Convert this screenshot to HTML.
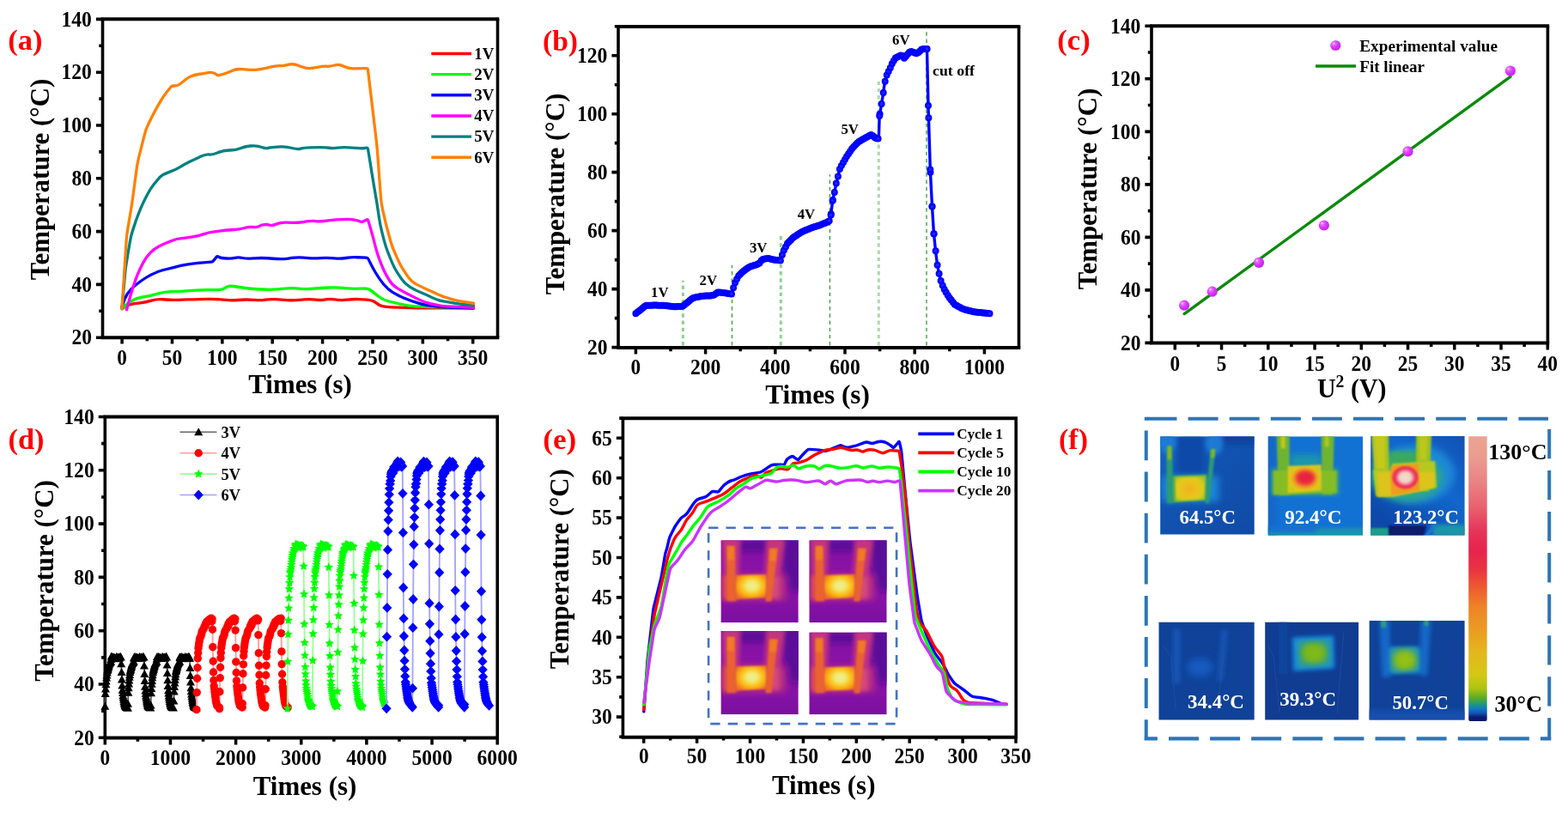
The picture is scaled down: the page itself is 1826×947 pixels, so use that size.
<!DOCTYPE html>
<html lang="en"><head><meta charset="utf-8"><title>Figure</title>
<style>html,body{margin:0;padding:0;background:#fff;overflow:hidden}svg{display:block}text{font-family:"Liberation Serif","DejaVu Serif",serif;font-weight:bold}</style>
</head><body>
<svg width="1826" height="947" viewBox="0 0 1826 947">
<rect width="1826" height="947" fill="#fff"/>
<path d="M117.70 22.30H581.30M117.70 393.30H581.30" fill="none" stroke="#000" stroke-width="4.0"/>
<path d="M119.50 22.30V393.30M579.50 22.30V393.30" fill="none" stroke="#000" stroke-width="3.6"/>
<path d="M142.10 393.30v7.2M200.47 393.30v7.2M258.84 393.30v7.2M317.21 393.30v7.2M375.59 393.30v7.2M433.96 393.30v7.2M492.33 393.30v7.2M550.70 393.30v7.2M171.29 393.30v4.0M229.66 393.30v4.0M288.03 393.30v4.0M346.40 393.30v4.0M404.77 393.30v4.0M463.14 393.30v4.0M521.51 393.30v4.0" stroke="#000" stroke-width="3.5" fill="none"/>
<text x="142.1" y="425.3" font-size="24.5" text-anchor="middle" fill="#000" textLength="11.6" lengthAdjust="spacingAndGlyphs" >0</text>
<text x="200.5" y="425.3" font-size="24.5" text-anchor="middle" fill="#000" textLength="23.5" lengthAdjust="spacingAndGlyphs" >50</text>
<text x="258.8" y="425.3" font-size="24.5" text-anchor="middle" fill="#000" textLength="35.4" lengthAdjust="spacingAndGlyphs" >100</text>
<text x="317.2" y="425.3" font-size="24.5" text-anchor="middle" fill="#000" textLength="35.4" lengthAdjust="spacingAndGlyphs" >150</text>
<text x="375.6" y="425.3" font-size="24.5" text-anchor="middle" fill="#000" textLength="35.4" lengthAdjust="spacingAndGlyphs" >200</text>
<text x="434.0" y="425.3" font-size="24.5" text-anchor="middle" fill="#000" textLength="35.4" lengthAdjust="spacingAndGlyphs" >250</text>
<text x="492.3" y="425.3" font-size="24.5" text-anchor="middle" fill="#000" textLength="35.4" lengthAdjust="spacingAndGlyphs" >300</text>
<text x="550.7" y="425.3" font-size="24.5" text-anchor="middle" fill="#000" textLength="35.4" lengthAdjust="spacingAndGlyphs" >350</text>
<path d="M119.50 393.20h-7.6M119.50 331.40h-7.6M119.50 269.60h-7.6M119.50 207.80h-7.6M119.50 146.00h-7.6M119.50 84.20h-7.6M119.50 22.40h-7.6M119.50 362.30h-4.2M119.50 300.50h-4.2M119.50 238.70h-4.2M119.50 176.90h-4.2M119.50 115.10h-4.2M119.50 53.30h-4.2" stroke="#000" stroke-width="3.6" fill="none"/>
<text x="106.9" y="401.4" font-size="24.5" text-anchor="end" fill="#000" textLength="23.5" lengthAdjust="spacingAndGlyphs" >20</text>
<text x="106.9" y="339.6" font-size="24.5" text-anchor="end" fill="#000" textLength="23.5" lengthAdjust="spacingAndGlyphs" >40</text>
<text x="106.9" y="277.8" font-size="24.5" text-anchor="end" fill="#000" textLength="23.5" lengthAdjust="spacingAndGlyphs" >60</text>
<text x="106.9" y="216.0" font-size="24.5" text-anchor="end" fill="#000" textLength="23.5" lengthAdjust="spacingAndGlyphs" >80</text>
<text x="106.9" y="154.2" font-size="24.5" text-anchor="end" fill="#000" textLength="35.4" lengthAdjust="spacingAndGlyphs" >100</text>
<text x="106.9" y="92.4" font-size="24.5" text-anchor="end" fill="#000" textLength="35.4" lengthAdjust="spacingAndGlyphs" >120</text>
<text x="106.9" y="30.6" font-size="24.5" text-anchor="end" fill="#000" textLength="35.4" lengthAdjust="spacingAndGlyphs" >140</text>
<text x="349.5" y="458.0" font-size="31" text-anchor="middle" fill="#000" textLength="120.5" lengthAdjust="spacingAndGlyphs" >Times (s)</text>
<text transform="translate(57.0,209.0) rotate(-90)" font-size="31" text-anchor="middle" fill="#000" textLength="234.5" lengthAdjust="spacingAndGlyphs">Temperature (°C)</text>
<text x="29.4" y="57.8" font-size="34" text-anchor="middle" fill="#f00" textLength="40.3" lengthAdjust="spacingAndGlyphs" >(a)</text>
<path d="M142.00 359.50L146.00 357.00Q150.00 354.50 156.95 353.63L163.05 352.87Q170.00 352.00 176.25 350.12L176.25 350.12Q182.50 348.25 189.48 348.75L193.02 349.00Q200.00 349.50 207.00 349.29L218.00 348.96Q225.00 348.75 232.00 348.61L243.00 348.39Q250.00 348.25 256.97 348.86L263.03 349.39Q270.00 350.00 276.98 349.50L280.52 349.25Q287.50 348.75 294.48 349.28L297.02 349.47Q304.00 350.00 309.00 349.12L309.00 349.12Q314.00 348.25 320.99 348.69L334.51 349.56Q341.50 350.00 348.47 349.39L354.53 348.86Q361.50 348.25 367.75 349.12L367.75 349.12Q374.00 350.00 379.00 348.88L379.00 348.88Q384.00 347.75 390.25 348.88L390.25 348.88Q396.50 350.00 403.45 349.19L404.55 349.06Q411.50 348.25 418.49 348.64L427.01 349.11Q434.00 349.50 437.75 352.62L437.75 352.62Q441.50 355.75 445.25 356.62L445.25 356.62Q449.00 357.50 455.99 357.79L472.01 358.46Q479.00 358.75 486.00 358.75L551.50 358.75" fill="none" stroke="#ff0000" stroke-width="3.3" stroke-linejoin="round" stroke-linecap="round" />
<path d="M142.00 359.50L146.00 355.75Q150.00 352.00 155.00 349.50L155.00 349.50Q160.00 347.00 166.25 346.00L166.25 346.00Q172.50 345.00 179.29 343.30L185.71 341.70Q192.50 340.00 199.49 339.72L210.51 339.28Q217.50 339.00 224.47 338.40L228.03 338.10Q235.00 337.50 242.00 337.57L251.75 337.68Q258.75 337.75 261.88 335.50L261.88 335.50Q265.00 333.25 267.50 333.25L267.50 333.25Q270.00 333.25 276.93 334.25L285.57 335.50Q292.50 336.50 298.25 336.75L298.25 336.75Q304.00 337.00 310.25 337.25L310.25 337.25Q316.50 337.50 323.47 336.87L334.53 335.88Q341.50 335.25 347.75 336.12L347.75 336.12Q354.00 337.00 360.98 336.50L382.02 335.00Q389.00 334.50 395.97 335.12L404.53 335.88Q411.50 336.50 418.49 336.20L422.01 336.05Q429.00 335.75 432.75 338.88L432.75 338.88Q436.50 342.00 441.50 345.75L441.50 345.75Q446.50 349.50 452.75 351.00L452.75 351.00Q459.00 352.50 465.82 354.06L469.68 354.94Q476.50 356.50 483.49 356.81L492.01 357.19Q499.00 357.50 506.00 357.67L551.50 358.75" fill="none" stroke="#00ff00" stroke-width="3.3" stroke-linejoin="round" stroke-linecap="round" />
<path d="M142.00 357.00L145.09 348.57Q147.50 342.00 152.45 337.05L152.55 336.95Q157.50 332.00 163.23 327.99L164.27 327.26Q170.00 323.25 176.16 319.92L176.34 319.83Q182.50 316.50 189.28 314.76L193.22 313.74Q200.00 312.00 206.80 310.35L210.70 309.40Q217.50 307.75 224.47 307.05L230.53 306.45Q237.50 305.75 242.50 305.38L246.00 305.11Q247.50 305.00 248.45 303.84L252.05 299.41Q253.00 298.25 254.31 298.98L255.25 299.50Q257.50 300.75 263.75 301.00L263.75 301.00Q270.00 301.25 273.75 300.38L273.75 300.38Q277.50 299.50 282.50 300.50L282.50 300.50Q287.50 301.50 294.48 300.97L297.02 300.78Q304.00 300.25 310.98 300.74L322.02 301.51Q329.00 302.00 335.93 301.01L339.57 300.49Q346.50 299.50 353.47 300.11L359.53 300.64Q366.50 301.25 372.75 300.62L372.75 300.62Q379.00 300.00 385.97 300.60L389.53 300.90Q396.50 301.50 402.75 300.50L402.75 300.50Q409.00 299.50 415.99 299.77L426.75 300.19Q428.25 300.25 428.91 301.60L431.12 306.12Q434.00 312.00 437.60 318.00L437.90 318.50Q441.50 324.50 445.87 329.97L447.13 331.53Q451.50 337.00 457.50 340.60L458.00 340.90Q464.00 344.50 470.46 347.19L472.54 348.06Q479.00 350.75 485.73 352.67L489.77 353.83Q496.50 355.75 503.47 356.45L509.53 357.05Q516.50 357.75 523.50 358.00L551.50 359.00" fill="none" stroke="#0000ff" stroke-width="3.3" stroke-linejoin="round" stroke-linecap="round" />
<path d="M147.50 360.75L150.70 348.76Q152.50 342.00 154.71 335.36L157.79 326.14Q160.00 319.50 163.13 313.24L166.87 305.76Q170.00 299.50 174.95 294.55L175.05 294.45Q180.00 289.50 185.00 287.00L185.00 287.00Q190.00 284.50 196.46 281.81L198.54 280.94Q205.00 278.25 211.25 277.62L211.25 277.62Q217.50 277.00 224.40 275.85L225.60 275.65Q232.50 274.50 237.50 272.62L237.50 272.62Q242.50 270.75 249.45 269.88L255.55 269.12Q262.50 268.25 269.48 267.75L273.02 267.50Q280.00 267.00 285.00 265.50L285.00 265.50Q290.00 264.00 295.00 264.50L295.00 264.50Q300.00 265.00 302.00 263.50L302.00 263.50Q304.00 262.00 307.75 261.62L307.75 261.62Q311.50 261.25 314.00 262.25L314.00 262.25Q316.50 263.25 321.50 261.12L321.50 261.12Q326.50 259.00 333.50 259.17L339.50 259.33Q346.50 259.50 353.43 258.51L357.07 257.99Q364.00 257.00 367.75 257.62L367.75 257.62Q371.50 258.25 378.45 257.38L384.55 256.62Q391.50 255.75 398.50 255.58L404.50 255.42Q411.50 255.25 416.50 257.00L420.08 258.25Q421.50 258.75 422.83 258.06L426.92 255.94Q428.25 255.25 428.68 256.69L432.00 267.79Q434.00 274.50 435.70 281.29L437.30 287.71Q439.00 294.50 441.46 301.05L444.04 307.95Q446.50 314.50 449.97 320.58L453.03 325.92Q456.50 332.00 462.50 335.60L463.00 335.90Q469.00 339.50 474.00 342.00L474.00 342.00Q479.00 344.50 485.26 347.63L487.74 348.87Q494.00 352.00 500.83 353.54L507.17 354.96Q514.00 356.50 520.99 356.83L551.50 358.25" fill="none" stroke="#ff00ff" stroke-width="3.3" stroke-linejoin="round" stroke-linecap="round" />
<path d="M142.00 359.50L145.63 318.97Q146.25 312.00 147.40 305.10L151.35 281.40Q152.50 274.50 154.71 267.86L157.79 258.64Q160.00 252.00 162.69 245.54L163.56 243.46Q166.25 237.00 169.45 230.78L171.80 226.22Q175.00 220.00 179.37 214.53L180.63 212.97Q185.00 207.50 187.50 205.25L187.50 205.25Q190.00 203.00 196.57 200.59L198.43 199.91Q205.00 197.50 210.00 194.38L210.00 194.38Q215.00 191.25 220.00 188.75L220.00 188.75Q225.00 186.25 231.38 183.38L233.62 182.37Q240.00 179.50 243.75 180.00L243.75 180.00Q247.50 180.50 253.75 177.75L253.75 177.75Q260.00 175.00 267.00 175.00L268.00 175.00Q275.00 175.00 280.00 172.75L280.00 172.75Q285.00 170.50 291.25 170.00L291.25 170.00Q297.50 169.50 300.75 170.38L300.75 170.38Q304.00 171.25 307.00 172.12L307.00 172.12Q310.00 173.00 313.25 172.12L313.25 172.12Q316.50 171.25 323.50 171.05L327.00 170.95Q334.00 170.75 340.25 172.50L340.25 172.50Q346.50 174.25 350.25 173.12L350.25 173.12Q354.00 172.00 361.00 171.86L372.00 171.64Q379.00 171.50 383.38 172.25L383.38 172.25Q387.75 173.00 393.38 172.12L393.38 172.12Q399.00 171.25 405.98 171.79L414.52 172.46Q421.50 173.00 424.88 172.50L426.77 172.22Q428.25 172.00 428.49 173.48L432.88 200.59Q434.00 207.50 435.17 214.40L437.83 230.10Q439.00 237.00 440.04 243.92L441.71 255.08Q442.75 262.00 444.45 268.79L447.30 280.21Q449.00 287.00 451.60 293.50L456.40 305.50Q459.00 312.00 462.88 317.82L467.62 324.93Q471.50 330.75 477.50 334.35L478.00 334.65Q484.00 338.25 490.25 340.75L490.25 340.75Q496.50 343.25 502.75 346.38L502.75 346.38Q509.00 349.50 515.88 350.79L522.12 351.96Q529.00 353.25 535.96 354.02L551.50 355.75" fill="none" stroke="#008080" stroke-width="3.3" stroke-linejoin="round" stroke-linecap="round" />
<path d="M142.00 359.50L147.05 281.49Q147.50 274.50 148.65 267.60L152.60 243.90Q153.75 237.00 154.67 230.06L159.08 196.94Q160.00 190.00 161.70 183.21L168.30 156.79Q170.00 150.00 173.13 143.74L176.87 136.26Q180.00 130.00 183.47 123.92L186.53 118.58Q190.00 112.50 194.37 107.03L199.06 101.17Q200.00 100.00 201.50 100.00L203.75 100.00Q207.50 100.00 212.50 95.62L212.50 95.62Q217.50 91.25 221.25 89.38L221.25 89.38Q225.00 87.50 231.25 86.50L231.25 86.50Q237.50 85.50 242.50 84.62L242.50 84.62Q247.50 83.75 250.62 85.88L252.51 87.16Q253.75 88.00 255.20 87.61L259.38 86.50Q265.00 85.00 270.00 82.50L270.00 82.50Q275.00 80.00 281.97 80.61L288.03 81.14Q295.00 81.75 299.50 81.12L299.50 81.12Q304.00 80.50 310.85 79.04L317.15 77.71Q324.00 76.25 326.50 76.62L326.50 76.62Q329.00 77.00 335.25 75.38L335.25 75.38Q341.50 73.75 347.96 76.44L351.29 77.81Q357.75 80.50 364.63 79.22L369.62 78.28Q376.50 77.00 380.25 77.25L380.25 77.25Q384.00 77.50 389.62 76.00L389.62 76.00Q395.25 74.50 400.25 77.25L400.25 77.25Q405.25 80.00 412.25 79.85L426.75 79.53Q428.25 79.50 428.43 80.99L438.17 163.05Q439.00 170.00 439.52 176.98L443.48 229.77Q444.00 236.75 445.50 243.59L447.50 252.66Q449.00 259.50 450.84 266.25L454.66 280.25Q456.50 287.00 459.34 293.40L463.66 303.10Q466.50 309.50 470.38 315.32L475.12 322.43Q479.00 328.25 485.26 331.38L487.74 332.62Q494.00 335.75 500.40 338.59L510.10 342.91Q516.50 345.75 523.23 347.67L527.27 348.83Q534.00 350.75 540.93 351.74L551.50 353.25" fill="none" stroke="#ff8000" stroke-width="3.3" stroke-linejoin="round" stroke-linecap="round" />
<path d="M502.3 62.50H549" stroke="#ff0000" stroke-width="3.4"/>
<text x="552.3" y="68.8" font-size="18" text-anchor="start" fill="#000" textLength="23.0" lengthAdjust="spacingAndGlyphs" >1V</text>
<path d="M502.3 86.65H549" stroke="#00ff00" stroke-width="3.4"/>
<text x="552.3" y="93.0" font-size="18" text-anchor="start" fill="#000" textLength="23.0" lengthAdjust="spacingAndGlyphs" >2V</text>
<path d="M502.3 110.80H549" stroke="#0000ff" stroke-width="3.4"/>
<text x="552.3" y="117.1" font-size="18" text-anchor="start" fill="#000" textLength="23.0" lengthAdjust="spacingAndGlyphs" >3V</text>
<path d="M502.3 134.95H549" stroke="#ff00ff" stroke-width="3.4"/>
<text x="552.3" y="141.2" font-size="18" text-anchor="start" fill="#000" textLength="23.0" lengthAdjust="spacingAndGlyphs" >4V</text>
<path d="M502.3 159.10H549" stroke="#008080" stroke-width="3.4"/>
<text x="552.3" y="165.4" font-size="18" text-anchor="start" fill="#000" textLength="23.0" lengthAdjust="spacingAndGlyphs" >5V</text>
<path d="M502.3 183.25H549" stroke="#ff8000" stroke-width="3.4"/>
<text x="552.3" y="189.6" font-size="18" text-anchor="start" fill="#000" textLength="23.0" lengthAdjust="spacingAndGlyphs" >6V</text>
<path d="M718.20 30.90H1188.30M718.20 405.00H1188.30" fill="none" stroke="#000" stroke-width="4.0"/>
<path d="M720.00 30.90V405.00M1186.50 30.90V405.00" fill="none" stroke="#000" stroke-width="3.6"/>
<path d="M740.40 405.00v7.6M821.60 405.00v7.6M902.80 405.00v7.6M984.00 405.00v7.6M1065.20 405.00v7.6M1146.40 405.00v7.6M781.00 405.00v4.2M862.20 405.00v4.2M943.40 405.00v4.2M1024.60 405.00v4.2M1105.80 405.00v4.2" stroke="#000" stroke-width="3.5" fill="none"/>
<text x="740.4" y="436.3" font-size="24.5" text-anchor="middle" fill="#000" textLength="11.6" lengthAdjust="spacingAndGlyphs" >0</text>
<text x="821.6" y="436.3" font-size="24.5" text-anchor="middle" fill="#000" textLength="35.4" lengthAdjust="spacingAndGlyphs" >200</text>
<text x="902.8" y="436.3" font-size="24.5" text-anchor="middle" fill="#000" textLength="35.4" lengthAdjust="spacingAndGlyphs" >400</text>
<text x="984.0" y="436.3" font-size="24.5" text-anchor="middle" fill="#000" textLength="35.4" lengthAdjust="spacingAndGlyphs" >600</text>
<text x="1065.2" y="436.3" font-size="24.5" text-anchor="middle" fill="#000" textLength="35.4" lengthAdjust="spacingAndGlyphs" >800</text>
<text x="1146.4" y="436.3" font-size="24.5" text-anchor="middle" fill="#000" textLength="47.3" lengthAdjust="spacingAndGlyphs" >1000</text>
<path d="M720.00 404.60h-7.6M720.00 336.62h-7.6M720.00 268.64h-7.6M720.00 200.66h-7.6M720.00 132.68h-7.6M720.00 64.70h-7.6M720.00 370.61h-4.2M720.00 302.63h-4.2M720.00 234.65h-4.2M720.00 166.67h-4.2M720.00 98.69h-4.2M720.00 30.71h-4.2" stroke="#000" stroke-width="3.6" fill="none"/>
<text x="707.4" y="412.8" font-size="24.5" text-anchor="end" fill="#000" textLength="23.5" lengthAdjust="spacingAndGlyphs" >20</text>
<text x="707.4" y="344.8" font-size="24.5" text-anchor="end" fill="#000" textLength="23.5" lengthAdjust="spacingAndGlyphs" >40</text>
<text x="707.4" y="276.8" font-size="24.5" text-anchor="end" fill="#000" textLength="23.5" lengthAdjust="spacingAndGlyphs" >60</text>
<text x="707.4" y="208.9" font-size="24.5" text-anchor="end" fill="#000" textLength="23.5" lengthAdjust="spacingAndGlyphs" >80</text>
<text x="707.4" y="140.9" font-size="24.5" text-anchor="end" fill="#000" textLength="35.4" lengthAdjust="spacingAndGlyphs" >100</text>
<text x="707.4" y="72.9" font-size="24.5" text-anchor="end" fill="#000" textLength="35.4" lengthAdjust="spacingAndGlyphs" >120</text>
<text x="952.1" y="470.2" font-size="31" text-anchor="middle" fill="#000" textLength="121.5" lengthAdjust="spacingAndGlyphs" >Times (s)</text>
<text transform="translate(657.0,226.0) rotate(-90)" font-size="31" text-anchor="middle" fill="#000" textLength="234.5" lengthAdjust="spacingAndGlyphs">Temperature (°C)</text>
<text x="652.5" y="58.8" font-size="34" text-anchor="middle" fill="#f00" textLength="41.0" lengthAdjust="spacingAndGlyphs" >(b)</text>
<path d="M1339.20 30.30H1804.20M1339.20 399.50H1804.20" fill="none" stroke="#000" stroke-width="4.0"/>
<path d="M1341.00 30.30V399.50M1802.40 30.30V399.50" fill="none" stroke="#000" stroke-width="3.6"/>
<path d="M1368.30 399.50v8.1M1422.55 399.50v8.1M1476.80 399.50v8.1M1531.05 399.50v8.1M1585.30 399.50v8.1M1639.55 399.50v8.1M1693.80 399.50v8.1M1748.05 399.50v8.1M1802.30 399.50v8.1M1395.42 399.50v4.4M1449.67 399.50v4.4M1503.92 399.50v4.4M1558.17 399.50v4.4M1612.42 399.50v4.4M1666.67 399.50v4.4M1720.92 399.50v4.4M1775.17 399.50v4.4" stroke="#000" stroke-width="3.5" fill="none"/>
<text x="1368.3" y="431.8" font-size="24.5" text-anchor="middle" fill="#000" textLength="11.6" lengthAdjust="spacingAndGlyphs" >0</text>
<text x="1422.5" y="431.8" font-size="24.5" text-anchor="middle" fill="#000" textLength="11.6" lengthAdjust="spacingAndGlyphs" >5</text>
<text x="1476.8" y="431.8" font-size="24.5" text-anchor="middle" fill="#000" textLength="23.5" lengthAdjust="spacingAndGlyphs" >10</text>
<text x="1531.0" y="431.8" font-size="24.5" text-anchor="middle" fill="#000" textLength="23.5" lengthAdjust="spacingAndGlyphs" >15</text>
<text x="1585.3" y="431.8" font-size="24.5" text-anchor="middle" fill="#000" textLength="23.5" lengthAdjust="spacingAndGlyphs" >20</text>
<text x="1639.5" y="431.8" font-size="24.5" text-anchor="middle" fill="#000" textLength="23.5" lengthAdjust="spacingAndGlyphs" >25</text>
<text x="1693.8" y="431.8" font-size="24.5" text-anchor="middle" fill="#000" textLength="23.5" lengthAdjust="spacingAndGlyphs" >30</text>
<text x="1748.0" y="431.8" font-size="24.5" text-anchor="middle" fill="#000" textLength="23.5" lengthAdjust="spacingAndGlyphs" >35</text>
<text x="1802.3" y="431.8" font-size="24.5" text-anchor="middle" fill="#000" textLength="23.5" lengthAdjust="spacingAndGlyphs" >40</text>
<path d="M1341.00 399.40h-7.6M1341.00 337.88h-7.6M1341.00 276.37h-7.6M1341.00 214.85h-7.6M1341.00 153.33h-7.6M1341.00 91.82h-7.6M1341.00 30.30h-7.6M1341.00 368.64h-4.2M1341.00 307.12h-4.2M1341.00 245.61h-4.2M1341.00 184.09h-4.2M1341.00 122.57h-4.2M1341.00 61.06h-4.2" stroke="#000" stroke-width="3.6" fill="none"/>
<text x="1328.4" y="407.6" font-size="24.5" text-anchor="end" fill="#000" textLength="23.5" lengthAdjust="spacingAndGlyphs" >20</text>
<text x="1328.4" y="346.1" font-size="24.5" text-anchor="end" fill="#000" textLength="23.5" lengthAdjust="spacingAndGlyphs" >40</text>
<text x="1328.4" y="284.6" font-size="24.5" text-anchor="end" fill="#000" textLength="23.5" lengthAdjust="spacingAndGlyphs" >60</text>
<text x="1328.4" y="223.0" font-size="24.5" text-anchor="end" fill="#000" textLength="23.5" lengthAdjust="spacingAndGlyphs" >80</text>
<text x="1328.4" y="161.5" font-size="24.5" text-anchor="end" fill="#000" textLength="35.4" lengthAdjust="spacingAndGlyphs" >100</text>
<text x="1328.4" y="100.0" font-size="24.5" text-anchor="end" fill="#000" textLength="35.4" lengthAdjust="spacingAndGlyphs" >120</text>
<text x="1328.4" y="38.5" font-size="24.5" text-anchor="end" fill="#000" textLength="35.4" lengthAdjust="spacingAndGlyphs" >140</text>
<text transform="translate(1276.7,220.0) rotate(-90)" font-size="31" text-anchor="middle" fill="#000" textLength="234.5" lengthAdjust="spacingAndGlyphs">Temperature (°C)</text>
<text x="1250.5" y="57.8" font-size="34" text-anchor="middle" fill="#f00" textLength="38.3" lengthAdjust="spacingAndGlyphs" >(c)</text>
<path d="M120.50 485.50H581.00M120.50 859.40H581.00" fill="none" stroke="#000" stroke-width="4.0"/>
<path d="M122.30 485.50V859.40M579.20 485.50V859.40" fill="none" stroke="#000" stroke-width="3.6"/>
<path d="M122.30 859.40v8.2M198.45 859.40v8.2M274.60 859.40v8.2M350.75 859.40v8.2M426.90 859.40v8.2M503.05 859.40v8.2M579.20 859.40v8.2M160.38 859.40v4.4M236.53 859.40v4.4M312.68 859.40v4.4M388.83 859.40v4.4M464.98 859.40v4.4M541.12 859.40v4.4" stroke="#000" stroke-width="3.5" fill="none"/>
<text x="122.3" y="891.0" font-size="24.5" text-anchor="middle" fill="#000" textLength="11.6" lengthAdjust="spacingAndGlyphs" >0</text>
<text x="198.4" y="891.0" font-size="24.5" text-anchor="middle" fill="#000" textLength="47.3" lengthAdjust="spacingAndGlyphs" >1000</text>
<text x="274.6" y="891.0" font-size="24.5" text-anchor="middle" fill="#000" textLength="47.3" lengthAdjust="spacingAndGlyphs" >2000</text>
<text x="350.8" y="891.0" font-size="24.5" text-anchor="middle" fill="#000" textLength="47.3" lengthAdjust="spacingAndGlyphs" >3000</text>
<text x="426.9" y="891.0" font-size="24.5" text-anchor="middle" fill="#000" textLength="47.3" lengthAdjust="spacingAndGlyphs" >4000</text>
<text x="503.1" y="891.0" font-size="24.5" text-anchor="middle" fill="#000" textLength="47.3" lengthAdjust="spacingAndGlyphs" >5000</text>
<text x="579.2" y="891.0" font-size="24.5" text-anchor="middle" fill="#000" textLength="47.3" lengthAdjust="spacingAndGlyphs" >6000</text>
<path d="M122.30 859.30h-7.6M122.30 797.00h-7.6M122.30 734.70h-7.6M122.30 672.40h-7.6M122.30 610.10h-7.6M122.30 547.80h-7.6M122.30 485.50h-7.6M122.30 828.15h-4.2M122.30 765.85h-4.2M122.30 703.55h-4.2M122.30 641.25h-4.2M122.30 578.95h-4.2M122.30 516.65h-4.2" stroke="#000" stroke-width="3.6" fill="none"/>
<text x="109.7" y="867.5" font-size="24.5" text-anchor="end" fill="#000" textLength="23.5" lengthAdjust="spacingAndGlyphs" >20</text>
<text x="109.7" y="805.2" font-size="24.5" text-anchor="end" fill="#000" textLength="23.5" lengthAdjust="spacingAndGlyphs" >40</text>
<text x="109.7" y="742.9" font-size="24.5" text-anchor="end" fill="#000" textLength="23.5" lengthAdjust="spacingAndGlyphs" >60</text>
<text x="109.7" y="680.6" font-size="24.5" text-anchor="end" fill="#000" textLength="23.5" lengthAdjust="spacingAndGlyphs" >80</text>
<text x="109.7" y="618.3" font-size="24.5" text-anchor="end" fill="#000" textLength="35.4" lengthAdjust="spacingAndGlyphs" >100</text>
<text x="109.7" y="556.0" font-size="24.5" text-anchor="end" fill="#000" textLength="35.4" lengthAdjust="spacingAndGlyphs" >120</text>
<text x="109.7" y="493.7" font-size="24.5" text-anchor="end" fill="#000" textLength="35.4" lengthAdjust="spacingAndGlyphs" >140</text>
<text x="355.0" y="926.2" font-size="31" text-anchor="middle" fill="#000" textLength="120.5" lengthAdjust="spacingAndGlyphs" >Times (s)</text>
<text transform="translate(62.3,676.5) rotate(-90)" font-size="31" text-anchor="middle" fill="#000" textLength="234.5" lengthAdjust="spacingAndGlyphs">Temperature (°C)</text>
<text x="30.5" y="522.8" font-size="34" text-anchor="middle" fill="#f00" textLength="42.0" lengthAdjust="spacingAndGlyphs" >(d)</text>
<path d="M723.60 487.20H1185.00M723.60 858.80H1185.00" fill="none" stroke="#000" stroke-width="4.0"/>
<path d="M725.40 487.20V858.80M1183.20 487.20V858.80" fill="none" stroke="#000" stroke-width="3.6"/>
<path d="M749.70 858.80v6.9M811.60 858.80v6.9M873.50 858.80v6.9M935.40 858.80v6.9M997.30 858.80v6.9M1059.20 858.80v6.9M1121.10 858.80v6.9M1183.00 858.80v6.9M780.65 858.80v3.8M842.55 858.80v3.8M904.45 858.80v3.8M966.35 858.80v3.8M1028.25 858.80v3.8M1090.15 858.80v3.8M1152.05 858.80v3.8" stroke="#000" stroke-width="3.5" fill="none"/>
<text x="749.7" y="889.2" font-size="24.5" text-anchor="middle" fill="#000" textLength="11.6" lengthAdjust="spacingAndGlyphs" >0</text>
<text x="811.6" y="889.2" font-size="24.5" text-anchor="middle" fill="#000" textLength="23.5" lengthAdjust="spacingAndGlyphs" >50</text>
<text x="873.5" y="889.2" font-size="24.5" text-anchor="middle" fill="#000" textLength="35.4" lengthAdjust="spacingAndGlyphs" >100</text>
<text x="935.4" y="889.2" font-size="24.5" text-anchor="middle" fill="#000" textLength="35.4" lengthAdjust="spacingAndGlyphs" >150</text>
<text x="997.3" y="889.2" font-size="24.5" text-anchor="middle" fill="#000" textLength="35.4" lengthAdjust="spacingAndGlyphs" >200</text>
<text x="1059.2" y="889.2" font-size="24.5" text-anchor="middle" fill="#000" textLength="35.4" lengthAdjust="spacingAndGlyphs" >250</text>
<text x="1121.1" y="889.2" font-size="24.5" text-anchor="middle" fill="#000" textLength="35.4" lengthAdjust="spacingAndGlyphs" >300</text>
<text x="1183.0" y="889.2" font-size="24.5" text-anchor="middle" fill="#000" textLength="35.4" lengthAdjust="spacingAndGlyphs" >350</text>
<path d="M725.40 835.10h-7.6M725.40 788.70h-7.6M725.40 742.30h-7.6M725.40 695.90h-7.6M725.40 649.50h-7.6M725.40 603.10h-7.6M725.40 556.70h-7.6M725.40 510.30h-7.6M725.40 858.30h-4.2M725.40 811.90h-4.2M725.40 765.50h-4.2M725.40 719.10h-4.2M725.40 672.70h-4.2M725.40 626.30h-4.2M725.40 579.90h-4.2M725.40 533.50h-4.2M725.40 487.10h-4.2" stroke="#000" stroke-width="3.6" fill="none"/>
<text x="712.8" y="843.3" font-size="24.5" text-anchor="end" fill="#000" textLength="23.5" lengthAdjust="spacingAndGlyphs" >30</text>
<text x="712.8" y="796.9" font-size="24.5" text-anchor="end" fill="#000" textLength="23.5" lengthAdjust="spacingAndGlyphs" >35</text>
<text x="712.8" y="750.5" font-size="24.5" text-anchor="end" fill="#000" textLength="23.5" lengthAdjust="spacingAndGlyphs" >40</text>
<text x="712.8" y="704.1" font-size="24.5" text-anchor="end" fill="#000" textLength="23.5" lengthAdjust="spacingAndGlyphs" >45</text>
<text x="712.8" y="657.7" font-size="24.5" text-anchor="end" fill="#000" textLength="23.5" lengthAdjust="spacingAndGlyphs" >50</text>
<text x="712.8" y="611.3" font-size="24.5" text-anchor="end" fill="#000" textLength="23.5" lengthAdjust="spacingAndGlyphs" >55</text>
<text x="712.8" y="564.9" font-size="24.5" text-anchor="end" fill="#000" textLength="23.5" lengthAdjust="spacingAndGlyphs" >60</text>
<text x="712.8" y="518.5" font-size="24.5" text-anchor="end" fill="#000" textLength="23.5" lengthAdjust="spacingAndGlyphs" >65</text>
<text x="959.2" y="925.3" font-size="31" text-anchor="middle" fill="#000" textLength="120.5" lengthAdjust="spacingAndGlyphs" >Times (s)</text>
<text transform="translate(662.3,662.8) rotate(-90)" font-size="31" text-anchor="middle" fill="#000" textLength="233.0" lengthAdjust="spacingAndGlyphs">Temperature (°C)</text>
<text x="651.8" y="522.8" font-size="34" text-anchor="middle" fill="#f00" textLength="39.0" lengthAdjust="spacingAndGlyphs" >(e)</text>
<text x="1250.0" y="522.8" font-size="34" text-anchor="middle" fill="#f00" textLength="33.8" lengthAdjust="spacingAndGlyphs" >(f)</text>
<path d="M795.4 402.5V326.7" stroke="#8fd08f" stroke-width="3.0" stroke-dasharray="4.4 3.8" fill="none"/>
<path d="M852.5 402.5V309.0" stroke="#3aa33a" stroke-width="1.4" stroke-dasharray="4.4 3.8" fill="none"/>
<path d="M909.3 402.5V273.5" stroke="#8fd08f" stroke-width="3.0" stroke-dasharray="4.4 3.8" fill="none"/>
<path d="M966.4 402.5V203.3" stroke="#3aa33a" stroke-width="1.4" stroke-dasharray="4.4 3.8" fill="none"/>
<path d="M1023.3 402.5V94.0" stroke="#a6dca6" stroke-width="3.0" stroke-dasharray="4.4 3.8" fill="none"/>
<path d="M1079.0 402.5V32.0" stroke="#3aa33a" stroke-width="1.4" stroke-dasharray="4.4 3.8" fill="none"/>
<path d="M740.40 365.20L743.82 362.53Q745.40 361.30 746.94 360.02L750.46 357.08Q752.00 355.80 754.00 355.76L761.00 355.64Q763.00 355.60 765.00 355.64L772.00 355.76Q774.00 355.80 775.98 356.07L783.02 357.03Q785.00 357.30 787.00 357.22L792.80 356.98Q794.80 356.90 796.36 355.65L798.74 353.75Q800.30 352.50 801.84 351.22L805.36 348.28Q806.90 347.00 808.86 346.61L815.94 345.19Q817.90 344.80 819.90 344.71L826.90 344.39Q828.90 344.30 830.55 343.75L830.55 343.75Q832.20 343.20 833.73 341.91L833.97 341.69Q835.50 340.40 837.50 340.54L837.90 340.56Q839.90 340.70 841.88 340.99L843.42 341.21Q845.40 341.50 847.37 341.83L850.52 342.35Q852.00 342.60 852.41 341.16L853.65 336.82Q854.20 334.90 854.84 333.01L855.76 330.29Q856.40 328.40 857.29 326.61L858.81 323.59Q859.70 321.80 861.11 320.39L863.79 317.71Q865.20 316.30 866.83 315.14L871.27 311.96Q872.90 310.80 874.80 310.19L879.70 308.61Q881.60 308.00 883.25 307.20L883.25 307.20Q884.90 306.40 885.88 304.66L886.36 303.81Q887.10 302.50 888.56 302.15L891.76 301.37Q893.70 300.90 895.66 301.31L899.44 302.09Q901.40 302.50 903.38 302.78L907.62 303.39Q909.10 303.60 909.49 302.15L911.27 295.63Q911.80 293.70 912.70 291.91L916.00 285.39Q916.90 283.60 918.30 282.18L922.20 278.22Q923.60 276.80 925.27 275.70L932.13 271.20Q933.80 270.10 935.64 269.32L942.06 266.58Q943.90 265.80 945.80 265.18L952.20 263.12Q954.10 262.50 955.95 261.75L960.65 259.85Q962.50 259.10 964.22 258.08L965.41 257.37Q966.70 256.60 966.92 255.12L967.30 252.58Q967.60 250.60 967.84 248.61L969.36 235.79Q969.60 233.80 970.04 231.85L971.36 225.95Q971.80 224.00 972.18 222.04L973.42 215.76Q973.80 213.80 974.29 211.86L975.51 206.94Q976.00 205.00 976.44 203.05L977.26 199.35Q977.70 197.40 978.61 195.62L980.19 192.48Q981.10 190.70 982.11 188.98L985.09 183.92Q986.10 182.20 987.22 180.54L991.78 173.76Q992.90 172.10 994.31 170.69L998.29 166.71Q999.70 165.30 1001.42 164.28L1006.38 161.32Q1008.10 160.30 1009.89 159.41L1013.56 157.57Q1014.90 156.90 1016.05 157.86L1018.37 159.81Q1019.90 161.10 1021.60 161.35L1021.82 161.38Q1023.30 161.60 1023.35 160.10L1024.13 137.00Q1024.20 135.00 1024.54 133.03L1026.16 123.72Q1026.50 121.75 1026.82 119.78L1028.18 111.22Q1028.50 109.25 1028.77 107.27L1029.98 98.23Q1030.25 96.25 1030.80 94.33L1032.20 89.42Q1032.75 87.50 1033.62 85.70L1034.88 83.05Q1035.75 81.25 1036.55 79.41L1038.20 75.59Q1039.00 73.75 1040.03 72.04L1041.72 69.21Q1042.75 67.50 1044.54 66.61L1048.91 64.42Q1050.25 63.75 1051.01 65.04L1051.99 66.71Q1052.75 68.00 1053.74 66.88L1059.26 60.62Q1060.25 59.50 1061.64 60.06L1066.36 61.94Q1067.75 62.50 1068.88 61.51L1072.50 58.32Q1074.00 57.00 1076.00 57.00L1078.00 57.00Q1079.50 57.00 1079.53 58.50L1080.95 121.00Q1081.00 123.00 1081.06 125.00L1083.24 195.40Q1083.30 197.40 1083.40 199.40L1085.40 238.50Q1085.50 240.50 1085.63 242.50L1087.37 270.30Q1087.50 272.30 1087.71 274.29L1089.39 290.61Q1089.60 292.60 1089.84 294.59L1091.26 306.26Q1091.50 308.25 1091.89 310.21L1093.11 316.29Q1093.50 318.25 1093.97 320.19L1095.28 325.56Q1095.75 327.50 1096.48 329.36L1098.27 333.89Q1099.00 335.75 1099.99 337.49L1103.01 342.76Q1104.00 344.50 1105.20 346.10L1110.30 352.90Q1111.50 354.50 1113.25 355.46L1119.75 359.04Q1121.50 360.00 1123.44 360.50L1132.06 362.75Q1134.00 363.25 1135.99 363.46L1152.75 365.25" fill="none" stroke="#0000ff" stroke-width="3.4" stroke-linejoin="round" stroke-linecap="round" />
<g fill="#2222ff" stroke="#0000ff" stroke-width="2.2"><circle cx="740.4" cy="365.2" r="2.9"/><circle cx="742.4" cy="363.6" r="2.9"/><circle cx="744.5" cy="362.0" r="2.9"/><circle cx="746.5" cy="360.4" r="2.9"/><circle cx="748.5" cy="358.7" r="2.9"/><circle cx="750.5" cy="357.0" r="2.9"/><circle cx="752.6" cy="355.8" r="2.9"/><circle cx="754.6" cy="355.8" r="2.9"/><circle cx="756.6" cy="355.7" r="2.9"/><circle cx="758.7" cy="355.7" r="2.9"/><circle cx="760.7" cy="355.6" r="2.9"/><circle cx="762.7" cy="355.6" r="2.9"/><circle cx="764.8" cy="355.6" r="2.9"/><circle cx="766.8" cy="355.7" r="2.9"/><circle cx="768.8" cy="355.7" r="2.9"/><circle cx="770.8" cy="355.7" r="2.9"/><circle cx="772.9" cy="355.8" r="2.9"/><circle cx="774.9" cy="355.9" r="2.9"/><circle cx="776.9" cy="356.2" r="2.9"/><circle cx="779.0" cy="356.5" r="2.9"/><circle cx="781.0" cy="356.8" r="2.9"/><circle cx="783.0" cy="357.0" r="2.9"/><circle cx="785.1" cy="357.3" r="2.9"/><circle cx="787.1" cy="357.2" r="2.9"/><circle cx="789.1" cy="357.1" r="2.9"/><circle cx="791.1" cy="357.0" r="2.9"/><circle cx="793.2" cy="357.0" r="2.9"/><circle cx="795.2" cy="356.6" r="2.9"/><circle cx="797.2" cy="354.9" r="2.9"/><circle cx="799.3" cy="353.3" r="2.9"/><circle cx="801.3" cy="351.7" r="2.9"/><circle cx="803.3" cy="350.0" r="2.9"/><circle cx="805.4" cy="348.3" r="2.9"/><circle cx="807.4" cy="346.9" r="2.9"/><circle cx="809.4" cy="346.5" r="2.9"/><circle cx="811.4" cy="346.1" r="2.9"/><circle cx="813.5" cy="345.7" r="2.9"/><circle cx="815.5" cy="345.3" r="2.9"/><circle cx="817.5" cy="344.9" r="2.9"/><circle cx="819.6" cy="344.7" r="2.9"/><circle cx="821.6" cy="344.6" r="2.9"/><circle cx="823.6" cy="344.5" r="2.9"/><circle cx="825.7" cy="344.4" r="2.9"/><circle cx="827.7" cy="344.4" r="2.9"/><circle cx="829.7" cy="344.0" r="2.9"/><circle cx="831.7" cy="343.4" r="2.9"/><circle cx="833.8" cy="341.9" r="2.9"/><circle cx="835.8" cy="340.4" r="2.9"/><circle cx="837.8" cy="340.6" r="2.9"/><circle cx="839.9" cy="340.7" r="2.9"/><circle cx="841.9" cy="341.0" r="2.9"/><circle cx="843.9" cy="341.3" r="2.9"/><circle cx="846.0" cy="341.6" r="2.9"/><circle cx="848.0" cy="341.9" r="2.9"/><circle cx="850.0" cy="342.3" r="2.9"/><circle cx="852.0" cy="342.4" r="2.9"/><circle cx="854.1" cy="335.3" r="2.9"/><circle cx="856.1" cy="329.3" r="2.9"/><circle cx="858.1" cy="324.9" r="2.9"/><circle cx="860.2" cy="321.3" r="2.9"/><circle cx="862.2" cy="319.3" r="2.9"/><circle cx="864.2" cy="317.3" r="2.9"/><circle cx="866.3" cy="315.5" r="2.9"/><circle cx="868.3" cy="314.1" r="2.9"/><circle cx="870.3" cy="312.6" r="2.9"/><circle cx="872.3" cy="311.2" r="2.9"/><circle cx="874.4" cy="310.3" r="2.9"/><circle cx="876.4" cy="309.7" r="2.9"/><circle cx="878.4" cy="309.0" r="2.9"/><circle cx="880.5" cy="308.4" r="2.9"/><circle cx="882.5" cy="307.6" r="2.9"/><circle cx="884.5" cy="306.6" r="2.9"/><circle cx="886.6" cy="303.5" r="2.9"/><circle cx="888.6" cy="302.1" r="2.9"/><circle cx="890.6" cy="301.6" r="2.9"/><circle cx="892.6" cy="301.2" r="2.9"/><circle cx="894.7" cy="301.1" r="2.9"/><circle cx="896.7" cy="301.5" r="2.9"/><circle cx="898.7" cy="301.9" r="2.9"/><circle cx="900.8" cy="302.4" r="2.9"/><circle cx="902.8" cy="302.7" r="2.9"/><circle cx="904.8" cy="303.0" r="2.9"/><circle cx="906.9" cy="303.3" r="2.9"/><circle cx="908.9" cy="303.6" r="2.9"/><circle cx="910.9" cy="296.9" r="2.9"/><circle cx="912.9" cy="291.4" r="2.9"/><circle cx="915.0" cy="287.4" r="2.9"/><circle cx="917.0" cy="283.5" r="2.9"/><circle cx="919.0" cy="281.4" r="2.9"/><circle cx="921.1" cy="279.4" r="2.9"/><circle cx="923.1" cy="277.3" r="2.9"/><circle cx="925.1" cy="275.8" r="2.9"/><circle cx="927.2" cy="274.5" r="2.9"/><circle cx="929.2" cy="273.1" r="2.9"/><circle cx="931.2" cy="271.8" r="2.9"/><circle cx="933.2" cy="270.5" r="2.9"/><circle cx="935.3" cy="269.5" r="2.9"/><circle cx="937.3" cy="268.6" r="2.9"/><circle cx="939.3" cy="267.7" r="2.9"/><circle cx="941.4" cy="266.9" r="2.9"/><circle cx="943.4" cy="266.0" r="2.9"/><circle cx="945.4" cy="265.3" r="2.9"/><circle cx="947.5" cy="264.6" r="2.9"/><circle cx="949.5" cy="264.0" r="2.9"/><circle cx="951.5" cy="263.3" r="2.9"/><circle cx="953.5" cy="262.7" r="2.9"/><circle cx="955.6" cy="261.9" r="2.9"/><circle cx="957.6" cy="261.1" r="2.9"/><circle cx="959.6" cy="260.3" r="2.9"/><circle cx="961.7" cy="259.4" r="2.9"/><circle cx="963.7" cy="258.4" r="2.9"/><circle cx="965.7" cy="257.2" r="2.9"/><circle cx="967.8" cy="249.3" r="2.9"/><circle cx="969.8" cy="233.0" r="2.9"/><circle cx="971.8" cy="223.9" r="2.9"/><circle cx="973.8" cy="213.6" r="2.9"/><circle cx="975.9" cy="205.5" r="2.9"/><circle cx="977.9" cy="197.0" r="2.9"/><circle cx="979.9" cy="193.0" r="2.9"/><circle cx="982.0" cy="189.2" r="2.9"/><circle cx="984.0" cy="185.8" r="2.9"/><circle cx="986.0" cy="182.3" r="2.9"/><circle cx="988.1" cy="179.3" r="2.9"/><circle cx="990.1" cy="176.3" r="2.9"/><circle cx="992.1" cy="173.3" r="2.9"/><circle cx="994.1" cy="170.9" r="2.9"/><circle cx="996.2" cy="168.8" r="2.9"/><circle cx="998.2" cy="166.8" r="2.9"/><circle cx="1000.2" cy="165.0" r="2.9"/><circle cx="1002.3" cy="163.8" r="2.9"/><circle cx="1004.3" cy="162.6" r="2.9"/><circle cx="1006.3" cy="161.4" r="2.9"/><circle cx="1008.4" cy="160.2" r="2.9"/><circle cx="1010.4" cy="159.2" r="2.9"/><circle cx="1012.4" cy="158.1" r="2.9"/><circle cx="1014.4" cy="157.1" r="2.9"/><circle cx="1016.5" cy="158.2" r="2.9"/><circle cx="1018.5" cy="159.9" r="2.9"/><circle cx="1020.5" cy="161.2" r="2.9"/><circle cx="1022.6" cy="161.5" r="2.9"/><circle cx="1024.6" cy="132.7" r="2.9"/><circle cx="1026.6" cy="120.9" r="2.9"/><circle cx="1028.7" cy="108.1" r="2.9"/><circle cx="1030.7" cy="94.7" r="2.9"/><circle cx="1032.7" cy="87.6" r="2.9"/><circle cx="1034.7" cy="83.3" r="2.9"/><circle cx="1036.8" cy="78.9" r="2.9"/><circle cx="1038.8" cy="74.2" r="2.9"/><circle cx="1040.8" cy="70.7" r="2.9"/><circle cx="1042.9" cy="67.4" r="2.9"/><circle cx="1044.9" cy="66.4" r="2.9"/><circle cx="1046.9" cy="65.4" r="2.9"/><circle cx="1049.0" cy="64.4" r="2.9"/><circle cx="1051.0" cy="65.0" r="2.9"/><circle cx="1053.0" cy="67.7" r="2.9"/><circle cx="1055.0" cy="65.4" r="2.9"/><circle cx="1057.1" cy="63.1" r="2.9"/><circle cx="1059.1" cy="60.8" r="2.9"/><circle cx="1061.1" cy="59.9" r="2.9"/><circle cx="1063.2" cy="60.7" r="2.9"/><circle cx="1065.2" cy="61.5" r="2.9"/><circle cx="1067.2" cy="62.3" r="2.9"/><circle cx="1069.3" cy="61.2" r="2.9"/><circle cx="1071.3" cy="59.4" r="2.9"/><circle cx="1073.3" cy="57.6" r="2.9"/><circle cx="1075.3" cy="57.0" r="2.9"/><circle cx="1077.4" cy="57.0" r="2.9"/><circle cx="1079.4" cy="57.0" r="2.9"/><circle cx="1081.4" cy="137.2" r="2.9"/><circle cx="1083.5" cy="200.7" r="2.9"/><circle cx="1085.5" cy="240.5" r="2.9"/><circle cx="1087.5" cy="272.6" r="2.9"/><circle cx="1089.6" cy="292.2" r="2.9"/><circle cx="1091.6" cy="308.7" r="2.9"/><circle cx="1093.6" cy="318.7" r="2.9"/><circle cx="1095.6" cy="327.1" r="2.9"/><circle cx="1097.7" cy="332.4" r="2.9"/><circle cx="1099.7" cy="337.0" r="2.9"/><circle cx="1101.7" cy="340.5" r="2.9"/><circle cx="1103.8" cy="344.1" r="2.9"/><circle cx="1105.8" cy="346.9" r="2.9"/><circle cx="1107.8" cy="349.6" r="2.9"/><circle cx="1109.9" cy="352.3" r="2.9"/><circle cx="1111.9" cy="354.7" r="2.9"/><circle cx="1113.9" cy="355.8" r="2.9"/><circle cx="1115.9" cy="356.9" r="2.9"/><circle cx="1118.0" cy="358.1" r="2.9"/><circle cx="1120.0" cy="359.2" r="2.9"/><circle cx="1122.0" cy="360.1" r="2.9"/><circle cx="1124.1" cy="360.7" r="2.9"/><circle cx="1126.1" cy="361.2" r="2.9"/><circle cx="1128.1" cy="361.7" r="2.9"/><circle cx="1130.2" cy="362.3" r="2.9"/><circle cx="1132.2" cy="362.8" r="2.9"/><circle cx="1134.2" cy="363.3" r="2.9"/><circle cx="1136.2" cy="363.5" r="2.9"/><circle cx="1138.3" cy="363.7" r="2.9"/><circle cx="1140.3" cy="363.9" r="2.9"/><circle cx="1142.3" cy="364.1" r="2.9"/><circle cx="1144.4" cy="364.4" r="2.9"/><circle cx="1146.4" cy="364.6" r="2.9"/><circle cx="1148.4" cy="364.8" r="2.9"/><circle cx="1150.5" cy="365.0" r="2.9"/><circle cx="1152.5" cy="365.2" r="2.9"/><circle cx="1024.2" cy="135.0" r="2.9"/><circle cx="1079.5" cy="57.0" r="2.9"/><circle cx="1081.0" cy="123.0" r="2.9"/><circle cx="1083.3" cy="197.4" r="2.9"/><circle cx="1085.5" cy="240.5" r="2.9"/><circle cx="1087.5" cy="272.3" r="2.9"/><circle cx="969.6" cy="233.8" r="2.9"/><circle cx="967.6" cy="250.6" r="2.9"/></g>
<text x="758.0" y="346.0" font-size="16.8" text-anchor="start" fill="#000" textLength="20.5" lengthAdjust="spacingAndGlyphs" >1V</text>
<text x="814.6" y="331.7" font-size="16.8" text-anchor="start" fill="#000" textLength="20.5" lengthAdjust="spacingAndGlyphs" >2V</text>
<text x="872.9" y="294.0" font-size="16.8" text-anchor="start" fill="#000" textLength="20.5" lengthAdjust="spacingAndGlyphs" >3V</text>
<text x="928.7" y="255.2" font-size="16.8" text-anchor="start" fill="#000" textLength="20.5" lengthAdjust="spacingAndGlyphs" >4V</text>
<text x="979.4" y="156.3" font-size="16.8" text-anchor="start" fill="#000" textLength="20.5" lengthAdjust="spacingAndGlyphs" >5V</text>
<text x="1039.0" y="52.3" font-size="16.8" text-anchor="start" fill="#000" textLength="20.5" lengthAdjust="spacingAndGlyphs" >6V</text>
<text x="1086.0" y="88.3" font-size="17" text-anchor="start" fill="#000" textLength="49.0" lengthAdjust="spacingAndGlyphs" >cut off</text>
<defs><radialGradient id="sph" cx="0.36" cy="0.34" r="0.7" fx="0.32" fy="0.30">
<stop offset="0" stop-color="#ffe6ff"/><stop offset="0.2" stop-color="#ea6cff"/><stop offset="0.55" stop-color="#d838fb"/><stop offset="1" stop-color="#c422ee"/></radialGradient></defs>
<path d="M1379.15 365.57 L1758.90 89.36" fill="none" stroke="#0a8a0a" stroke-width="3.4" stroke-linejoin="round" stroke-linecap="round" />
<circle cx="1379.1" cy="355.7" r="6.1" fill="url(#sph)"/>
<circle cx="1411.7" cy="339.7" r="6.1" fill="url(#sph)"/>
<circle cx="1466.0" cy="305.9" r="6.1" fill="url(#sph)"/>
<circle cx="1541.9" cy="262.5" r="6.1" fill="url(#sph)"/>
<circle cx="1639.5" cy="176.4" r="6.1" fill="url(#sph)"/>
<circle cx="1758.9" cy="82.6" r="6.1" fill="url(#sph)"/>
<circle cx="1555.3" cy="53" r="6.1" fill="url(#sph)"/>
<path d="M1532 77H1579" stroke="#0a8a0a" stroke-width="3.4"/>
<text x="1583.3" y="60.0" font-size="18.5" text-anchor="start" fill="#000" textLength="160.7" lengthAdjust="spacingAndGlyphs" >Experimental value</text>
<text x="1583.3" y="83.7" font-size="18.5" text-anchor="start" fill="#000" textLength="75.7" lengthAdjust="spacingAndGlyphs" >Fit linear</text>
<text x="1534.0" y="463.4" font-size="32" text-anchor="start" textLength="80.5" lengthAdjust="spacingAndGlyphs">U<tspan font-size="21" dy="-12.5">2</tspan><tspan dy="12.5"> (V)</tspan></text>
<path d="M122.30 822.81 L122.65 808.04 L123.00 802.40 L123.35 797.17 L123.70 793.38 L124.05 789.59 L124.40 786.49 L124.75 783.56 L125.10 781.34 L125.45 779.95 L125.80 778.56 L126.15 777.18 L126.50 775.87 L126.85 774.55 L127.20 773.24 L127.55 772.65 L127.90 772.11 L128.25 771.57 L128.61 771.05 L128.96 770.65 L129.31 768.03 L129.66 764.58 L130.01 766.21 L130.36 766.43 L130.71 766.40 L131.06 765.13 L131.41 765.67 L131.76 766.76 L132.11 766.49 L132.46 766.08 L132.81 765.67 L133.16 765.91 L133.51 766.29 L133.86 766.67 L134.21 767.05 L134.56 767.22 L134.91 766.45 L135.26 765.68 L135.61 764.90 L135.96 765.28 L136.31 765.75 L136.66 766.22 L137.01 766.50 L137.36 765.96 L137.71 765.42 L138.06 765.75 L138.41 766.21 L138.76 766.68 L139.11 766.33 L139.46 765.46 L139.81 764.90 L140.16 765.11 L140.52 765.32 L140.87 765.53 L141.22 773.30 L141.57 783.09 L141.92 791.59 L142.27 798.36 L142.62 803.84 L142.97 807.09 L143.32 810.29 L143.67 812.55 L144.02 814.81 L144.37 816.89 L144.72 818.43 L145.07 819.98 L145.42 821.53 L145.77 822.08 L146.12 822.62 L146.47 823.16 L146.82 823.61 L147.17 823.81 L147.52 824.00 L147.87 824.19 L148.22 824.39 L148.57 824.58 L148.92 824.77 L149.03 819.69 L149.38 806.67 L149.73 801.26 L150.08 796.37 L150.43 792.58 L150.78 788.79 L151.13 785.87 L151.48 782.95 L151.83 781.05 L152.18 779.66 L152.53 778.26 L152.88 776.90 L153.23 775.59 L153.58 774.27 L153.93 773.08 L154.28 772.53 L154.63 771.99 L154.98 771.45 L155.33 770.97 L155.68 770.56 L156.03 766.63 L156.38 765.21 L156.73 766.25 L157.08 766.47 L157.43 766.13 L157.78 764.87 L158.13 765.90 L158.48 766.81 L158.83 766.40 L159.18 765.99 L159.54 765.61 L159.89 765.99 L160.24 766.37 L160.59 766.75 L160.94 767.13 L161.29 767.06 L161.64 766.29 L161.99 765.51 L162.34 764.90 L162.69 765.38 L163.04 765.85 L163.39 766.32 L163.74 766.39 L164.09 765.84 L164.44 765.38 L164.79 765.85 L165.14 766.31 L165.49 766.77 L165.84 766.15 L166.19 765.28 L166.54 764.95 L166.89 765.16 L167.24 765.37 L167.59 765.58 L167.94 775.64 L168.29 784.99 L168.64 793.02 L168.99 799.79 L169.34 804.52 L169.69 807.77 L170.04 810.77 L170.39 813.03 L170.74 815.28 L171.09 817.21 L171.45 818.76 L171.80 820.31 L172.15 821.65 L172.50 822.20 L172.85 822.74 L173.20 823.28 L173.55 823.65 L173.90 823.85 L174.25 824.04 L174.60 824.23 L174.95 824.43 L175.30 824.62 L175.64 821.35 L175.99 807.28 L176.34 801.87 L176.69 796.80 L177.04 793.01 L177.39 789.22 L177.74 786.20 L178.09 783.28 L178.44 781.20 L178.79 779.81 L179.14 778.42 L179.49 777.05 L179.84 775.74 L180.19 774.42 L180.54 773.14 L180.89 772.60 L181.24 772.05 L181.59 771.51 L181.94 771.01 L182.29 770.61 L182.65 767.38 L183.00 764.87 L183.35 766.23 L183.70 766.45 L184.05 766.27 L184.40 765.01 L184.75 765.78 L185.10 766.86 L185.45 766.45 L185.80 766.04 L186.15 765.63 L186.50 765.95 L186.85 766.33 L187.20 766.71 L187.55 767.09 L187.90 767.15 L188.25 766.38 L188.60 765.60 L188.95 764.85 L189.30 765.32 L189.65 765.80 L190.00 766.27 L190.35 766.45 L190.70 765.91 L191.05 765.36 L191.40 765.79 L191.75 766.26 L192.10 766.72 L192.45 766.25 L192.80 765.38 L193.15 764.92 L193.50 765.13 L193.85 765.34 L194.20 765.55 L194.56 774.39 L194.91 783.98 L195.26 792.26 L195.61 799.03 L195.96 804.16 L196.31 807.40 L196.66 810.52 L197.01 812.77 L197.36 815.03 L197.71 817.04 L198.06 818.59 L198.41 820.13 L198.76 821.59 L199.11 822.13 L199.46 822.68 L199.81 823.22 L200.16 823.63 L200.51 823.83 L200.86 824.02 L201.21 824.21 L201.56 824.41 L201.91 824.60 L202.41 816.54 L202.76 805.52 L203.11 800.10 L203.46 795.57 L203.81 791.78 L204.16 788.17 L204.51 785.25 L204.86 782.32 L205.21 780.75 L205.56 779.36 L205.91 777.97 L206.26 776.62 L206.61 775.31 L206.96 773.99 L207.31 772.96 L207.66 772.42 L208.01 771.88 L208.36 771.34 L208.71 770.88 L209.06 770.48 L209.41 765.21 L209.76 765.85 L210.11 766.30 L210.46 766.52 L210.81 765.86 L211.16 765.05 L211.51 766.13 L211.86 766.72 L212.21 766.31 L212.56 765.90 L212.91 765.70 L213.27 766.07 L213.62 766.45 L213.97 766.83 L214.32 767.21 L214.67 766.90 L215.02 766.12 L215.37 765.35 L215.72 765.00 L216.07 765.48 L216.42 765.95 L216.77 766.43 L217.12 766.27 L217.47 765.73 L217.82 765.48 L218.17 765.95 L218.52 766.41 L218.87 766.83 L219.22 765.96 L219.57 765.10 L219.92 764.99 L220.27 765.20 L220.62 765.41 L220.97 766.93 L221.32 777.90 L221.67 786.92 L222.02 794.47 L222.37 801.23 L222.72 805.22 L223.07 808.46 L223.42 811.25 L223.77 813.51 L224.12 815.76 L224.47 817.54 L224.82 819.09 L225.18 820.64 L225.53 821.77 L225.88 822.31 L226.23 822.85 L226.58 823.39 L226.93 823.70 L227.28 823.89 L227.63 824.08 L227.98 824.28 L228.33 824.47 L228.68 824.66" fill="none" stroke="#555" stroke-width="1.8" stroke-linejoin="round" stroke-linecap="round" />
<path d="M122.3 817.8L127.3 826.8H117.3ZM122.7 803.0L127.7 812.0H117.7ZM123.0 797.4L128.0 806.4H118.0ZM123.4 792.2L128.4 801.2H118.4ZM123.7 788.4L128.7 797.4H118.7ZM124.1 784.6L129.1 793.6H119.1ZM124.4 781.5L129.4 790.5H119.4ZM124.8 778.6L129.8 787.6H119.8ZM125.1 776.3L130.1 785.3H120.1ZM125.5 774.9L130.5 783.9H120.5ZM125.8 773.6L130.8 782.6H120.8ZM126.2 772.2L131.2 781.2H121.2ZM126.5 770.9L131.5 779.9H121.5ZM126.9 769.6L131.9 778.6H121.9ZM127.2 768.2L132.2 777.2H122.2ZM127.6 767.6L132.6 776.6H122.6ZM127.9 767.1L132.9 776.1H122.9ZM128.3 766.6L133.3 775.6H123.3ZM128.6 766.1L133.6 775.1H123.6ZM129.0 765.6L134.0 774.6H124.0ZM129.3 763.0L134.3 772.0H124.3ZM129.7 759.6L134.7 768.6H124.7ZM130.0 761.2L135.0 770.2H125.0ZM130.4 761.4L135.4 770.4H125.4ZM130.7 761.4L135.7 770.4H125.7ZM131.1 760.1L136.1 769.1H126.1ZM131.4 760.7L136.4 769.7H126.4ZM131.8 761.8L136.8 770.8H126.8ZM132.1 761.5L137.1 770.5H127.1ZM132.5 761.1L137.5 770.1H127.5ZM132.8 760.7L137.8 769.7H127.8ZM133.2 760.9L138.2 769.9H128.2ZM133.5 761.3L138.5 770.3H128.5ZM133.9 761.7L138.9 770.7H128.9ZM134.2 762.1L139.2 771.1H129.2ZM134.6 762.2L139.6 771.2H129.6ZM134.9 761.5L139.9 770.5H129.9ZM135.3 760.7L140.3 769.7H130.3ZM135.6 759.9L140.6 768.9H130.6ZM136.0 760.3L141.0 769.3H131.0ZM136.3 760.8L141.3 769.8H131.3ZM136.7 761.2L141.7 770.2H131.7ZM137.0 761.5L142.0 770.5H132.0ZM137.4 761.0L142.4 770.0H132.4ZM137.7 760.4L142.7 769.4H132.7ZM138.1 760.7L143.1 769.7H133.1ZM138.4 761.2L143.4 770.2H133.4ZM138.8 761.7L143.8 770.7H133.8ZM139.1 761.3L144.1 770.3H134.1ZM139.5 760.5L144.5 769.5H134.5ZM139.8 759.9L144.8 768.9H134.8ZM140.2 760.1L145.2 769.1H135.2ZM140.5 760.3L145.5 769.3H135.5ZM140.9 760.5L145.9 769.5H135.9ZM141.2 768.3L146.2 777.3H136.2ZM141.6 778.1L146.6 787.1H136.6ZM141.9 786.6L146.9 795.6H136.9ZM142.3 793.4L147.3 802.4H137.3ZM142.6 798.8L147.6 807.8H137.6ZM143.0 802.1L148.0 811.1H138.0ZM143.3 805.3L148.3 814.3H138.3ZM143.7 807.5L148.7 816.5H138.7ZM144.0 809.8L149.0 818.8H139.0ZM144.4 811.9L149.4 820.9H139.4ZM144.7 813.4L149.7 822.4H139.7ZM145.1 815.0L150.1 824.0H140.1ZM145.4 816.5L150.4 825.5H140.4ZM145.8 817.1L150.8 826.1H140.8ZM146.1 817.6L151.1 826.6H141.1ZM146.5 818.2L151.5 827.2H141.5ZM146.8 818.6L151.8 827.6H141.8ZM147.2 818.8L152.2 827.8H142.2ZM147.5 819.0L152.5 828.0H142.5ZM147.9 819.2L152.9 828.2H142.9ZM148.2 819.4L153.2 828.4H143.2ZM148.6 819.6L153.6 828.6H143.6ZM148.9 819.8L153.9 828.8H143.9ZM149.0 814.7L154.0 823.7H144.0ZM149.4 801.7L154.4 810.7H144.4ZM149.7 796.3L154.7 805.3H144.7ZM150.1 791.4L155.1 800.4H145.1ZM150.4 787.6L155.4 796.6H145.4ZM150.8 783.8L155.8 792.8H145.8ZM151.1 780.9L156.1 789.9H146.1ZM151.5 777.9L156.5 786.9H146.5ZM151.8 776.0L156.8 785.0H146.8ZM152.2 774.7L157.2 783.7H147.2ZM152.5 773.3L157.5 782.3H147.5ZM152.9 771.9L157.9 780.9H147.9ZM153.2 770.6L158.2 779.6H148.2ZM153.6 769.3L158.6 778.3H148.6ZM153.9 768.1L158.9 777.1H148.9ZM154.3 767.5L159.3 776.5H149.3ZM154.6 767.0L159.6 776.0H149.6ZM155.0 766.5L160.0 775.5H150.0ZM155.3 766.0L160.3 775.0H150.3ZM155.7 765.6L160.7 774.6H150.7ZM156.0 761.6L161.0 770.6H151.0ZM156.4 760.2L161.4 769.2H151.4ZM156.7 761.3L161.7 770.3H151.7ZM157.1 761.5L162.1 770.5H152.1ZM157.4 761.1L162.4 770.1H152.4ZM157.8 759.9L162.8 768.9H152.8ZM158.1 760.9L163.1 769.9H153.1ZM158.5 761.8L163.5 770.8H153.5ZM158.8 761.4L163.8 770.4H153.8ZM159.2 761.0L164.2 770.0H154.2ZM159.5 760.6L164.5 769.6H154.5ZM159.9 761.0L164.9 770.0H154.9ZM160.2 761.4L165.2 770.4H155.2ZM160.6 761.8L165.6 770.8H155.6ZM160.9 762.1L165.9 771.1H155.9ZM161.3 762.1L166.3 771.1H156.3ZM161.6 761.3L166.6 770.3H156.6ZM162.0 760.5L167.0 769.5H157.0ZM162.3 759.9L167.3 768.9H157.3ZM162.7 760.4L167.7 769.4H157.7ZM163.0 760.9L168.0 769.9H158.0ZM163.4 761.3L168.4 770.3H158.4ZM163.7 761.4L168.7 770.4H158.7ZM164.1 760.8L169.1 769.8H159.1ZM164.4 760.4L169.4 769.4H159.4ZM164.8 760.8L169.8 769.8H159.8ZM165.1 761.3L170.1 770.3H160.1ZM165.5 761.8L170.5 770.8H160.5ZM165.8 761.1L170.8 770.1H160.8ZM166.2 760.3L171.2 769.3H161.2ZM166.5 759.9L171.5 768.9H161.5ZM166.9 760.2L171.9 769.2H161.9ZM167.2 760.4L172.2 769.4H162.2ZM167.6 760.6L172.6 769.6H162.6ZM167.9 770.6L172.9 779.6H162.9ZM168.3 780.0L173.3 789.0H163.3ZM168.6 788.0L173.6 797.0H163.6ZM169.0 794.8L174.0 803.8H164.0ZM169.3 799.5L174.3 808.5H164.3ZM169.7 802.8L174.7 811.8H164.7ZM170.0 805.8L175.0 814.8H165.0ZM170.4 808.0L175.4 817.0H165.4ZM170.7 810.3L175.7 819.3H165.7ZM171.1 812.2L176.1 821.2H166.1ZM171.4 813.8L176.4 822.8H166.4ZM171.8 815.3L176.8 824.3H166.8ZM172.1 816.7L177.1 825.7H167.1ZM172.5 817.2L177.5 826.2H167.5ZM172.8 817.7L177.8 826.7H167.8ZM173.2 818.3L178.2 827.3H168.2ZM173.5 818.7L178.5 827.7H168.5ZM173.9 818.8L178.9 827.8H168.9ZM174.2 819.0L179.2 828.0H169.2ZM174.6 819.2L179.6 828.2H169.6ZM174.9 819.4L179.9 828.4H169.9ZM175.3 819.6L180.3 828.6H170.3ZM175.6 816.4L180.6 825.4H170.6ZM176.0 802.3L181.0 811.3H171.0ZM176.3 796.9L181.3 805.9H171.3ZM176.7 791.8L181.7 800.8H171.7ZM177.0 788.0L182.0 797.0H172.0ZM177.4 784.2L182.4 793.2H172.4ZM177.7 781.2L182.7 790.2H172.7ZM178.1 778.3L183.1 787.3H173.1ZM178.4 776.2L183.4 785.2H173.4ZM178.8 774.8L183.8 783.8H173.8ZM179.1 773.4L184.1 782.4H174.1ZM179.5 772.1L184.5 781.1H174.5ZM179.8 770.7L184.8 779.7H174.8ZM180.2 769.4L185.2 778.4H175.2ZM180.5 768.1L185.5 777.1H175.5ZM180.9 767.6L185.9 776.6H175.9ZM181.2 767.1L186.2 776.1H176.2ZM181.6 766.5L186.6 775.5H176.6ZM181.9 766.0L186.9 775.0H176.9ZM182.3 765.6L187.3 774.6H177.3ZM182.6 762.4L187.6 771.4H177.6ZM183.0 759.9L188.0 768.9H178.0ZM183.3 761.2L188.3 770.2H178.3ZM183.7 761.4L188.7 770.4H178.7ZM184.0 761.3L189.0 770.3H179.0ZM184.4 760.0L189.4 769.0H179.4ZM184.7 760.8L189.7 769.8H179.7ZM185.1 761.9L190.1 770.9H180.1ZM185.4 761.4L190.4 770.4H180.4ZM185.8 761.0L190.8 770.0H180.8ZM186.1 760.6L191.1 769.6H181.1ZM186.5 761.0L191.5 770.0H181.5ZM186.8 761.3L191.8 770.3H181.8ZM187.2 761.7L192.2 770.7H182.2ZM187.5 762.1L192.5 771.1H182.5ZM187.9 762.1L192.9 771.1H182.9ZM188.2 761.4L193.2 770.4H183.2ZM188.6 760.6L193.6 769.6H183.6ZM189.0 759.9L194.0 768.9H184.0ZM189.3 760.3L194.3 769.3H184.3ZM189.7 760.8L194.7 769.8H184.7ZM190.0 761.3L195.0 770.3H185.0ZM190.4 761.4L195.4 770.4H185.4ZM190.7 760.9L195.7 769.9H185.7ZM191.1 760.4L196.1 769.4H186.1ZM191.4 760.8L196.4 769.8H186.4ZM191.8 761.3L196.8 770.3H186.8ZM192.1 761.7L197.1 770.7H187.1ZM192.5 761.2L197.5 770.2H187.5ZM192.8 760.4L197.8 769.4H187.8ZM193.2 759.9L198.2 768.9H188.2ZM193.5 760.1L198.5 769.1H188.5ZM193.9 760.3L198.9 769.3H188.9ZM194.2 760.6L199.2 769.6H189.2ZM194.6 769.4L199.6 778.4H189.6ZM194.9 779.0L199.9 788.0H189.9ZM195.3 787.3L200.3 796.3H190.3ZM195.6 794.0L200.6 803.0H190.6ZM196.0 799.2L201.0 808.2H191.0ZM196.3 802.4L201.3 811.4H191.3ZM196.7 805.5L201.7 814.5H191.7ZM197.0 807.8L202.0 816.8H192.0ZM197.4 810.0L202.4 819.0H192.4ZM197.7 812.0L202.7 821.0H192.7ZM198.1 813.6L203.1 822.6H193.1ZM198.4 815.1L203.4 824.1H193.4ZM198.8 816.6L203.8 825.6H193.8ZM199.1 817.1L204.1 826.1H194.1ZM199.5 817.7L204.5 826.7H194.5ZM199.8 818.2L204.8 827.2H194.8ZM200.2 818.6L205.2 827.6H195.2ZM200.5 818.8L205.5 827.8H195.5ZM200.9 819.0L205.9 828.0H195.9ZM201.2 819.2L206.2 828.2H196.2ZM201.6 819.4L206.6 828.4H196.6ZM201.9 819.6L206.9 828.6H196.9ZM202.4 811.5L207.4 820.5H197.4ZM202.8 800.5L207.8 809.5H197.8ZM203.1 795.1L208.1 804.1H198.1ZM203.5 790.6L208.5 799.6H198.5ZM203.8 786.8L208.8 795.8H198.8ZM204.2 783.2L209.2 792.2H199.2ZM204.5 780.2L209.5 789.2H199.5ZM204.9 777.3L209.9 786.3H199.9ZM205.2 775.8L210.2 784.8H200.2ZM205.6 774.4L210.6 783.4H200.6ZM205.9 773.0L210.9 782.0H200.9ZM206.3 771.6L211.3 780.6H201.3ZM206.6 770.3L211.6 779.3H201.6ZM207.0 769.0L212.0 778.0H202.0ZM207.3 768.0L212.3 777.0H202.3ZM207.7 767.4L212.7 776.4H202.7ZM208.0 766.9L213.0 775.9H203.0ZM208.4 766.3L213.4 775.3H203.4ZM208.7 765.9L213.7 774.9H203.7ZM209.1 765.5L214.1 774.5H204.1ZM209.4 760.2L214.4 769.2H204.4ZM209.8 760.9L214.8 769.9H204.8ZM210.1 761.3L215.1 770.3H205.1ZM210.5 761.5L215.5 770.5H205.5ZM210.8 760.9L215.8 769.9H205.8ZM211.2 760.1L216.2 769.1H206.2ZM211.5 761.1L216.5 770.1H206.5ZM211.9 761.7L216.9 770.7H206.9ZM212.2 761.3L217.2 770.3H207.2ZM212.6 760.9L217.6 769.9H207.6ZM212.9 760.7L217.9 769.7H207.9ZM213.3 761.1L218.3 770.1H208.3ZM213.6 761.5L218.6 770.5H208.6ZM214.0 761.8L219.0 770.8H209.0ZM214.3 762.2L219.3 771.2H209.3ZM214.7 761.9L219.7 770.9H209.7ZM215.0 761.1L220.0 770.1H210.0ZM215.4 760.3L220.4 769.3H210.4ZM215.7 760.0L220.7 769.0H210.7ZM216.1 760.5L221.1 769.5H211.1ZM216.4 761.0L221.4 770.0H211.4ZM216.8 761.4L221.8 770.4H211.8ZM217.1 761.3L222.1 770.3H212.1ZM217.5 760.7L222.5 769.7H212.5ZM217.8 760.5L222.8 769.5H212.8ZM218.2 760.9L223.2 769.9H213.2ZM218.5 761.4L223.5 770.4H213.5ZM218.9 761.8L223.9 770.8H213.9ZM219.2 761.0L224.2 770.0H214.2ZM219.6 760.1L224.6 769.1H214.6ZM219.9 760.0L224.9 769.0H214.9ZM220.3 760.2L225.3 769.2H215.3ZM220.6 760.4L225.6 769.4H215.6ZM221.0 761.9L226.0 770.9H216.0ZM221.3 772.9L226.3 781.9H216.3ZM221.7 781.9L226.7 790.9H216.7ZM222.0 789.5L227.0 798.5H217.0ZM222.4 796.2L227.4 805.2H217.4ZM222.7 800.2L227.7 809.2H217.7ZM223.1 803.5L228.1 812.5H218.1ZM223.4 806.3L228.4 815.3H218.4ZM223.8 808.5L228.8 817.5H218.8ZM224.1 810.8L229.1 819.8H219.1ZM224.5 812.5L229.5 821.5H219.5ZM224.8 814.1L229.8 823.1H219.8ZM225.2 815.6L230.2 824.6H220.2ZM225.5 816.8L230.5 825.8H220.5ZM225.9 817.3L230.9 826.3H220.9ZM226.2 817.9L231.2 826.9H221.2ZM226.6 818.4L231.6 827.4H221.6ZM226.9 818.7L231.9 827.7H221.9ZM227.3 818.9L232.3 827.9H222.3ZM227.6 819.1L232.6 828.1H222.6ZM228.0 819.3L233.0 828.3H223.0ZM228.3 819.5L233.3 828.5H223.3ZM228.7 819.7L233.7 828.7H223.7Z" fill="#000000"/>
<path d="M228.91 826.59 L229.26 806.57 L229.61 790.33 L229.96 777.72 L230.31 766.90 L230.66 760.46 L231.01 755.04 L231.36 752.19 L231.71 749.53 L232.06 747.27 L232.41 745.02 L232.76 743.26 L233.11 742.72 L233.46 742.18 L233.81 741.29 L234.16 740.39 L234.51 739.29 L234.86 737.26 L235.22 735.65 L235.57 734.97 L235.92 734.30 L236.27 733.62 L236.62 733.11 L236.97 732.73 L237.32 732.34 L237.67 731.55 L238.02 729.92 L238.37 729.31 L238.72 729.85 L239.07 727.62 L239.42 726.57 L239.77 727.28 L240.12 727.08 L240.47 724.78 L240.82 724.10 L241.17 724.24 L241.52 724.38 L241.87 724.51 L242.22 723.79 L242.57 723.02 L242.92 722.24 L243.27 722.62 L243.62 723.06 L243.97 722.39 L244.32 721.71 L244.67 721.03 L245.02 720.66 L245.37 720.53 L245.72 720.39 L246.07 720.26 L246.42 721.82 L246.77 723.72 L247.13 721.02 L247.48 733.29 L247.83 753.71 L248.18 770.18 L248.53 783.01 L248.88 792.49 L249.23 799.10 L249.58 802.35 L249.93 805.52 L250.28 808.23 L250.63 810.94 L250.98 813.64 L251.33 816.35 L251.68 818.35 L252.03 819.57 L252.38 820.78 L252.73 822.00 L253.08 822.49 L253.43 822.75 L253.78 823.00 L254.13 823.25 L254.48 823.50 L254.83 823.76 L255.18 824.01 L255.53 824.05 L255.58 825.63 L255.93 805.80 L256.28 789.56 L256.63 777.21 L256.98 766.39 L257.33 760.20 L257.68 754.79 L258.03 752.07 L258.38 749.42 L258.73 747.16 L259.08 744.91 L259.43 743.24 L259.78 742.69 L260.13 742.15 L260.48 741.25 L260.83 740.34 L261.18 739.19 L261.53 737.16 L261.88 735.62 L262.23 734.94 L262.58 734.26 L262.94 733.59 L263.29 733.09 L263.64 732.71 L263.99 732.32 L264.34 731.47 L264.69 729.85 L265.04 729.33 L265.39 729.87 L265.74 727.43 L266.09 726.55 L266.44 727.38 L266.79 726.97 L267.14 724.67 L267.49 724.11 L267.84 724.25 L268.19 724.38 L268.54 724.52 L268.89 723.75 L269.24 722.98 L269.59 722.21 L269.94 722.66 L270.29 723.03 L270.64 722.35 L270.99 721.68 L271.34 721.00 L271.69 720.66 L272.04 720.52 L272.39 720.38 L272.74 720.25 L273.09 721.91 L273.44 723.69 L273.79 720.89 L274.14 734.15 L274.49 754.73 L274.84 770.86 L275.20 783.46 L275.55 792.94 L275.90 799.25 L276.25 802.50 L276.60 805.65 L276.95 808.36 L277.30 811.07 L277.65 813.77 L278.00 816.48 L278.35 818.41 L278.70 819.62 L279.05 820.84 L279.40 822.06 L279.75 822.51 L280.10 822.76 L280.45 823.01 L280.80 823.26 L281.15 823.52 L281.50 823.77 L281.85 824.02 L282.20 824.05 L282.34 819.49 L282.69 800.89 L283.04 784.77 L283.39 773.94 L283.74 763.98 L284.09 758.56 L284.44 753.96 L284.79 751.25 L285.14 748.74 L285.49 746.48 L285.84 744.23 L286.19 743.07 L286.54 742.53 L286.89 741.88 L287.24 740.97 L287.59 740.07 L287.94 738.58 L288.29 736.55 L288.64 735.41 L288.99 734.74 L289.34 734.06 L289.69 733.38 L290.04 732.98 L290.39 732.59 L290.74 732.20 L291.09 730.98 L291.44 729.36 L291.80 729.50 L292.15 730.04 L292.50 726.93 L292.85 726.39 L293.20 728.04 L293.55 726.28 L293.90 724.02 L294.25 724.15 L294.60 724.29 L294.95 724.42 L295.30 724.29 L295.65 723.52 L296.00 722.74 L296.35 722.03 L296.70 722.93 L297.05 722.83 L297.40 722.15 L297.75 721.47 L298.10 720.80 L298.45 720.61 L298.80 720.48 L299.15 720.34 L299.50 720.59 L299.85 722.49 L300.20 722.84 L300.55 721.50 L300.90 739.63 L301.25 760.79 L301.60 775.22 L301.95 786.33 L302.30 795.80 L302.65 800.23 L303.00 803.48 L303.35 806.47 L303.71 809.18 L304.06 811.88 L304.41 814.59 L304.76 817.30 L305.11 818.77 L305.46 819.99 L305.81 821.21 L306.16 822.33 L306.51 822.58 L306.86 822.83 L307.21 823.09 L307.56 823.34 L307.91 823.59 L308.26 823.84 L308.61 824.06 L308.95 821.75 L309.30 802.69 L309.65 786.45 L310.00 775.14 L310.35 764.58 L310.70 759.16 L311.05 754.26 L311.40 751.55 L311.75 748.99 L312.10 746.73 L312.45 744.48 L312.80 743.13 L313.15 742.59 L313.50 741.98 L313.86 741.07 L314.21 740.17 L314.56 738.81 L314.91 736.78 L315.26 735.49 L315.61 734.81 L315.96 734.13 L316.31 733.46 L316.66 733.02 L317.01 732.63 L317.36 732.25 L317.71 731.16 L318.06 729.54 L318.41 729.44 L318.76 729.98 L319.11 726.99 L319.46 726.45 L319.81 727.80 L320.16 726.53 L320.51 724.23 L320.86 724.14 L321.21 724.27 L321.56 724.41 L321.91 724.38 L322.26 723.60 L322.61 722.83 L322.96 722.06 L323.31 722.83 L323.66 722.90 L324.01 722.23 L324.36 721.55 L324.71 720.87 L325.06 720.63 L325.41 720.49 L325.76 720.36 L326.12 720.38 L326.47 722.28 L326.82 723.16 L327.17 720.35 L327.52 737.61 L327.87 758.87 L328.22 773.62 L328.57 785.27 L328.92 794.75 L329.27 799.87 L329.62 803.12 L329.97 806.17 L330.32 808.88 L330.67 811.58 L331.02 814.29 L331.37 817.00 L331.72 818.64 L332.07 819.86 L332.42 821.07 L332.77 822.29 L333.12 822.55 L333.47 822.81 L333.82 823.06 L334.17 823.31 L334.52 823.56 L334.87 823.82 L335.22 824.07" fill="none" stroke="#ff9a9a" stroke-width="1.8" stroke-linejoin="round" stroke-linecap="round" />
<path d="M224.2 826.6a4.7 4.7 0 1 0 9.4 0a4.7 4.7 0 1 0 -9.4 0ZM224.6 806.6a4.7 4.7 0 1 0 9.4 0a4.7 4.7 0 1 0 -9.4 0ZM224.9 790.3a4.7 4.7 0 1 0 9.4 0a4.7 4.7 0 1 0 -9.4 0ZM225.3 777.7a4.7 4.7 0 1 0 9.4 0a4.7 4.7 0 1 0 -9.4 0ZM225.6 766.9a4.7 4.7 0 1 0 9.4 0a4.7 4.7 0 1 0 -9.4 0ZM226.0 760.5a4.7 4.7 0 1 0 9.4 0a4.7 4.7 0 1 0 -9.4 0ZM226.3 755.0a4.7 4.7 0 1 0 9.4 0a4.7 4.7 0 1 0 -9.4 0ZM226.7 752.2a4.7 4.7 0 1 0 9.4 0a4.7 4.7 0 1 0 -9.4 0ZM227.0 749.5a4.7 4.7 0 1 0 9.4 0a4.7 4.7 0 1 0 -9.4 0ZM227.4 747.3a4.7 4.7 0 1 0 9.4 0a4.7 4.7 0 1 0 -9.4 0ZM227.7 745.0a4.7 4.7 0 1 0 9.4 0a4.7 4.7 0 1 0 -9.4 0ZM228.1 743.3a4.7 4.7 0 1 0 9.4 0a4.7 4.7 0 1 0 -9.4 0ZM228.4 742.7a4.7 4.7 0 1 0 9.4 0a4.7 4.7 0 1 0 -9.4 0ZM228.8 742.2a4.7 4.7 0 1 0 9.4 0a4.7 4.7 0 1 0 -9.4 0ZM229.1 741.3a4.7 4.7 0 1 0 9.4 0a4.7 4.7 0 1 0 -9.4 0ZM229.5 740.4a4.7 4.7 0 1 0 9.4 0a4.7 4.7 0 1 0 -9.4 0ZM229.8 739.3a4.7 4.7 0 1 0 9.4 0a4.7 4.7 0 1 0 -9.4 0ZM230.2 737.3a4.7 4.7 0 1 0 9.4 0a4.7 4.7 0 1 0 -9.4 0ZM230.5 735.6a4.7 4.7 0 1 0 9.4 0a4.7 4.7 0 1 0 -9.4 0ZM230.9 735.0a4.7 4.7 0 1 0 9.4 0a4.7 4.7 0 1 0 -9.4 0ZM231.2 734.3a4.7 4.7 0 1 0 9.4 0a4.7 4.7 0 1 0 -9.4 0ZM231.6 733.6a4.7 4.7 0 1 0 9.4 0a4.7 4.7 0 1 0 -9.4 0ZM231.9 733.1a4.7 4.7 0 1 0 9.4 0a4.7 4.7 0 1 0 -9.4 0ZM232.3 732.7a4.7 4.7 0 1 0 9.4 0a4.7 4.7 0 1 0 -9.4 0ZM232.6 732.3a4.7 4.7 0 1 0 9.4 0a4.7 4.7 0 1 0 -9.4 0ZM233.0 731.5a4.7 4.7 0 1 0 9.4 0a4.7 4.7 0 1 0 -9.4 0ZM233.3 729.9a4.7 4.7 0 1 0 9.4 0a4.7 4.7 0 1 0 -9.4 0ZM233.7 729.3a4.7 4.7 0 1 0 9.4 0a4.7 4.7 0 1 0 -9.4 0ZM234.0 729.8a4.7 4.7 0 1 0 9.4 0a4.7 4.7 0 1 0 -9.4 0ZM234.4 727.6a4.7 4.7 0 1 0 9.4 0a4.7 4.7 0 1 0 -9.4 0ZM234.7 726.6a4.7 4.7 0 1 0 9.4 0a4.7 4.7 0 1 0 -9.4 0ZM235.1 727.3a4.7 4.7 0 1 0 9.4 0a4.7 4.7 0 1 0 -9.4 0ZM235.4 727.1a4.7 4.7 0 1 0 9.4 0a4.7 4.7 0 1 0 -9.4 0ZM235.8 724.8a4.7 4.7 0 1 0 9.4 0a4.7 4.7 0 1 0 -9.4 0ZM236.1 724.1a4.7 4.7 0 1 0 9.4 0a4.7 4.7 0 1 0 -9.4 0ZM236.5 724.2a4.7 4.7 0 1 0 9.4 0a4.7 4.7 0 1 0 -9.4 0ZM236.8 724.4a4.7 4.7 0 1 0 9.4 0a4.7 4.7 0 1 0 -9.4 0ZM237.2 724.5a4.7 4.7 0 1 0 9.4 0a4.7 4.7 0 1 0 -9.4 0ZM237.5 723.8a4.7 4.7 0 1 0 9.4 0a4.7 4.7 0 1 0 -9.4 0ZM237.9 723.0a4.7 4.7 0 1 0 9.4 0a4.7 4.7 0 1 0 -9.4 0ZM238.2 722.2a4.7 4.7 0 1 0 9.4 0a4.7 4.7 0 1 0 -9.4 0ZM238.6 722.6a4.7 4.7 0 1 0 9.4 0a4.7 4.7 0 1 0 -9.4 0ZM238.9 723.1a4.7 4.7 0 1 0 9.4 0a4.7 4.7 0 1 0 -9.4 0ZM239.3 722.4a4.7 4.7 0 1 0 9.4 0a4.7 4.7 0 1 0 -9.4 0ZM239.6 721.7a4.7 4.7 0 1 0 9.4 0a4.7 4.7 0 1 0 -9.4 0ZM240.0 721.0a4.7 4.7 0 1 0 9.4 0a4.7 4.7 0 1 0 -9.4 0ZM240.3 720.7a4.7 4.7 0 1 0 9.4 0a4.7 4.7 0 1 0 -9.4 0ZM240.7 720.5a4.7 4.7 0 1 0 9.4 0a4.7 4.7 0 1 0 -9.4 0ZM241.0 720.4a4.7 4.7 0 1 0 9.4 0a4.7 4.7 0 1 0 -9.4 0ZM241.4 720.3a4.7 4.7 0 1 0 9.4 0a4.7 4.7 0 1 0 -9.4 0ZM241.7 721.8a4.7 4.7 0 1 0 9.4 0a4.7 4.7 0 1 0 -9.4 0ZM242.1 723.7a4.7 4.7 0 1 0 9.4 0a4.7 4.7 0 1 0 -9.4 0ZM242.4 721.0a4.7 4.7 0 1 0 9.4 0a4.7 4.7 0 1 0 -9.4 0ZM242.8 733.3a4.7 4.7 0 1 0 9.4 0a4.7 4.7 0 1 0 -9.4 0ZM243.1 753.7a4.7 4.7 0 1 0 9.4 0a4.7 4.7 0 1 0 -9.4 0ZM243.5 770.2a4.7 4.7 0 1 0 9.4 0a4.7 4.7 0 1 0 -9.4 0ZM243.8 783.0a4.7 4.7 0 1 0 9.4 0a4.7 4.7 0 1 0 -9.4 0ZM244.2 792.5a4.7 4.7 0 1 0 9.4 0a4.7 4.7 0 1 0 -9.4 0ZM244.5 799.1a4.7 4.7 0 1 0 9.4 0a4.7 4.7 0 1 0 -9.4 0ZM244.9 802.3a4.7 4.7 0 1 0 9.4 0a4.7 4.7 0 1 0 -9.4 0ZM245.2 805.5a4.7 4.7 0 1 0 9.4 0a4.7 4.7 0 1 0 -9.4 0ZM245.6 808.2a4.7 4.7 0 1 0 9.4 0a4.7 4.7 0 1 0 -9.4 0ZM245.9 810.9a4.7 4.7 0 1 0 9.4 0a4.7 4.7 0 1 0 -9.4 0ZM246.3 813.6a4.7 4.7 0 1 0 9.4 0a4.7 4.7 0 1 0 -9.4 0ZM246.6 816.4a4.7 4.7 0 1 0 9.4 0a4.7 4.7 0 1 0 -9.4 0ZM247.0 818.3a4.7 4.7 0 1 0 9.4 0a4.7 4.7 0 1 0 -9.4 0ZM247.3 819.6a4.7 4.7 0 1 0 9.4 0a4.7 4.7 0 1 0 -9.4 0ZM247.7 820.8a4.7 4.7 0 1 0 9.4 0a4.7 4.7 0 1 0 -9.4 0ZM248.0 822.0a4.7 4.7 0 1 0 9.4 0a4.7 4.7 0 1 0 -9.4 0ZM248.4 822.5a4.7 4.7 0 1 0 9.4 0a4.7 4.7 0 1 0 -9.4 0ZM248.7 822.7a4.7 4.7 0 1 0 9.4 0a4.7 4.7 0 1 0 -9.4 0ZM249.1 823.0a4.7 4.7 0 1 0 9.4 0a4.7 4.7 0 1 0 -9.4 0ZM249.4 823.3a4.7 4.7 0 1 0 9.4 0a4.7 4.7 0 1 0 -9.4 0ZM249.8 823.5a4.7 4.7 0 1 0 9.4 0a4.7 4.7 0 1 0 -9.4 0ZM250.1 823.8a4.7 4.7 0 1 0 9.4 0a4.7 4.7 0 1 0 -9.4 0ZM250.5 824.0a4.7 4.7 0 1 0 9.4 0a4.7 4.7 0 1 0 -9.4 0ZM250.8 824.0a4.7 4.7 0 1 0 9.4 0a4.7 4.7 0 1 0 -9.4 0ZM250.9 825.6a4.7 4.7 0 1 0 9.4 0a4.7 4.7 0 1 0 -9.4 0ZM251.2 805.8a4.7 4.7 0 1 0 9.4 0a4.7 4.7 0 1 0 -9.4 0ZM251.6 789.6a4.7 4.7 0 1 0 9.4 0a4.7 4.7 0 1 0 -9.4 0ZM251.9 777.2a4.7 4.7 0 1 0 9.4 0a4.7 4.7 0 1 0 -9.4 0ZM252.3 766.4a4.7 4.7 0 1 0 9.4 0a4.7 4.7 0 1 0 -9.4 0ZM252.6 760.2a4.7 4.7 0 1 0 9.4 0a4.7 4.7 0 1 0 -9.4 0ZM253.0 754.8a4.7 4.7 0 1 0 9.4 0a4.7 4.7 0 1 0 -9.4 0ZM253.3 752.1a4.7 4.7 0 1 0 9.4 0a4.7 4.7 0 1 0 -9.4 0ZM253.7 749.4a4.7 4.7 0 1 0 9.4 0a4.7 4.7 0 1 0 -9.4 0ZM254.0 747.2a4.7 4.7 0 1 0 9.4 0a4.7 4.7 0 1 0 -9.4 0ZM254.4 744.9a4.7 4.7 0 1 0 9.4 0a4.7 4.7 0 1 0 -9.4 0ZM254.7 743.2a4.7 4.7 0 1 0 9.4 0a4.7 4.7 0 1 0 -9.4 0ZM255.1 742.7a4.7 4.7 0 1 0 9.4 0a4.7 4.7 0 1 0 -9.4 0ZM255.4 742.1a4.7 4.7 0 1 0 9.4 0a4.7 4.7 0 1 0 -9.4 0ZM255.8 741.2a4.7 4.7 0 1 0 9.4 0a4.7 4.7 0 1 0 -9.4 0ZM256.1 740.3a4.7 4.7 0 1 0 9.4 0a4.7 4.7 0 1 0 -9.4 0ZM256.5 739.2a4.7 4.7 0 1 0 9.4 0a4.7 4.7 0 1 0 -9.4 0ZM256.8 737.2a4.7 4.7 0 1 0 9.4 0a4.7 4.7 0 1 0 -9.4 0ZM257.2 735.6a4.7 4.7 0 1 0 9.4 0a4.7 4.7 0 1 0 -9.4 0ZM257.5 734.9a4.7 4.7 0 1 0 9.4 0a4.7 4.7 0 1 0 -9.4 0ZM257.9 734.3a4.7 4.7 0 1 0 9.4 0a4.7 4.7 0 1 0 -9.4 0ZM258.2 733.6a4.7 4.7 0 1 0 9.4 0a4.7 4.7 0 1 0 -9.4 0ZM258.6 733.1a4.7 4.7 0 1 0 9.4 0a4.7 4.7 0 1 0 -9.4 0ZM258.9 732.7a4.7 4.7 0 1 0 9.4 0a4.7 4.7 0 1 0 -9.4 0ZM259.3 732.3a4.7 4.7 0 1 0 9.4 0a4.7 4.7 0 1 0 -9.4 0ZM259.6 731.5a4.7 4.7 0 1 0 9.4 0a4.7 4.7 0 1 0 -9.4 0ZM260.0 729.8a4.7 4.7 0 1 0 9.4 0a4.7 4.7 0 1 0 -9.4 0ZM260.3 729.3a4.7 4.7 0 1 0 9.4 0a4.7 4.7 0 1 0 -9.4 0ZM260.7 729.9a4.7 4.7 0 1 0 9.4 0a4.7 4.7 0 1 0 -9.4 0ZM261.0 727.4a4.7 4.7 0 1 0 9.4 0a4.7 4.7 0 1 0 -9.4 0ZM261.4 726.5a4.7 4.7 0 1 0 9.4 0a4.7 4.7 0 1 0 -9.4 0ZM261.7 727.4a4.7 4.7 0 1 0 9.4 0a4.7 4.7 0 1 0 -9.4 0ZM262.1 727.0a4.7 4.7 0 1 0 9.4 0a4.7 4.7 0 1 0 -9.4 0ZM262.4 724.7a4.7 4.7 0 1 0 9.4 0a4.7 4.7 0 1 0 -9.4 0ZM262.8 724.1a4.7 4.7 0 1 0 9.4 0a4.7 4.7 0 1 0 -9.4 0ZM263.1 724.2a4.7 4.7 0 1 0 9.4 0a4.7 4.7 0 1 0 -9.4 0ZM263.5 724.4a4.7 4.7 0 1 0 9.4 0a4.7 4.7 0 1 0 -9.4 0ZM263.8 724.5a4.7 4.7 0 1 0 9.4 0a4.7 4.7 0 1 0 -9.4 0ZM264.2 723.8a4.7 4.7 0 1 0 9.4 0a4.7 4.7 0 1 0 -9.4 0ZM264.5 723.0a4.7 4.7 0 1 0 9.4 0a4.7 4.7 0 1 0 -9.4 0ZM264.9 722.2a4.7 4.7 0 1 0 9.4 0a4.7 4.7 0 1 0 -9.4 0ZM265.2 722.7a4.7 4.7 0 1 0 9.4 0a4.7 4.7 0 1 0 -9.4 0ZM265.6 723.0a4.7 4.7 0 1 0 9.4 0a4.7 4.7 0 1 0 -9.4 0ZM265.9 722.4a4.7 4.7 0 1 0 9.4 0a4.7 4.7 0 1 0 -9.4 0ZM266.3 721.7a4.7 4.7 0 1 0 9.4 0a4.7 4.7 0 1 0 -9.4 0ZM266.6 721.0a4.7 4.7 0 1 0 9.4 0a4.7 4.7 0 1 0 -9.4 0ZM267.0 720.7a4.7 4.7 0 1 0 9.4 0a4.7 4.7 0 1 0 -9.4 0ZM267.3 720.5a4.7 4.7 0 1 0 9.4 0a4.7 4.7 0 1 0 -9.4 0ZM267.7 720.4a4.7 4.7 0 1 0 9.4 0a4.7 4.7 0 1 0 -9.4 0ZM268.0 720.2a4.7 4.7 0 1 0 9.4 0a4.7 4.7 0 1 0 -9.4 0ZM268.4 721.9a4.7 4.7 0 1 0 9.4 0a4.7 4.7 0 1 0 -9.4 0ZM268.7 723.7a4.7 4.7 0 1 0 9.4 0a4.7 4.7 0 1 0 -9.4 0ZM269.1 720.9a4.7 4.7 0 1 0 9.4 0a4.7 4.7 0 1 0 -9.4 0ZM269.4 734.1a4.7 4.7 0 1 0 9.4 0a4.7 4.7 0 1 0 -9.4 0ZM269.8 754.7a4.7 4.7 0 1 0 9.4 0a4.7 4.7 0 1 0 -9.4 0ZM270.1 770.9a4.7 4.7 0 1 0 9.4 0a4.7 4.7 0 1 0 -9.4 0ZM270.5 783.5a4.7 4.7 0 1 0 9.4 0a4.7 4.7 0 1 0 -9.4 0ZM270.8 792.9a4.7 4.7 0 1 0 9.4 0a4.7 4.7 0 1 0 -9.4 0ZM271.2 799.3a4.7 4.7 0 1 0 9.4 0a4.7 4.7 0 1 0 -9.4 0ZM271.5 802.5a4.7 4.7 0 1 0 9.4 0a4.7 4.7 0 1 0 -9.4 0ZM271.9 805.7a4.7 4.7 0 1 0 9.4 0a4.7 4.7 0 1 0 -9.4 0ZM272.2 808.4a4.7 4.7 0 1 0 9.4 0a4.7 4.7 0 1 0 -9.4 0ZM272.6 811.1a4.7 4.7 0 1 0 9.4 0a4.7 4.7 0 1 0 -9.4 0ZM272.9 813.8a4.7 4.7 0 1 0 9.4 0a4.7 4.7 0 1 0 -9.4 0ZM273.3 816.5a4.7 4.7 0 1 0 9.4 0a4.7 4.7 0 1 0 -9.4 0ZM273.6 818.4a4.7 4.7 0 1 0 9.4 0a4.7 4.7 0 1 0 -9.4 0ZM274.0 819.6a4.7 4.7 0 1 0 9.4 0a4.7 4.7 0 1 0 -9.4 0ZM274.3 820.8a4.7 4.7 0 1 0 9.4 0a4.7 4.7 0 1 0 -9.4 0ZM274.7 822.1a4.7 4.7 0 1 0 9.4 0a4.7 4.7 0 1 0 -9.4 0ZM275.0 822.5a4.7 4.7 0 1 0 9.4 0a4.7 4.7 0 1 0 -9.4 0ZM275.4 822.8a4.7 4.7 0 1 0 9.4 0a4.7 4.7 0 1 0 -9.4 0ZM275.7 823.0a4.7 4.7 0 1 0 9.4 0a4.7 4.7 0 1 0 -9.4 0ZM276.1 823.3a4.7 4.7 0 1 0 9.4 0a4.7 4.7 0 1 0 -9.4 0ZM276.5 823.5a4.7 4.7 0 1 0 9.4 0a4.7 4.7 0 1 0 -9.4 0ZM276.8 823.8a4.7 4.7 0 1 0 9.4 0a4.7 4.7 0 1 0 -9.4 0ZM277.2 824.0a4.7 4.7 0 1 0 9.4 0a4.7 4.7 0 1 0 -9.4 0ZM277.5 824.0a4.7 4.7 0 1 0 9.4 0a4.7 4.7 0 1 0 -9.4 0ZM277.6 819.5a4.7 4.7 0 1 0 9.4 0a4.7 4.7 0 1 0 -9.4 0ZM278.0 800.9a4.7 4.7 0 1 0 9.4 0a4.7 4.7 0 1 0 -9.4 0ZM278.3 784.8a4.7 4.7 0 1 0 9.4 0a4.7 4.7 0 1 0 -9.4 0ZM278.7 773.9a4.7 4.7 0 1 0 9.4 0a4.7 4.7 0 1 0 -9.4 0ZM279.0 764.0a4.7 4.7 0 1 0 9.4 0a4.7 4.7 0 1 0 -9.4 0ZM279.4 758.6a4.7 4.7 0 1 0 9.4 0a4.7 4.7 0 1 0 -9.4 0ZM279.7 754.0a4.7 4.7 0 1 0 9.4 0a4.7 4.7 0 1 0 -9.4 0ZM280.1 751.2a4.7 4.7 0 1 0 9.4 0a4.7 4.7 0 1 0 -9.4 0ZM280.4 748.7a4.7 4.7 0 1 0 9.4 0a4.7 4.7 0 1 0 -9.4 0ZM280.8 746.5a4.7 4.7 0 1 0 9.4 0a4.7 4.7 0 1 0 -9.4 0ZM281.1 744.2a4.7 4.7 0 1 0 9.4 0a4.7 4.7 0 1 0 -9.4 0ZM281.5 743.1a4.7 4.7 0 1 0 9.4 0a4.7 4.7 0 1 0 -9.4 0ZM281.8 742.5a4.7 4.7 0 1 0 9.4 0a4.7 4.7 0 1 0 -9.4 0ZM282.2 741.9a4.7 4.7 0 1 0 9.4 0a4.7 4.7 0 1 0 -9.4 0ZM282.5 741.0a4.7 4.7 0 1 0 9.4 0a4.7 4.7 0 1 0 -9.4 0ZM282.9 740.1a4.7 4.7 0 1 0 9.4 0a4.7 4.7 0 1 0 -9.4 0ZM283.2 738.6a4.7 4.7 0 1 0 9.4 0a4.7 4.7 0 1 0 -9.4 0ZM283.6 736.6a4.7 4.7 0 1 0 9.4 0a4.7 4.7 0 1 0 -9.4 0ZM283.9 735.4a4.7 4.7 0 1 0 9.4 0a4.7 4.7 0 1 0 -9.4 0ZM284.3 734.7a4.7 4.7 0 1 0 9.4 0a4.7 4.7 0 1 0 -9.4 0ZM284.6 734.1a4.7 4.7 0 1 0 9.4 0a4.7 4.7 0 1 0 -9.4 0ZM285.0 733.4a4.7 4.7 0 1 0 9.4 0a4.7 4.7 0 1 0 -9.4 0ZM285.3 733.0a4.7 4.7 0 1 0 9.4 0a4.7 4.7 0 1 0 -9.4 0ZM285.7 732.6a4.7 4.7 0 1 0 9.4 0a4.7 4.7 0 1 0 -9.4 0ZM286.0 732.2a4.7 4.7 0 1 0 9.4 0a4.7 4.7 0 1 0 -9.4 0ZM286.4 731.0a4.7 4.7 0 1 0 9.4 0a4.7 4.7 0 1 0 -9.4 0ZM286.7 729.4a4.7 4.7 0 1 0 9.4 0a4.7 4.7 0 1 0 -9.4 0ZM287.1 729.5a4.7 4.7 0 1 0 9.4 0a4.7 4.7 0 1 0 -9.4 0ZM287.4 730.0a4.7 4.7 0 1 0 9.4 0a4.7 4.7 0 1 0 -9.4 0ZM287.8 726.9a4.7 4.7 0 1 0 9.4 0a4.7 4.7 0 1 0 -9.4 0ZM288.1 726.4a4.7 4.7 0 1 0 9.4 0a4.7 4.7 0 1 0 -9.4 0ZM288.5 728.0a4.7 4.7 0 1 0 9.4 0a4.7 4.7 0 1 0 -9.4 0ZM288.8 726.3a4.7 4.7 0 1 0 9.4 0a4.7 4.7 0 1 0 -9.4 0ZM289.2 724.0a4.7 4.7 0 1 0 9.4 0a4.7 4.7 0 1 0 -9.4 0ZM289.5 724.2a4.7 4.7 0 1 0 9.4 0a4.7 4.7 0 1 0 -9.4 0ZM289.9 724.3a4.7 4.7 0 1 0 9.4 0a4.7 4.7 0 1 0 -9.4 0ZM290.2 724.4a4.7 4.7 0 1 0 9.4 0a4.7 4.7 0 1 0 -9.4 0ZM290.6 724.3a4.7 4.7 0 1 0 9.4 0a4.7 4.7 0 1 0 -9.4 0ZM290.9 723.5a4.7 4.7 0 1 0 9.4 0a4.7 4.7 0 1 0 -9.4 0ZM291.3 722.7a4.7 4.7 0 1 0 9.4 0a4.7 4.7 0 1 0 -9.4 0ZM291.6 722.0a4.7 4.7 0 1 0 9.4 0a4.7 4.7 0 1 0 -9.4 0ZM292.0 722.9a4.7 4.7 0 1 0 9.4 0a4.7 4.7 0 1 0 -9.4 0ZM292.3 722.8a4.7 4.7 0 1 0 9.4 0a4.7 4.7 0 1 0 -9.4 0ZM292.7 722.2a4.7 4.7 0 1 0 9.4 0a4.7 4.7 0 1 0 -9.4 0ZM293.1 721.5a4.7 4.7 0 1 0 9.4 0a4.7 4.7 0 1 0 -9.4 0ZM293.4 720.8a4.7 4.7 0 1 0 9.4 0a4.7 4.7 0 1 0 -9.4 0ZM293.8 720.6a4.7 4.7 0 1 0 9.4 0a4.7 4.7 0 1 0 -9.4 0ZM294.1 720.5a4.7 4.7 0 1 0 9.4 0a4.7 4.7 0 1 0 -9.4 0ZM294.5 720.3a4.7 4.7 0 1 0 9.4 0a4.7 4.7 0 1 0 -9.4 0ZM294.8 720.6a4.7 4.7 0 1 0 9.4 0a4.7 4.7 0 1 0 -9.4 0ZM295.2 722.5a4.7 4.7 0 1 0 9.4 0a4.7 4.7 0 1 0 -9.4 0ZM295.5 722.8a4.7 4.7 0 1 0 9.4 0a4.7 4.7 0 1 0 -9.4 0ZM295.9 721.5a4.7 4.7 0 1 0 9.4 0a4.7 4.7 0 1 0 -9.4 0ZM296.2 739.6a4.7 4.7 0 1 0 9.4 0a4.7 4.7 0 1 0 -9.4 0ZM296.6 760.8a4.7 4.7 0 1 0 9.4 0a4.7 4.7 0 1 0 -9.4 0ZM296.9 775.2a4.7 4.7 0 1 0 9.4 0a4.7 4.7 0 1 0 -9.4 0ZM297.3 786.3a4.7 4.7 0 1 0 9.4 0a4.7 4.7 0 1 0 -9.4 0ZM297.6 795.8a4.7 4.7 0 1 0 9.4 0a4.7 4.7 0 1 0 -9.4 0ZM298.0 800.2a4.7 4.7 0 1 0 9.4 0a4.7 4.7 0 1 0 -9.4 0ZM298.3 803.5a4.7 4.7 0 1 0 9.4 0a4.7 4.7 0 1 0 -9.4 0ZM298.7 806.5a4.7 4.7 0 1 0 9.4 0a4.7 4.7 0 1 0 -9.4 0ZM299.0 809.2a4.7 4.7 0 1 0 9.4 0a4.7 4.7 0 1 0 -9.4 0ZM299.4 811.9a4.7 4.7 0 1 0 9.4 0a4.7 4.7 0 1 0 -9.4 0ZM299.7 814.6a4.7 4.7 0 1 0 9.4 0a4.7 4.7 0 1 0 -9.4 0ZM300.1 817.3a4.7 4.7 0 1 0 9.4 0a4.7 4.7 0 1 0 -9.4 0ZM300.4 818.8a4.7 4.7 0 1 0 9.4 0a4.7 4.7 0 1 0 -9.4 0ZM300.8 820.0a4.7 4.7 0 1 0 9.4 0a4.7 4.7 0 1 0 -9.4 0ZM301.1 821.2a4.7 4.7 0 1 0 9.4 0a4.7 4.7 0 1 0 -9.4 0ZM301.5 822.3a4.7 4.7 0 1 0 9.4 0a4.7 4.7 0 1 0 -9.4 0ZM301.8 822.6a4.7 4.7 0 1 0 9.4 0a4.7 4.7 0 1 0 -9.4 0ZM302.2 822.8a4.7 4.7 0 1 0 9.4 0a4.7 4.7 0 1 0 -9.4 0ZM302.5 823.1a4.7 4.7 0 1 0 9.4 0a4.7 4.7 0 1 0 -9.4 0ZM302.9 823.3a4.7 4.7 0 1 0 9.4 0a4.7 4.7 0 1 0 -9.4 0ZM303.2 823.6a4.7 4.7 0 1 0 9.4 0a4.7 4.7 0 1 0 -9.4 0ZM303.6 823.8a4.7 4.7 0 1 0 9.4 0a4.7 4.7 0 1 0 -9.4 0ZM303.9 824.1a4.7 4.7 0 1 0 9.4 0a4.7 4.7 0 1 0 -9.4 0ZM304.3 821.7a4.7 4.7 0 1 0 9.4 0a4.7 4.7 0 1 0 -9.4 0ZM304.6 802.7a4.7 4.7 0 1 0 9.4 0a4.7 4.7 0 1 0 -9.4 0ZM305.0 786.5a4.7 4.7 0 1 0 9.4 0a4.7 4.7 0 1 0 -9.4 0ZM305.3 775.1a4.7 4.7 0 1 0 9.4 0a4.7 4.7 0 1 0 -9.4 0ZM305.7 764.6a4.7 4.7 0 1 0 9.4 0a4.7 4.7 0 1 0 -9.4 0ZM306.0 759.2a4.7 4.7 0 1 0 9.4 0a4.7 4.7 0 1 0 -9.4 0ZM306.4 754.3a4.7 4.7 0 1 0 9.4 0a4.7 4.7 0 1 0 -9.4 0ZM306.7 751.5a4.7 4.7 0 1 0 9.4 0a4.7 4.7 0 1 0 -9.4 0ZM307.1 749.0a4.7 4.7 0 1 0 9.4 0a4.7 4.7 0 1 0 -9.4 0ZM307.4 746.7a4.7 4.7 0 1 0 9.4 0a4.7 4.7 0 1 0 -9.4 0ZM307.8 744.5a4.7 4.7 0 1 0 9.4 0a4.7 4.7 0 1 0 -9.4 0ZM308.1 743.1a4.7 4.7 0 1 0 9.4 0a4.7 4.7 0 1 0 -9.4 0ZM308.5 742.6a4.7 4.7 0 1 0 9.4 0a4.7 4.7 0 1 0 -9.4 0ZM308.8 742.0a4.7 4.7 0 1 0 9.4 0a4.7 4.7 0 1 0 -9.4 0ZM309.2 741.1a4.7 4.7 0 1 0 9.4 0a4.7 4.7 0 1 0 -9.4 0ZM309.5 740.2a4.7 4.7 0 1 0 9.4 0a4.7 4.7 0 1 0 -9.4 0ZM309.9 738.8a4.7 4.7 0 1 0 9.4 0a4.7 4.7 0 1 0 -9.4 0ZM310.2 736.8a4.7 4.7 0 1 0 9.4 0a4.7 4.7 0 1 0 -9.4 0ZM310.6 735.5a4.7 4.7 0 1 0 9.4 0a4.7 4.7 0 1 0 -9.4 0ZM310.9 734.8a4.7 4.7 0 1 0 9.4 0a4.7 4.7 0 1 0 -9.4 0ZM311.3 734.1a4.7 4.7 0 1 0 9.4 0a4.7 4.7 0 1 0 -9.4 0ZM311.6 733.5a4.7 4.7 0 1 0 9.4 0a4.7 4.7 0 1 0 -9.4 0ZM312.0 733.0a4.7 4.7 0 1 0 9.4 0a4.7 4.7 0 1 0 -9.4 0ZM312.3 732.6a4.7 4.7 0 1 0 9.4 0a4.7 4.7 0 1 0 -9.4 0ZM312.7 732.2a4.7 4.7 0 1 0 9.4 0a4.7 4.7 0 1 0 -9.4 0ZM313.0 731.2a4.7 4.7 0 1 0 9.4 0a4.7 4.7 0 1 0 -9.4 0ZM313.4 729.5a4.7 4.7 0 1 0 9.4 0a4.7 4.7 0 1 0 -9.4 0ZM313.7 729.4a4.7 4.7 0 1 0 9.4 0a4.7 4.7 0 1 0 -9.4 0ZM314.1 730.0a4.7 4.7 0 1 0 9.4 0a4.7 4.7 0 1 0 -9.4 0ZM314.4 727.0a4.7 4.7 0 1 0 9.4 0a4.7 4.7 0 1 0 -9.4 0ZM314.8 726.4a4.7 4.7 0 1 0 9.4 0a4.7 4.7 0 1 0 -9.4 0ZM315.1 727.8a4.7 4.7 0 1 0 9.4 0a4.7 4.7 0 1 0 -9.4 0ZM315.5 726.5a4.7 4.7 0 1 0 9.4 0a4.7 4.7 0 1 0 -9.4 0ZM315.8 724.2a4.7 4.7 0 1 0 9.4 0a4.7 4.7 0 1 0 -9.4 0ZM316.2 724.1a4.7 4.7 0 1 0 9.4 0a4.7 4.7 0 1 0 -9.4 0ZM316.5 724.3a4.7 4.7 0 1 0 9.4 0a4.7 4.7 0 1 0 -9.4 0ZM316.9 724.4a4.7 4.7 0 1 0 9.4 0a4.7 4.7 0 1 0 -9.4 0ZM317.2 724.4a4.7 4.7 0 1 0 9.4 0a4.7 4.7 0 1 0 -9.4 0ZM317.6 723.6a4.7 4.7 0 1 0 9.4 0a4.7 4.7 0 1 0 -9.4 0ZM317.9 722.8a4.7 4.7 0 1 0 9.4 0a4.7 4.7 0 1 0 -9.4 0ZM318.3 722.1a4.7 4.7 0 1 0 9.4 0a4.7 4.7 0 1 0 -9.4 0ZM318.6 722.8a4.7 4.7 0 1 0 9.4 0a4.7 4.7 0 1 0 -9.4 0ZM319.0 722.9a4.7 4.7 0 1 0 9.4 0a4.7 4.7 0 1 0 -9.4 0ZM319.3 722.2a4.7 4.7 0 1 0 9.4 0a4.7 4.7 0 1 0 -9.4 0ZM319.7 721.5a4.7 4.7 0 1 0 9.4 0a4.7 4.7 0 1 0 -9.4 0ZM320.0 720.9a4.7 4.7 0 1 0 9.4 0a4.7 4.7 0 1 0 -9.4 0ZM320.4 720.6a4.7 4.7 0 1 0 9.4 0a4.7 4.7 0 1 0 -9.4 0ZM320.7 720.5a4.7 4.7 0 1 0 9.4 0a4.7 4.7 0 1 0 -9.4 0ZM321.1 720.4a4.7 4.7 0 1 0 9.4 0a4.7 4.7 0 1 0 -9.4 0ZM321.4 720.4a4.7 4.7 0 1 0 9.4 0a4.7 4.7 0 1 0 -9.4 0ZM321.8 722.3a4.7 4.7 0 1 0 9.4 0a4.7 4.7 0 1 0 -9.4 0ZM322.1 723.2a4.7 4.7 0 1 0 9.4 0a4.7 4.7 0 1 0 -9.4 0ZM322.5 720.3a4.7 4.7 0 1 0 9.4 0a4.7 4.7 0 1 0 -9.4 0ZM322.8 737.6a4.7 4.7 0 1 0 9.4 0a4.7 4.7 0 1 0 -9.4 0ZM323.2 758.9a4.7 4.7 0 1 0 9.4 0a4.7 4.7 0 1 0 -9.4 0ZM323.5 773.6a4.7 4.7 0 1 0 9.4 0a4.7 4.7 0 1 0 -9.4 0ZM323.9 785.3a4.7 4.7 0 1 0 9.4 0a4.7 4.7 0 1 0 -9.4 0ZM324.2 794.7a4.7 4.7 0 1 0 9.4 0a4.7 4.7 0 1 0 -9.4 0ZM324.6 799.9a4.7 4.7 0 1 0 9.4 0a4.7 4.7 0 1 0 -9.4 0ZM324.9 803.1a4.7 4.7 0 1 0 9.4 0a4.7 4.7 0 1 0 -9.4 0ZM325.3 806.2a4.7 4.7 0 1 0 9.4 0a4.7 4.7 0 1 0 -9.4 0ZM325.6 808.9a4.7 4.7 0 1 0 9.4 0a4.7 4.7 0 1 0 -9.4 0ZM326.0 811.6a4.7 4.7 0 1 0 9.4 0a4.7 4.7 0 1 0 -9.4 0ZM326.3 814.3a4.7 4.7 0 1 0 9.4 0a4.7 4.7 0 1 0 -9.4 0ZM326.7 817.0a4.7 4.7 0 1 0 9.4 0a4.7 4.7 0 1 0 -9.4 0ZM327.0 818.6a4.7 4.7 0 1 0 9.4 0a4.7 4.7 0 1 0 -9.4 0ZM327.4 819.9a4.7 4.7 0 1 0 9.4 0a4.7 4.7 0 1 0 -9.4 0ZM327.7 821.1a4.7 4.7 0 1 0 9.4 0a4.7 4.7 0 1 0 -9.4 0ZM328.1 822.3a4.7 4.7 0 1 0 9.4 0a4.7 4.7 0 1 0 -9.4 0ZM328.4 822.6a4.7 4.7 0 1 0 9.4 0a4.7 4.7 0 1 0 -9.4 0ZM328.8 822.8a4.7 4.7 0 1 0 9.4 0a4.7 4.7 0 1 0 -9.4 0ZM329.1 823.1a4.7 4.7 0 1 0 9.4 0a4.7 4.7 0 1 0 -9.4 0ZM329.5 823.3a4.7 4.7 0 1 0 9.4 0a4.7 4.7 0 1 0 -9.4 0ZM329.8 823.6a4.7 4.7 0 1 0 9.4 0a4.7 4.7 0 1 0 -9.4 0ZM330.2 823.8a4.7 4.7 0 1 0 9.4 0a4.7 4.7 0 1 0 -9.4 0ZM330.5 824.1a4.7 4.7 0 1 0 9.4 0a4.7 4.7 0 1 0 -9.4 0Z" fill="#ff0000"/>
<path d="M334.76 825.33 L335.11 770.67 L335.46 738.91 L335.81 722.67 L336.16 708.54 L336.51 696.74 L336.86 686.22 L337.21 678.91 L337.56 672.15 L337.91 667.44 L338.26 665.45 L338.61 663.47 L338.96 661.11 L339.31 657.72 L339.66 654.62 L340.01 651.91 L340.36 649.35 L340.71 646.91 L341.06 644.48 L341.41 644.41 L341.76 644.03 L342.11 641.65 L342.46 639.33 L342.82 639.33 L343.17 639.33 L343.52 638.77 L343.87 636.33 L344.22 634.64 L344.57 634.20 L344.92 633.85 L345.27 635.31 L345.62 636.87 L345.97 636.27 L346.32 635.48 L346.67 635.32 L347.02 635.17 L347.37 635.42 L347.72 636.94 L348.07 638.46 L348.42 637.09 L348.77 636.25 L349.12 636.15 L349.47 636.04 L349.82 635.93 L350.17 635.82 L350.52 636.61 L350.87 637.12 L351.22 636.28 L351.57 635.61 L351.92 636.04 L352.27 636.46 L352.62 636.88 L352.97 637.30 L353.32 636.55 L353.67 659.58 L354.02 692.08 L354.37 726.90 L354.73 748.61 L355.08 763.51 L355.43 777.04 L355.78 785.32 L356.13 793.44 L356.48 798.43 L356.83 801.68 L357.18 804.59 L357.53 806.75 L357.88 808.92 L358.23 811.62 L358.58 814.32 L358.93 815.92 L359.28 816.93 L359.63 817.95 L359.98 818.96 L360.33 819.59 L360.68 820.19 L361.03 820.79 L361.38 821.39 L361.73 821.72 L362.08 821.95 L362.43 822.18 L362.78 822.41 L363.13 822.63 L363.48 822.86 L363.83 823.09 L363.86 823.04 L364.21 769.44 L364.56 738.30 L364.91 722.06 L365.26 708.04 L365.61 696.34 L365.96 685.83 L366.31 678.66 L366.66 671.95 L367.01 667.36 L367.36 665.38 L367.71 663.39 L368.06 660.98 L368.41 657.60 L368.77 654.51 L369.12 651.81 L369.47 649.26 L369.82 646.82 L370.17 644.39 L370.52 644.44 L370.87 643.94 L371.22 641.56 L371.57 639.33 L371.92 639.33 L372.27 639.33 L372.62 638.67 L372.97 636.24 L373.32 634.62 L373.67 634.19 L374.02 633.91 L374.37 635.37 L374.72 636.93 L375.07 636.22 L375.42 635.47 L375.77 635.32 L376.12 635.16 L376.47 635.48 L376.82 637.00 L377.17 638.51 L377.52 637.02 L377.87 636.25 L378.22 636.14 L378.57 636.03 L378.92 635.92 L379.27 635.82 L379.62 636.65 L379.97 637.09 L380.32 636.24 L380.67 635.63 L381.03 636.05 L381.38 636.47 L381.73 636.89 L382.08 637.31 L382.43 636.52 L382.78 660.85 L383.13 693.29 L383.48 727.78 L383.83 749.43 L384.18 764.02 L384.53 777.51 L384.88 785.63 L385.23 793.75 L385.58 798.55 L385.93 801.80 L386.28 804.67 L386.63 806.83 L386.98 809.01 L387.33 811.72 L387.68 814.43 L388.03 815.95 L388.38 816.97 L388.73 817.98 L389.08 819.00 L389.43 819.61 L389.78 820.21 L390.13 820.82 L390.48 821.42 L390.83 821.73 L391.18 821.96 L391.53 822.18 L391.88 822.41 L392.23 822.64 L392.58 822.87 L392.94 823.10 L393.05 805.30 L393.40 759.92 L393.75 733.54 L394.10 717.30 L394.45 704.24 L394.80 693.26 L395.15 683.44 L395.51 676.67 L395.86 670.52 L396.21 666.78 L396.56 664.80 L396.91 662.81 L397.26 659.99 L397.61 656.60 L397.96 653.72 L398.31 651.01 L398.66 648.54 L399.01 646.11 L399.36 643.93 L399.71 644.65 L400.06 643.25 L400.41 640.86 L400.76 639.33 L401.11 639.33 L401.46 639.33 L401.81 637.96 L402.16 635.52 L402.51 634.49 L402.86 634.06 L403.21 634.34 L403.56 635.81 L403.91 637.25 L404.26 635.79 L404.61 635.42 L404.96 635.27 L405.31 635.12 L405.66 635.93 L406.01 637.44 L406.36 638.17 L406.71 636.55 L407.06 636.22 L407.41 636.11 L407.77 636.00 L408.12 635.89 L408.47 635.99 L408.82 636.92 L409.17 636.84 L409.52 636.00 L409.87 635.75 L410.22 636.17 L410.57 636.60 L410.92 637.02 L411.27 637.09 L411.62 637.22 L411.97 670.64 L412.32 702.75 L412.67 734.12 L413.02 754.45 L413.37 767.98 L413.72 779.89 L414.07 788.01 L414.42 796.13 L414.77 799.51 L415.12 802.75 L415.47 805.30 L415.82 807.47 L416.17 809.81 L416.52 812.51 L416.87 815.22 L417.22 816.25 L417.57 817.27 L417.92 818.28 L418.27 819.19 L418.62 819.79 L418.97 820.39 L419.32 820.99 L419.68 821.56 L420.03 821.79 L420.38 822.02 L420.73 822.25 L421.08 822.48 L421.43 822.71 L421.78 822.94 L422.03 823.85 L422.39 769.87 L422.74 738.52 L423.09 722.27 L423.44 708.22 L423.79 696.49 L424.14 685.97 L424.49 678.75 L424.84 672.01 L425.19 667.39 L425.54 665.41 L425.89 663.42 L426.24 661.03 L426.59 657.64 L426.94 654.55 L427.29 651.84 L427.64 649.29 L427.99 646.85 L428.34 644.42 L428.69 644.43 L429.04 643.98 L429.39 641.59 L429.74 639.33 L430.09 639.33 L430.44 639.33 L430.79 638.71 L431.14 636.27 L431.49 634.63 L431.84 634.19 L432.19 633.89 L432.54 635.35 L432.89 636.91 L433.24 636.24 L433.59 635.47 L433.94 635.32 L434.30 635.16 L434.65 635.46 L435.00 636.98 L435.35 638.49 L435.70 637.05 L436.05 636.25 L436.40 636.14 L436.75 636.03 L437.10 635.93 L437.45 635.82 L437.80 636.63 L438.15 637.10 L438.50 636.26 L438.85 635.62 L439.20 636.05 L439.55 636.47 L439.90 636.89 L440.25 637.31 L440.60 636.53 L440.95 660.40 L441.30 692.86 L441.65 727.49 L442.00 749.14 L442.35 763.84 L442.70 777.37 L443.05 785.52 L443.40 793.64 L443.75 798.51 L444.10 801.76 L444.45 804.64 L444.80 806.81 L445.15 808.98 L445.50 811.68 L445.85 814.39 L446.20 815.94 L446.56 816.96 L446.91 817.97 L447.26 818.99 L447.61 819.60" fill="none" stroke="#98ff98" stroke-width="1.8" stroke-linejoin="round" stroke-linecap="round" />
<path d="M334.8 819.8L336.3 823.2L340.0 823.6L337.2 826.1L338.0 829.8L334.8 827.9L331.5 829.8L332.3 826.1L329.5 823.6L333.2 823.2ZM335.1 765.2L336.6 768.6L340.3 769.0L337.6 771.5L338.3 775.1L335.1 773.3L331.9 775.1L332.6 771.5L329.9 769.0L333.6 768.6ZM335.5 733.4L337.0 736.8L340.7 737.2L337.9 739.7L338.7 743.4L335.5 741.5L332.2 743.4L333.0 739.7L330.2 737.2L333.9 736.8ZM335.8 717.2L337.3 720.6L341.0 721.0L338.3 723.5L339.0 727.1L335.8 725.3L332.6 727.1L333.3 723.5L330.6 721.0L334.3 720.6ZM336.2 703.0L337.7 706.4L341.4 706.8L338.6 709.3L339.4 713.0L336.2 711.1L332.9 713.0L333.7 709.3L330.9 706.8L334.6 706.4ZM336.5 691.2L338.0 694.6L341.7 695.0L339.0 697.5L339.7 701.2L336.5 699.3L333.3 701.2L334.0 697.5L331.3 695.0L335.0 694.6ZM336.9 680.7L338.4 684.1L342.1 684.5L339.3 687.0L340.1 690.7L336.9 688.8L333.6 690.7L334.4 687.0L331.6 684.5L335.3 684.1ZM337.2 673.4L338.7 676.8L342.4 677.2L339.7 679.7L340.4 683.4L337.2 681.5L334.0 683.4L334.7 679.7L332.0 677.2L335.7 676.8ZM337.6 666.6L339.1 670.0L342.8 670.4L340.0 672.9L340.8 676.6L337.6 674.7L334.3 676.6L335.1 672.9L332.3 670.4L336.0 670.0ZM337.9 661.9L339.4 665.3L343.1 665.7L340.4 668.2L341.1 671.9L337.9 670.0L334.7 671.9L335.4 668.2L332.7 665.7L336.4 665.3ZM338.3 660.0L339.8 663.4L343.5 663.8L340.7 666.3L341.5 669.9L338.3 668.1L335.0 669.9L335.8 666.3L333.0 663.8L336.7 663.4ZM338.6 658.0L340.1 661.4L343.8 661.8L341.1 664.3L341.8 667.9L338.6 666.1L335.4 667.9L336.1 664.3L333.4 661.8L337.1 661.4ZM339.0 655.6L340.5 659.0L344.2 659.4L341.4 661.9L342.2 665.6L339.0 663.7L335.7 665.6L336.5 661.9L333.7 659.4L337.4 659.0ZM339.3 652.2L340.8 655.6L344.5 656.0L341.8 658.5L342.5 662.2L339.3 660.3L336.1 662.2L336.8 658.5L334.1 656.0L337.8 655.6ZM339.7 649.1L341.2 652.5L344.9 652.9L342.1 655.4L342.9 659.1L339.7 657.2L336.4 659.1L337.2 655.4L334.4 652.9L338.1 652.5ZM340.0 646.4L341.5 649.8L345.2 650.2L342.5 652.7L343.2 656.4L340.0 654.5L336.8 656.4L337.5 652.7L334.8 650.2L338.5 649.8ZM340.4 643.8L341.9 647.2L345.6 647.7L342.8 650.2L343.6 653.8L340.4 651.9L337.1 653.8L337.9 650.2L335.1 647.7L338.8 647.2ZM340.7 641.4L342.2 644.8L345.9 645.2L343.2 647.7L343.9 651.4L340.7 649.5L337.5 651.4L338.2 647.7L335.5 645.2L339.2 644.8ZM341.1 639.0L342.6 642.4L346.3 642.8L343.5 645.3L344.3 648.9L341.1 647.1L337.8 648.9L338.6 645.3L335.8 642.8L339.5 642.4ZM341.4 638.9L342.9 642.3L346.6 642.7L343.9 645.2L344.6 648.9L341.4 647.0L338.2 648.9L338.9 645.2L336.2 642.7L339.9 642.3ZM341.8 638.5L343.3 641.9L347.0 642.3L344.2 644.8L345.0 648.5L341.8 646.6L338.5 648.5L339.3 644.8L336.5 642.3L340.2 641.9ZM342.1 636.2L343.6 639.5L347.3 640.0L344.6 642.5L345.3 646.1L342.1 644.3L338.9 646.1L339.6 642.5L336.9 640.0L340.6 639.5ZM342.5 633.8L344.0 637.2L347.7 637.6L344.9 640.1L345.7 643.8L342.5 641.9L339.2 643.8L340.0 640.1L337.2 637.6L340.9 637.2ZM342.8 633.8L344.3 637.2L348.0 637.6L345.3 640.1L346.0 643.8L342.8 641.9L339.6 643.8L340.3 640.1L337.6 637.6L341.3 637.2ZM343.2 633.8L344.7 637.2L348.4 637.6L345.6 640.1L346.4 643.8L343.2 641.9L339.9 643.8L340.7 640.1L337.9 637.6L341.6 637.2ZM343.5 633.3L345.0 636.7L348.7 637.1L346.0 639.6L346.7 643.2L343.5 641.4L340.3 643.2L341.0 639.6L338.3 637.1L342.0 636.7ZM343.9 630.8L345.4 634.2L349.1 634.6L346.3 637.1L347.1 640.8L343.9 638.9L340.6 640.8L341.4 637.1L338.6 634.6L342.3 634.2ZM344.2 629.1L345.7 632.5L349.4 632.9L346.7 635.4L347.4 639.1L344.2 637.2L341.0 639.1L341.7 635.4L339.0 632.9L342.7 632.5ZM344.6 628.7L346.1 632.1L349.8 632.5L347.0 635.0L347.8 638.7L344.6 636.8L341.3 638.7L342.1 635.0L339.3 632.5L343.0 632.1ZM344.9 628.4L346.4 631.8L350.1 632.2L347.4 634.7L348.1 638.3L344.9 636.5L341.7 638.3L342.4 634.7L339.7 632.2L343.4 631.8ZM345.3 629.8L346.8 633.2L350.5 633.6L347.7 636.1L348.5 639.8L345.3 637.9L342.0 639.8L342.8 636.1L340.0 633.6L343.7 633.2ZM345.6 631.4L347.1 634.8L350.8 635.2L348.1 637.7L348.9 641.3L345.6 639.5L342.4 641.3L343.1 637.7L340.4 635.2L344.1 634.8ZM346.0 630.8L347.5 634.2L351.2 634.6L348.4 637.1L349.2 640.7L346.0 638.9L342.7 640.7L343.5 637.1L340.7 634.6L344.4 634.2ZM346.3 630.0L347.8 633.4L351.5 633.8L348.8 636.3L349.6 639.9L346.3 638.1L343.1 639.9L343.8 636.3L341.1 633.8L344.8 633.4ZM346.7 629.8L348.2 633.2L351.9 633.6L349.1 636.1L349.9 639.8L346.7 637.9L343.4 639.8L344.2 636.1L341.4 633.6L345.1 633.2ZM347.0 629.7L348.5 633.1L352.2 633.5L349.5 636.0L350.3 639.6L347.0 637.8L343.8 639.6L344.5 636.0L341.8 633.5L345.5 633.1ZM347.4 629.9L348.9 633.3L352.6 633.7L349.8 636.2L350.6 639.9L347.4 638.0L344.1 639.9L344.9 636.2L342.1 633.7L345.8 633.3ZM347.7 631.4L349.2 634.8L353.0 635.2L350.2 637.7L351.0 641.4L347.7 639.5L344.5 641.4L345.2 637.7L342.5 635.2L346.2 634.8ZM348.1 633.0L349.6 636.4L353.3 636.8L350.5 639.3L351.3 642.9L348.1 641.1L344.8 642.9L345.6 639.3L342.8 636.8L346.5 636.4ZM348.4 631.6L349.9 635.0L353.7 635.4L350.9 637.9L351.7 641.5L348.4 639.7L345.2 641.5L345.9 637.9L343.2 635.4L346.9 635.0ZM348.8 630.8L350.3 634.2L354.0 634.6L351.2 637.1L352.0 640.7L348.8 638.9L345.5 640.7L346.3 637.1L343.5 634.6L347.2 634.2ZM349.1 630.6L350.6 634.0L354.4 634.4L351.6 636.9L352.4 640.6L349.1 638.7L345.9 640.6L346.6 636.9L343.9 634.4L347.6 634.0ZM349.5 630.5L351.0 633.9L354.7 634.3L351.9 636.8L352.7 640.5L349.5 638.6L346.2 640.5L347.0 636.8L344.2 634.3L347.9 633.9ZM349.8 630.4L351.3 633.8L355.1 634.2L352.3 636.7L353.1 640.4L349.8 638.5L346.6 640.4L347.3 636.7L344.6 634.2L348.3 633.8ZM350.2 630.3L351.7 633.7L355.4 634.1L352.6 636.6L353.4 640.3L350.2 638.4L346.9 640.3L347.7 636.6L344.9 634.1L348.6 633.7ZM350.5 631.1L352.0 634.5L355.8 634.9L353.0 637.4L353.8 641.1L350.5 639.2L347.3 641.1L348.0 637.4L345.3 634.9L349.0 634.5ZM350.9 631.6L352.4 635.0L356.1 635.4L353.3 637.9L354.1 641.6L350.9 639.7L347.6 641.6L348.4 637.9L345.6 635.4L349.3 635.0ZM351.2 630.8L352.8 634.2L356.5 634.6L353.7 637.1L354.5 640.7L351.2 638.9L348.0 640.7L348.7 637.1L346.0 634.6L349.7 634.2ZM351.6 630.1L353.1 633.5L356.8 633.9L354.0 636.4L354.8 640.1L351.6 638.2L348.3 640.1L349.1 636.4L346.3 633.9L350.0 633.5ZM351.9 630.5L353.5 633.9L357.2 634.3L354.4 636.8L355.2 640.5L351.9 638.6L348.7 640.5L349.4 636.8L346.7 634.3L350.4 633.9ZM352.3 631.0L353.8 634.4L357.5 634.8L354.7 637.3L355.5 640.9L352.3 639.1L349.0 640.9L349.8 637.3L347.0 634.8L350.7 634.4ZM352.6 631.4L354.2 634.8L357.9 635.2L355.1 637.7L355.9 641.3L352.6 639.5L349.4 641.3L350.2 637.7L347.4 635.2L351.1 634.8ZM353.0 631.8L354.5 635.2L358.2 635.6L355.4 638.1L356.2 641.7L353.0 639.9L349.7 641.7L350.5 638.1L347.7 635.6L351.4 635.2ZM353.3 631.1L354.9 634.5L358.6 634.9L355.8 637.4L356.6 641.0L353.3 639.2L350.1 641.0L350.9 637.4L348.1 634.9L351.8 634.5ZM353.7 654.1L355.2 657.5L358.9 657.9L356.1 660.4L356.9 664.0L353.7 662.2L350.4 664.0L351.2 660.4L348.4 657.9L352.1 657.5ZM354.0 686.6L355.6 690.0L359.3 690.4L356.5 692.9L357.3 696.5L354.0 694.7L350.8 696.5L351.6 692.9L348.8 690.4L352.5 690.0ZM354.4 721.4L355.9 724.8L359.6 725.2L356.8 727.7L357.6 731.4L354.4 729.5L351.1 731.4L351.9 727.7L349.1 725.2L352.8 724.8ZM354.7 743.1L356.3 746.5L360.0 746.9L357.2 749.4L358.0 753.1L354.7 751.2L351.5 753.1L352.3 749.4L349.5 746.9L353.2 746.5ZM355.1 758.0L356.6 761.4L360.3 761.8L357.5 764.3L358.3 768.0L355.1 766.1L351.8 768.0L352.6 764.3L349.8 761.8L353.5 761.4ZM355.4 771.5L357.0 774.9L360.7 775.3L357.9 777.8L358.7 781.5L355.4 779.6L352.2 781.5L353.0 777.8L350.2 775.3L353.9 774.9ZM355.8 779.8L357.3 783.2L361.0 783.6L358.2 786.1L359.0 789.8L355.8 787.9L352.5 789.8L353.3 786.1L350.5 783.6L354.2 783.2ZM356.1 787.9L357.7 791.3L361.4 791.7L358.6 794.2L359.4 797.9L356.1 796.0L352.9 797.9L353.7 794.2L350.9 791.7L354.6 791.3ZM356.5 792.9L358.0 796.3L361.7 796.7L358.9 799.2L359.7 802.9L356.5 801.0L353.2 802.9L354.0 799.2L351.2 796.7L354.9 796.3ZM356.8 796.2L358.4 799.6L362.1 800.0L359.3 802.5L360.1 806.1L356.8 804.3L353.6 806.1L354.4 802.5L351.6 800.0L355.3 799.6ZM357.2 799.1L358.7 802.5L362.4 802.9L359.6 805.4L360.4 809.0L357.2 807.2L353.9 809.0L354.7 805.4L351.9 802.9L355.6 802.5ZM357.5 801.3L359.1 804.6L362.8 805.1L360.0 807.6L360.8 811.2L357.5 809.4L354.3 811.2L355.1 807.6L352.3 805.1L356.0 804.6ZM357.9 803.4L359.4 806.8L363.1 807.2L360.4 809.7L361.1 813.4L357.9 811.5L354.6 813.4L355.4 809.7L352.6 807.2L356.3 806.8ZM358.2 806.1L359.8 809.5L363.5 809.9L360.7 812.4L361.5 816.1L358.2 814.2L355.0 816.1L355.8 812.4L353.0 809.9L356.7 809.5ZM358.6 808.8L360.1 812.2L363.8 812.6L361.1 815.1L361.8 818.8L358.6 816.9L355.3 818.8L356.1 815.1L353.3 812.6L357.0 812.2ZM358.9 810.4L360.5 813.8L364.2 814.2L361.4 816.7L362.2 820.4L358.9 818.5L355.7 820.4L356.5 816.7L353.7 814.2L357.4 813.8ZM359.3 811.4L360.8 814.8L364.5 815.2L361.8 817.7L362.5 821.4L359.3 819.5L356.0 821.4L356.8 817.7L354.0 815.2L357.8 814.8ZM359.6 812.4L361.2 815.8L364.9 816.2L362.1 818.7L362.9 822.4L359.6 820.5L356.4 822.4L357.2 818.7L354.4 816.2L358.1 815.8ZM360.0 813.5L361.5 816.9L365.2 817.3L362.5 819.8L363.2 823.4L360.0 821.6L356.7 823.4L357.5 819.8L354.7 817.3L358.5 816.9ZM360.3 814.1L361.9 817.5L365.6 817.9L362.8 820.4L363.6 824.0L360.3 822.2L357.1 824.0L357.9 820.4L355.1 817.9L358.8 817.5ZM360.7 814.7L362.2 818.1L365.9 818.5L363.2 821.0L363.9 824.6L360.7 822.8L357.4 824.6L358.2 821.0L355.4 818.5L359.2 818.1ZM361.0 815.3L362.6 818.7L366.3 819.1L363.5 821.6L364.3 825.2L361.0 823.4L357.8 825.2L358.6 821.6L355.8 819.1L359.5 818.7ZM361.4 815.9L362.9 819.3L366.6 819.7L363.9 822.2L364.6 825.8L361.4 824.0L358.1 825.8L358.9 822.2L356.1 819.7L359.9 819.3ZM361.7 816.2L363.3 819.6L367.0 820.0L364.2 822.5L365.0 826.2L361.7 824.3L358.5 826.2L359.3 822.5L356.5 820.0L360.2 819.6ZM362.1 816.4L363.6 819.8L367.3 820.2L364.6 822.8L365.3 826.4L362.1 824.5L358.8 826.4L359.6 822.8L356.9 820.2L360.6 819.8ZM362.4 816.7L364.0 820.1L367.7 820.5L364.9 823.0L365.7 826.6L362.4 824.8L359.2 826.6L360.0 823.0L357.2 820.5L360.9 820.1ZM362.8 816.9L364.3 820.3L368.0 820.7L365.3 823.2L366.0 826.9L362.8 825.0L359.5 826.9L360.3 823.2L357.6 820.7L361.3 820.3ZM363.1 817.1L364.7 820.5L368.4 820.9L365.6 823.4L366.4 827.1L363.1 825.2L359.9 827.1L360.7 823.4L357.9 820.9L361.6 820.5ZM363.5 817.4L365.0 820.8L368.7 821.2L366.0 823.7L366.7 827.3L363.5 825.5L360.2 827.3L361.0 823.7L358.3 821.2L362.0 820.8ZM363.8 817.6L365.4 821.0L369.1 821.4L366.3 823.9L367.1 827.5L363.8 825.7L360.6 827.5L361.4 823.9L358.6 821.4L362.3 821.0ZM363.9 817.5L365.4 820.9L369.1 821.3L366.3 823.8L367.1 827.5L363.9 825.6L360.6 827.5L361.4 823.8L358.6 821.3L362.3 820.9ZM364.2 763.9L365.7 767.3L369.4 767.7L366.7 770.2L367.4 773.9L364.2 772.0L361.0 773.9L361.7 770.2L359.0 767.7L362.7 767.3ZM364.6 732.8L366.1 736.2L369.8 736.6L367.0 739.1L367.8 742.7L364.6 740.9L361.3 742.7L362.1 739.1L359.3 736.6L363.0 736.2ZM364.9 716.6L366.4 720.0L370.1 720.4L367.4 722.9L368.1 726.5L364.9 724.7L361.7 726.5L362.4 722.9L359.7 720.4L363.4 720.0ZM365.3 702.5L366.8 705.9L370.5 706.3L367.7 708.8L368.5 712.5L365.3 710.6L362.0 712.5L362.8 708.8L360.0 706.3L363.7 705.9ZM365.6 690.8L367.1 694.2L370.8 694.6L368.1 697.1L368.8 700.8L365.6 698.9L362.4 700.8L363.1 697.1L360.4 694.6L364.1 694.2ZM366.0 680.3L367.5 683.7L371.2 684.1L368.4 686.6L369.2 690.3L366.0 688.4L362.7 690.3L363.5 686.6L360.7 684.1L364.4 683.7ZM366.3 673.2L367.8 676.6L371.5 677.0L368.8 679.5L369.5 683.1L366.3 681.3L363.1 683.1L363.8 679.5L361.1 677.0L364.8 676.6ZM366.7 666.4L368.2 669.8L371.9 670.2L369.1 672.8L369.9 676.4L366.7 674.5L363.4 676.4L364.2 672.8L361.4 670.2L365.1 669.8ZM367.0 661.9L368.5 665.3L372.2 665.7L369.5 668.2L370.2 671.8L367.0 670.0L363.8 671.8L364.5 668.2L361.8 665.7L365.5 665.3ZM367.4 659.9L368.9 663.3L372.6 663.7L369.8 666.2L370.6 669.8L367.4 668.0L364.1 669.8L364.9 666.2L362.1 663.7L365.8 663.3ZM367.7 657.9L369.2 661.3L372.9 661.7L370.2 664.2L370.9 667.8L367.7 666.0L364.5 667.8L365.2 664.2L362.5 661.7L366.2 661.3ZM368.1 655.5L369.6 658.9L373.3 659.3L370.5 661.8L371.3 665.4L368.1 663.6L364.8 665.4L365.6 661.8L362.8 659.3L366.5 658.9ZM368.4 652.1L369.9 655.5L373.6 655.9L370.9 658.4L371.6 662.0L368.4 660.2L365.2 662.0L365.9 658.4L363.2 655.9L366.9 655.5ZM368.8 649.0L370.3 652.4L374.0 652.8L371.2 655.3L372.0 659.0L368.8 657.1L365.5 659.0L366.3 655.3L363.5 652.8L367.2 652.4ZM369.1 646.3L370.6 649.7L374.3 650.1L371.6 652.6L372.3 656.3L369.1 654.4L365.9 656.3L366.6 652.6L363.9 650.1L367.6 649.7ZM369.5 643.8L371.0 647.2L374.7 647.6L371.9 650.1L372.7 653.7L369.5 651.9L366.2 653.7L367.0 650.1L364.2 647.6L367.9 647.2ZM369.8 641.3L371.3 644.7L375.0 645.1L372.3 647.6L373.0 651.3L369.8 649.4L366.6 651.3L367.3 647.6L364.6 645.1L368.3 644.7ZM370.2 638.9L371.7 642.3L375.4 642.7L372.6 645.2L373.4 648.8L370.2 647.0L366.9 648.8L367.7 645.2L364.9 642.7L368.6 642.3ZM370.5 638.9L372.0 642.3L375.7 642.7L373.0 645.2L373.7 648.9L370.5 647.0L367.3 648.9L368.0 645.2L365.3 642.7L369.0 642.3ZM370.9 638.4L372.4 641.8L376.1 642.2L373.3 644.7L374.1 648.4L370.9 646.5L367.6 648.4L368.4 644.7L365.6 642.2L369.3 641.8ZM371.2 636.1L372.7 639.5L376.4 639.9L373.7 642.4L374.4 646.0L371.2 644.2L368.0 646.0L368.7 642.4L366.0 639.9L369.7 639.5ZM371.6 633.8L373.1 637.2L376.8 637.6L374.0 640.1L374.8 643.8L371.6 641.9L368.3 643.8L369.1 640.1L366.3 637.6L370.0 637.2ZM371.9 633.8L373.4 637.2L377.1 637.6L374.4 640.1L375.2 643.8L371.9 641.9L368.7 643.8L369.4 640.1L366.7 637.6L370.4 637.2ZM372.3 633.8L373.8 637.2L377.5 637.6L374.7 640.1L375.5 643.8L372.3 641.9L369.0 643.8L369.8 640.1L367.0 637.6L370.7 637.2ZM372.6 633.2L374.1 636.6L377.8 637.0L375.1 639.5L375.9 643.1L372.6 641.3L369.4 643.1L370.1 639.5L367.4 637.0L371.1 636.6ZM373.0 630.7L374.5 634.1L378.2 634.5L375.4 637.0L376.2 640.7L373.0 638.8L369.7 640.7L370.5 637.0L367.7 634.5L371.4 634.1ZM373.3 629.1L374.8 632.5L378.5 632.9L375.8 635.4L376.6 639.1L373.3 637.2L370.1 639.1L370.8 635.4L368.1 632.9L371.8 632.5ZM373.7 628.7L375.2 632.1L378.9 632.5L376.1 635.0L376.9 638.6L373.7 636.8L370.4 638.6L371.2 635.0L368.4 632.5L372.1 632.1ZM374.0 628.4L375.5 631.8L379.3 632.2L376.5 634.7L377.3 638.4L374.0 636.5L370.8 638.4L371.5 634.7L368.8 632.2L372.5 631.8ZM374.4 629.9L375.9 633.3L379.6 633.7L376.8 636.2L377.6 639.8L374.4 638.0L371.1 639.8L371.9 636.2L369.1 633.7L372.8 633.3ZM374.7 631.4L376.2 634.8L380.0 635.2L377.2 637.7L378.0 641.4L374.7 639.5L371.5 641.4L372.2 637.7L369.5 635.2L373.2 634.8ZM375.1 630.7L376.6 634.1L380.3 634.5L377.5 637.0L378.3 640.7L375.1 638.8L371.8 640.7L372.6 637.0L369.8 634.5L373.5 634.1ZM375.4 630.0L376.9 633.4L380.7 633.8L377.9 636.3L378.7 639.9L375.4 638.1L372.2 639.9L372.9 636.3L370.2 633.8L373.9 633.4ZM375.8 629.8L377.3 633.2L381.0 633.6L378.2 636.1L379.0 639.8L375.8 637.9L372.5 639.8L373.3 636.1L370.5 633.6L374.2 633.2ZM376.1 629.7L377.6 633.1L381.4 633.5L378.6 636.0L379.4 639.6L376.1 637.8L372.9 639.6L373.6 636.0L370.9 633.5L374.6 633.1ZM376.5 630.0L378.0 633.4L381.7 633.8L378.9 636.3L379.7 639.9L376.5 638.1L373.2 639.9L374.0 636.3L371.2 633.8L374.9 633.4ZM376.8 631.5L378.4 634.9L382.1 635.3L379.3 637.8L380.1 641.4L376.8 639.6L373.6 641.4L374.3 637.8L371.6 635.3L375.3 634.9ZM377.2 633.0L378.7 636.4L382.4 636.8L379.6 639.3L380.4 643.0L377.2 641.1L373.9 643.0L374.7 639.3L371.9 636.8L375.6 636.4ZM377.5 631.5L379.1 634.9L382.8 635.3L380.0 637.8L380.8 641.5L377.5 639.6L374.3 641.5L375.0 637.8L372.3 635.3L376.0 634.9ZM377.9 630.7L379.4 634.1L383.1 634.6L380.3 637.1L381.1 640.7L377.9 638.8L374.6 640.7L375.4 637.1L372.6 634.6L376.3 634.1ZM378.2 630.6L379.8 634.0L383.5 634.4L380.7 636.9L381.5 640.6L378.2 638.7L375.0 640.6L375.8 636.9L373.0 634.4L376.7 634.0ZM378.6 630.5L380.1 633.9L383.8 634.3L381.0 636.8L381.8 640.5L378.6 638.6L375.3 640.5L376.1 636.8L373.3 634.3L377.0 633.9ZM378.9 630.4L380.5 633.8L384.2 634.2L381.4 636.7L382.2 640.4L378.9 638.5L375.7 640.4L376.5 636.7L373.7 634.2L377.4 633.8ZM379.3 630.3L380.8 633.7L384.5 634.1L381.7 636.6L382.5 640.3L379.3 638.4L376.0 640.3L376.8 636.6L374.0 634.1L377.7 633.7ZM379.6 631.1L381.2 634.5L384.9 634.9L382.1 637.4L382.9 641.1L379.6 639.2L376.4 641.1L377.2 637.4L374.4 634.9L378.1 634.5ZM380.0 631.6L381.5 635.0L385.2 635.4L382.4 637.9L383.2 641.5L380.0 639.7L376.7 641.5L377.5 637.9L374.7 635.4L378.4 635.0ZM380.3 630.7L381.9 634.1L385.6 634.5L382.8 637.0L383.6 640.7L380.3 638.8L377.1 640.7L377.9 637.0L375.1 634.5L378.8 634.1ZM380.7 630.1L382.2 633.5L385.9 633.9L383.1 636.4L383.9 640.1L380.7 638.2L377.4 640.1L378.2 636.4L375.4 633.9L379.1 633.5ZM381.0 630.6L382.6 633.9L386.3 634.4L383.5 636.9L384.3 640.5L381.0 638.7L377.8 640.5L378.6 636.9L375.8 634.4L379.5 633.9ZM381.4 631.0L382.9 634.4L386.6 634.8L383.8 637.3L384.6 640.9L381.4 639.1L378.1 640.9L378.9 637.3L376.1 634.8L379.8 634.4ZM381.7 631.4L383.3 634.8L387.0 635.2L384.2 637.7L385.0 641.3L381.7 639.5L378.5 641.3L379.3 637.7L376.5 635.2L380.2 634.8ZM382.1 631.8L383.6 635.2L387.3 635.6L384.5 638.1L385.3 641.8L382.1 639.9L378.8 641.8L379.6 638.1L376.8 635.6L380.5 635.2ZM382.4 631.0L384.0 634.4L387.7 634.8L384.9 637.3L385.7 641.0L382.4 639.1L379.2 641.0L380.0 637.3L377.2 634.8L380.9 634.4ZM382.8 655.3L384.3 658.7L388.0 659.1L385.2 661.7L386.0 665.3L382.8 663.4L379.5 665.3L380.3 661.7L377.5 659.1L381.2 658.7ZM383.1 687.8L384.7 691.2L388.4 691.6L385.6 694.1L386.4 697.7L383.1 695.9L379.9 697.7L380.7 694.1L377.9 691.6L381.6 691.2ZM383.5 722.3L385.0 725.7L388.7 726.1L386.0 728.6L386.7 732.2L383.5 730.4L380.2 732.2L381.0 728.6L378.2 726.1L381.9 725.7ZM383.8 743.9L385.4 747.3L389.1 747.7L386.3 750.2L387.1 753.9L383.8 752.0L380.6 753.9L381.4 750.2L378.6 747.7L382.3 747.3ZM384.2 758.5L385.7 761.9L389.4 762.3L386.7 764.8L387.4 768.5L384.2 766.6L380.9 768.5L381.7 764.8L378.9 762.3L382.6 761.9ZM384.5 772.0L386.1 775.4L389.8 775.8L387.0 778.3L387.8 782.0L384.5 780.1L381.3 782.0L382.1 778.3L379.3 775.8L383.0 775.4ZM384.9 780.1L386.4 783.5L390.1 783.9L387.4 786.4L388.1 790.1L384.9 788.2L381.6 790.1L382.4 786.4L379.6 783.9L383.4 783.5ZM385.2 788.2L386.8 791.6L390.5 792.0L387.7 794.6L388.5 798.2L385.2 796.3L382.0 798.2L382.8 794.6L380.0 792.0L383.7 791.6ZM385.6 793.1L387.1 796.5L390.8 796.9L388.1 799.4L388.8 803.0L385.6 801.2L382.3 803.0L383.1 799.4L380.3 796.9L384.1 796.5ZM385.9 796.3L387.5 799.7L391.2 800.1L388.4 802.6L389.2 806.3L385.9 804.4L382.7 806.3L383.5 802.6L380.7 800.1L384.4 799.7ZM386.3 799.2L387.8 802.6L391.5 803.0L388.8 805.5L389.5 809.1L386.3 807.3L383.0 809.1L383.8 805.5L381.0 803.0L384.8 802.6ZM386.6 801.3L388.2 804.7L391.9 805.1L389.1 807.6L389.9 811.3L386.6 809.4L383.4 811.3L384.2 807.6L381.4 805.1L385.1 804.7ZM387.0 803.5L388.5 806.9L392.2 807.3L389.5 809.8L390.2 813.5L387.0 811.6L383.7 813.5L384.5 809.8L381.7 807.3L385.5 806.9ZM387.3 806.2L388.9 809.6L392.6 810.0L389.8 812.5L390.6 816.2L387.3 814.3L384.1 816.2L384.9 812.5L382.1 810.0L385.8 809.6ZM387.7 808.9L389.2 812.3L392.9 812.7L390.2 815.2L390.9 818.9L387.7 817.0L384.4 818.9L385.2 815.2L382.4 812.7L386.2 812.3ZM388.0 810.5L389.6 813.9L393.3 814.3L390.5 816.8L391.3 820.4L388.0 818.6L384.8 820.4L385.6 816.8L382.8 814.3L386.5 813.9ZM388.4 811.5L389.9 814.9L393.6 815.3L390.9 817.8L391.6 821.4L388.4 819.6L385.1 821.4L385.9 817.8L383.2 815.3L386.9 814.9ZM388.7 812.5L390.3 815.9L394.0 816.3L391.2 818.8L392.0 822.4L388.7 820.6L385.5 822.4L386.3 818.8L383.5 816.3L387.2 815.9ZM389.1 813.5L390.6 816.9L394.3 817.3L391.6 819.8L392.3 823.4L389.1 821.6L385.8 823.4L386.6 819.8L383.9 817.3L387.6 816.9ZM389.4 814.1L391.0 817.5L394.7 817.9L391.9 820.4L392.7 824.1L389.4 822.2L386.2 824.1L387.0 820.4L384.2 817.9L387.9 817.5ZM389.8 814.7L391.3 818.1L395.0 818.5L392.3 821.0L393.0 824.7L389.8 822.8L386.5 824.7L387.3 821.0L384.6 818.5L388.3 818.1ZM390.1 815.3L391.7 818.7L395.4 819.1L392.6 821.6L393.4 825.3L390.1 823.4L386.9 825.3L387.7 821.6L384.9 819.1L388.6 818.7ZM390.5 815.9L392.0 819.3L395.7 819.7L393.0 822.2L393.7 825.9L390.5 824.0L387.3 825.9L388.0 822.2L385.3 819.7L389.0 819.3ZM390.8 816.2L392.4 819.6L396.1 820.0L393.3 822.5L394.1 826.2L390.8 824.3L387.6 826.2L388.4 822.5L385.6 820.0L389.3 819.6ZM391.2 816.5L392.7 819.9L396.4 820.3L393.7 822.8L394.4 826.4L391.2 824.6L388.0 826.4L388.7 822.8L386.0 820.3L389.7 819.9ZM391.5 816.7L393.1 820.1L396.8 820.5L394.0 823.0L394.8 826.6L391.5 824.8L388.3 826.6L389.1 823.0L386.3 820.5L390.0 820.1ZM391.9 816.9L393.4 820.3L397.1 820.7L394.4 823.2L395.1 826.9L391.9 825.0L388.7 826.9L389.4 823.2L386.7 820.7L390.4 820.3ZM392.2 817.1L393.8 820.5L397.5 820.9L394.7 823.4L395.5 827.1L392.2 825.2L389.0 827.1L389.8 823.4L387.0 820.9L390.7 820.5ZM392.6 817.4L394.1 820.8L397.8 821.2L395.1 823.7L395.8 827.3L392.6 825.5L389.4 827.3L390.1 823.7L387.4 821.2L391.1 820.8ZM392.9 817.6L394.5 821.0L398.2 821.4L395.4 823.9L396.2 827.6L392.9 825.7L389.7 827.6L390.5 823.9L387.7 821.4L391.4 821.0ZM393.1 799.8L394.6 803.2L398.3 803.6L395.5 806.1L396.3 809.8L393.1 807.9L389.8 809.8L390.6 806.1L387.8 803.6L391.5 803.2ZM393.4 754.4L394.9 757.8L398.6 758.2L395.9 760.7L396.6 764.4L393.4 762.5L390.2 764.4L390.9 760.7L388.2 758.2L391.9 757.8ZM393.8 728.0L395.3 731.4L399.0 731.8L396.2 734.3L397.0 738.0L393.8 736.1L390.5 738.0L391.3 734.3L388.5 731.8L392.2 731.4ZM394.1 711.8L395.6 715.2L399.3 715.6L396.6 718.1L397.3 721.7L394.1 719.9L390.9 721.7L391.6 718.1L388.9 715.6L392.6 715.2ZM394.5 698.7L396.0 702.1L399.7 702.5L396.9 705.0L397.7 708.7L394.5 706.8L391.2 708.7L392.0 705.0L389.2 702.5L392.9 702.1ZM394.8 687.8L396.3 691.2L400.0 691.6L397.3 694.1L398.0 697.7L394.8 695.9L391.6 697.7L392.3 694.1L389.6 691.6L393.3 691.2ZM395.2 677.9L396.7 681.3L400.4 681.7L397.6 684.2L398.4 687.9L395.2 686.0L391.9 687.9L392.7 684.2L389.9 681.7L393.6 681.3ZM395.5 671.2L397.0 674.6L400.7 675.0L398.0 677.5L398.7 681.1L395.5 679.3L392.3 681.1L393.0 677.5L390.3 675.0L394.0 674.6ZM395.9 665.0L397.4 668.4L401.1 668.8L398.3 671.3L399.1 675.0L395.9 673.1L392.6 675.0L393.4 671.3L390.6 668.8L394.3 668.4ZM396.2 661.3L397.7 664.7L401.4 665.1L398.7 667.6L399.4 671.2L396.2 669.4L393.0 671.2L393.7 667.6L391.0 665.1L394.7 664.7ZM396.6 659.3L398.1 662.7L401.8 663.1L399.0 665.6L399.8 669.2L396.6 667.4L393.3 669.2L394.1 665.6L391.3 663.1L395.0 662.7ZM396.9 657.3L398.4 660.7L402.1 661.1L399.4 663.6L400.1 667.3L396.9 665.4L393.7 667.3L394.4 663.6L391.7 661.1L395.4 660.7ZM397.3 654.5L398.8 657.9L402.5 658.3L399.7 660.8L400.5 664.4L397.3 662.6L394.0 664.4L394.8 660.8L392.0 658.3L395.7 657.9ZM397.6 651.1L399.1 654.5L402.8 654.9L400.1 657.4L400.8 661.1L397.6 659.2L394.4 661.1L395.1 657.4L392.4 654.9L396.1 654.5ZM398.0 648.2L399.5 651.6L403.2 652.0L400.4 654.5L401.2 658.2L398.0 656.3L394.7 658.2L395.5 654.5L392.7 652.0L396.4 651.6ZM398.3 645.5L399.8 648.9L403.5 649.3L400.8 651.8L401.5 655.5L398.3 653.6L395.1 655.5L395.8 651.8L393.1 649.3L396.8 648.9ZM398.7 643.0L400.2 646.4L403.9 646.8L401.1 649.3L401.9 653.0L398.7 651.1L395.4 653.0L396.2 649.3L393.4 646.8L397.1 646.4ZM399.0 640.6L400.5 644.0L404.2 644.4L401.5 646.9L402.2 650.6L399.0 648.7L395.8 650.6L396.5 646.9L393.8 644.4L397.5 644.0ZM399.4 638.4L400.9 641.8L404.6 642.2L401.8 644.7L402.6 648.4L399.4 646.5L396.1 648.4L396.9 644.7L394.1 642.2L397.8 641.8ZM399.7 639.2L401.2 642.5L404.9 643.0L402.2 645.5L402.9 649.1L399.7 647.3L396.5 649.1L397.2 645.5L394.5 643.0L398.2 642.5ZM400.1 637.7L401.6 641.1L405.3 641.5L402.5 644.0L403.3 647.7L400.1 645.8L396.8 647.7L397.6 644.0L394.8 641.5L398.5 641.1ZM400.4 635.4L401.9 638.8L405.6 639.2L402.9 641.7L403.6 645.3L400.4 643.5L397.2 645.3L397.9 641.7L395.2 639.2L398.9 638.8ZM400.8 633.8L402.3 637.2L406.0 637.6L403.2 640.1L404.0 643.8L400.8 641.9L397.5 643.8L398.3 640.1L395.5 637.6L399.2 637.2ZM401.1 633.8L402.6 637.2L406.3 637.6L403.6 640.1L404.3 643.8L401.1 641.9L397.9 643.8L398.6 640.1L395.9 637.6L399.6 637.2ZM401.5 633.8L403.0 637.2L406.7 637.6L403.9 640.1L404.7 643.8L401.5 641.9L398.2 643.8L399.0 640.1L396.2 637.6L399.9 637.2ZM401.8 632.5L403.3 635.9L407.0 636.3L404.3 638.8L405.0 642.4L401.8 640.6L398.6 642.4L399.3 638.8L396.6 636.3L400.3 635.9ZM402.2 630.0L403.7 633.4L407.4 633.8L404.6 636.3L405.4 640.0L402.2 638.1L398.9 640.0L399.7 636.3L396.9 633.8L400.6 633.4ZM402.5 629.0L404.0 632.4L407.7 632.8L405.0 635.3L405.7 638.9L402.5 637.1L399.3 638.9L400.0 635.3L397.3 632.8L401.0 632.4ZM402.9 628.6L404.4 632.0L408.1 632.4L405.3 634.9L406.1 638.5L402.9 636.7L399.6 638.5L400.4 634.9L397.6 632.4L401.3 632.0ZM403.2 628.8L404.7 632.2L408.4 632.6L405.7 635.1L406.4 638.8L403.2 636.9L400.0 638.8L400.7 635.1L398.0 632.6L401.7 632.2ZM403.6 630.3L405.1 633.7L408.8 634.1L406.0 636.6L406.8 640.3L403.6 638.4L400.3 640.3L401.1 636.6L398.3 634.1L402.0 633.7ZM403.9 631.7L405.4 635.1L409.1 635.6L406.4 638.1L407.1 641.7L403.9 639.8L400.7 641.7L401.4 638.1L398.7 635.6L402.4 635.1ZM404.3 630.3L405.8 633.7L409.5 634.1L406.7 636.6L407.5 640.2L404.3 638.4L401.0 640.2L401.8 636.6L399.0 634.1L402.7 633.7ZM404.6 629.9L406.1 633.3L409.8 633.7L407.1 636.2L407.8 639.9L404.6 638.0L401.4 639.9L402.1 636.2L399.4 633.7L403.1 633.3ZM405.0 629.8L406.5 633.2L410.2 633.6L407.4 636.1L408.2 639.7L405.0 637.9L401.7 639.7L402.5 636.1L399.7 633.6L403.4 633.2ZM405.3 629.6L406.8 633.0L410.5 633.4L407.8 635.9L408.5 639.6L405.3 637.7L402.1 639.6L402.8 635.9L400.1 633.4L403.8 633.0ZM405.7 630.4L407.2 633.8L410.9 634.2L408.1 636.7L408.9 640.4L405.7 638.5L402.4 640.4L403.2 636.7L400.4 634.2L404.1 633.8ZM406.0 631.9L407.5 635.3L411.2 635.7L408.5 638.2L409.2 641.9L406.0 640.0L402.8 641.9L403.5 638.2L400.8 635.7L404.5 635.3ZM406.4 632.7L407.9 636.1L411.6 636.5L408.8 639.0L409.6 642.6L406.4 640.8L403.1 642.6L403.9 639.0L401.1 636.5L404.8 636.1ZM406.7 631.0L408.2 634.4L411.9 634.8L409.2 637.4L409.9 641.0L406.7 639.1L403.5 641.0L404.2 637.4L401.5 634.8L405.2 634.4ZM407.1 630.7L408.6 634.1L412.3 634.5L409.5 637.0L410.3 640.7L407.1 638.8L403.8 640.7L404.6 637.0L401.8 634.5L405.5 634.1ZM407.4 630.6L408.9 634.0L412.6 634.4L409.9 636.9L410.6 640.6L407.4 638.7L404.2 640.6L404.9 636.9L402.2 634.4L405.9 634.0ZM407.8 630.5L409.3 633.9L413.0 634.3L410.2 636.8L411.0 640.5L407.8 638.6L404.5 640.5L405.3 636.8L402.5 634.3L406.2 633.9ZM408.1 630.4L409.6 633.8L413.3 634.2L410.6 636.7L411.3 640.3L408.1 638.5L404.9 640.3L405.6 636.7L402.9 634.2L406.6 633.8ZM408.5 630.5L410.0 633.9L413.7 634.3L410.9 636.8L411.7 640.4L408.5 638.6L405.2 640.4L406.0 636.8L403.2 634.3L406.9 633.9ZM408.8 631.4L410.3 634.8L414.0 635.2L411.3 637.7L412.0 641.4L408.8 639.5L405.6 641.4L406.3 637.7L403.6 635.2L407.3 634.8ZM409.2 631.3L410.7 634.7L414.4 635.1L411.6 637.6L412.4 641.3L409.2 639.4L405.9 641.3L406.7 637.6L403.9 635.1L407.6 634.7ZM409.5 630.5L411.0 633.9L414.7 634.3L412.0 636.8L412.7 640.4L409.5 638.6L406.3 640.4L407.0 636.8L404.3 634.3L408.0 633.9ZM409.9 630.3L411.4 633.7L415.1 634.1L412.3 636.6L413.1 640.2L409.9 638.4L406.6 640.2L407.4 636.6L404.6 634.1L408.3 633.7ZM410.2 630.7L411.7 634.1L415.4 634.5L412.7 637.0L413.5 640.6L410.2 638.8L407.0 640.6L407.7 637.0L405.0 634.5L408.7 634.1ZM410.6 631.1L412.1 634.5L415.8 634.9L413.0 637.4L413.8 641.0L410.6 639.2L407.3 641.0L408.1 637.4L405.3 634.9L409.0 634.5ZM410.9 631.5L412.4 634.9L416.1 635.3L413.4 637.8L414.2 641.5L410.9 639.6L407.7 641.5L408.4 637.8L405.7 635.3L409.4 634.9ZM411.3 631.6L412.8 635.0L416.5 635.4L413.7 637.9L414.5 641.5L411.3 639.7L408.0 641.5L408.8 637.9L406.0 635.4L409.7 635.0ZM411.6 631.7L413.1 635.1L416.8 635.5L414.1 638.0L414.9 641.7L411.6 639.8L408.4 641.7L409.1 638.0L406.4 635.5L410.1 635.1ZM412.0 665.1L413.5 668.5L417.2 668.9L414.4 671.4L415.2 675.1L412.0 673.2L408.7 675.1L409.5 671.4L406.7 668.9L410.4 668.5ZM412.3 697.3L413.8 700.7L417.5 701.1L414.8 703.6L415.6 707.2L412.3 705.4L409.1 707.2L409.8 703.6L407.1 701.1L410.8 700.7ZM412.7 728.6L414.2 732.0L417.9 732.4L415.1 734.9L415.9 738.6L412.7 736.7L409.4 738.6L410.2 734.9L407.4 732.4L411.1 732.0ZM413.0 749.0L414.5 752.3L418.3 752.8L415.5 755.3L416.3 758.9L413.0 757.1L409.8 758.9L410.5 755.3L407.8 752.8L411.5 752.3ZM413.4 762.5L414.9 765.9L418.6 766.3L415.8 768.8L416.6 772.4L413.4 770.6L410.1 772.4L410.9 768.8L408.1 766.3L411.8 765.9ZM413.7 774.4L415.2 777.8L419.0 778.2L416.2 780.7L417.0 784.3L413.7 782.5L410.5 784.3L411.2 780.7L408.5 778.2L412.2 777.8ZM414.1 782.5L415.6 785.9L419.3 786.3L416.5 788.8L417.3 792.5L414.1 790.6L410.8 792.5L411.6 788.8L408.8 786.3L412.5 785.9ZM414.4 790.6L415.9 794.0L419.7 794.4L416.9 796.9L417.7 800.6L414.4 798.7L411.2 800.6L411.9 796.9L409.2 794.4L412.9 794.0ZM414.8 794.0L416.3 797.4L420.0 797.8L417.2 800.3L418.0 804.0L414.8 802.1L411.5 804.0L412.3 800.3L409.5 797.8L413.2 797.4ZM415.1 797.3L416.6 800.7L420.4 801.1L417.6 803.6L418.4 807.2L415.1 805.4L411.9 807.2L412.6 803.6L409.9 801.1L413.6 800.7ZM415.5 799.8L417.0 803.2L420.7 803.6L417.9 806.1L418.7 809.8L415.5 807.9L412.2 809.8L413.0 806.1L410.2 803.6L413.9 803.2ZM415.8 802.0L417.4 805.4L421.1 805.8L418.3 808.3L419.1 811.9L415.8 810.1L412.6 811.9L413.3 808.3L410.6 805.8L414.3 805.4ZM416.2 804.3L417.7 807.7L421.4 808.1L418.6 810.6L419.4 814.3L416.2 812.4L412.9 814.3L413.7 810.6L410.9 808.1L414.6 807.7ZM416.5 807.0L418.1 810.4L421.8 810.8L419.0 813.3L419.8 817.0L416.5 815.1L413.3 817.0L414.0 813.3L411.3 810.8L415.0 810.4ZM416.9 809.7L418.4 813.1L422.1 813.5L419.3 816.0L420.1 819.7L416.9 817.8L413.6 819.7L414.4 816.0L411.6 813.5L415.3 813.1ZM417.2 810.8L418.8 814.1L422.5 814.6L419.7 817.1L420.5 820.7L417.2 818.9L414.0 820.7L414.8 817.1L412.0 814.6L415.7 814.1ZM417.6 811.8L419.1 815.2L422.8 815.6L420.0 818.1L420.8 821.7L417.6 819.9L414.3 821.7L415.1 818.1L412.3 815.6L416.0 815.2ZM417.9 812.8L419.5 816.2L423.2 816.6L420.4 819.1L421.2 822.7L417.9 820.9L414.7 822.7L415.5 819.1L412.7 816.6L416.4 816.2ZM418.3 813.7L419.8 817.1L423.5 817.5L420.7 820.0L421.5 823.6L418.3 821.8L415.0 823.6L415.8 820.0L413.0 817.5L416.7 817.1ZM418.6 814.3L420.2 817.7L423.9 818.1L421.1 820.6L421.9 824.2L418.6 822.4L415.4 824.2L416.2 820.6L413.4 818.1L417.1 817.7ZM419.0 814.9L420.5 818.3L424.2 818.7L421.4 821.2L422.2 824.8L419.0 823.0L415.7 824.8L416.5 821.2L413.7 818.7L417.4 818.3ZM419.3 815.5L420.9 818.9L424.6 819.3L421.8 821.8L422.6 825.4L419.3 823.6L416.1 825.4L416.9 821.8L414.1 819.3L417.8 818.9ZM419.7 816.1L421.2 819.5L424.9 819.9L422.1 822.4L422.9 826.0L419.7 824.2L416.4 826.0L417.2 822.4L414.4 819.9L418.1 819.5ZM420.0 816.3L421.6 819.7L425.3 820.1L422.5 822.6L423.3 826.2L420.0 824.4L416.8 826.2L417.6 822.6L414.8 820.1L418.5 819.7ZM420.4 816.5L421.9 819.9L425.6 820.3L422.8 822.8L423.6 826.5L420.4 824.6L417.1 826.5L417.9 822.8L415.1 820.3L418.8 819.9ZM420.7 816.8L422.3 820.1L426.0 820.6L423.2 823.1L424.0 826.7L420.7 824.9L417.5 826.7L418.3 823.1L415.5 820.6L419.2 820.1ZM421.1 817.0L422.6 820.4L426.3 820.8L423.5 823.3L424.3 826.9L421.1 825.1L417.8 826.9L418.6 823.3L415.8 820.8L419.5 820.4ZM421.4 817.2L423.0 820.6L426.7 821.0L423.9 823.5L424.7 827.2L421.4 825.3L418.2 827.2L419.0 823.5L416.2 821.0L419.9 820.6ZM421.8 817.4L423.3 820.8L427.0 821.2L424.2 823.7L425.0 827.4L421.8 825.5L418.5 827.4L419.3 823.7L416.5 821.2L420.2 820.8ZM422.0 818.3L423.6 821.7L427.3 822.1L424.5 824.7L425.3 828.3L422.0 826.4L418.8 828.3L419.6 824.7L416.8 822.1L420.5 821.7ZM422.4 764.4L423.9 767.8L427.6 768.2L424.9 770.7L425.6 774.3L422.4 772.5L419.2 774.3L419.9 770.7L417.2 768.2L420.9 767.8ZM422.7 733.0L424.3 736.4L428.0 736.8L425.2 739.3L426.0 743.0L422.7 741.1L419.5 743.0L420.3 739.3L417.5 736.8L421.2 736.4ZM423.1 716.8L424.6 720.2L428.3 720.6L425.6 723.1L426.3 726.7L423.1 724.9L419.9 726.7L420.6 723.1L417.9 720.6L421.6 720.2ZM423.4 702.7L425.0 706.1L428.7 706.5L425.9 709.0L426.7 712.7L423.4 710.8L420.2 712.7L421.0 709.0L418.2 706.5L421.9 706.1ZM423.8 691.0L425.3 694.4L429.0 694.8L426.3 697.3L427.0 700.9L423.8 699.1L420.6 700.9L421.3 697.3L418.6 694.8L422.3 694.4ZM424.1 680.5L425.7 683.9L429.4 684.3L426.6 686.8L427.4 690.4L424.1 688.6L420.9 690.4L421.7 686.8L418.9 684.3L422.6 683.9ZM424.5 673.2L426.0 676.6L429.7 677.0L427.0 679.6L427.7 683.2L424.5 681.3L421.3 683.2L422.0 679.6L419.3 677.0L423.0 676.6ZM424.8 666.5L426.4 669.9L430.1 670.3L427.3 672.8L428.1 676.5L424.8 674.6L421.6 676.5L422.4 672.8L419.6 670.3L423.3 669.9ZM425.2 661.9L426.7 665.3L430.4 665.7L427.7 668.2L428.4 671.8L425.2 670.0L422.0 671.8L422.7 668.2L420.0 665.7L423.7 665.3ZM425.5 659.9L427.1 663.3L430.8 663.7L428.0 666.2L428.8 669.9L425.5 668.0L422.3 669.9L423.1 666.2L420.3 663.7L424.0 663.3ZM425.9 657.9L427.4 661.3L431.1 661.7L428.4 664.2L429.1 667.9L425.9 666.0L422.7 667.9L423.4 664.2L420.7 661.7L424.4 661.3ZM426.2 655.5L427.8 658.9L431.5 659.3L428.7 661.8L429.5 665.5L426.2 663.6L423.0 665.5L423.8 661.8L421.0 659.3L424.7 658.9ZM426.6 652.1L428.1 655.5L431.8 655.9L429.1 658.4L429.8 662.1L426.6 660.2L423.4 662.1L424.1 658.4L421.4 655.9L425.1 655.5ZM426.9 649.0L428.5 652.4L432.2 652.9L429.4 655.4L430.2 659.0L426.9 657.1L423.7 659.0L424.5 655.4L421.7 652.9L425.4 652.4ZM427.3 646.3L428.8 649.7L432.5 650.1L429.8 652.6L430.5 656.3L427.3 654.4L424.1 656.3L424.8 652.6L422.1 650.1L425.8 649.7ZM427.6 643.8L429.2 647.2L432.9 647.6L430.1 650.1L430.9 653.7L427.6 651.9L424.4 653.7L425.2 650.1L422.4 647.6L426.1 647.2ZM428.0 641.4L429.5 644.8L433.2 645.2L430.5 647.7L431.2 651.3L428.0 649.5L424.8 651.3L425.5 647.7L422.8 645.2L426.5 644.8ZM428.3 638.9L429.9 642.3L433.6 642.7L430.8 645.2L431.6 648.9L428.3 647.0L425.1 648.9L425.9 645.2L423.1 642.7L426.8 642.3ZM428.7 638.9L430.2 642.3L433.9 642.7L431.2 645.2L431.9 648.9L428.7 647.0L425.5 648.9L426.2 645.2L423.5 642.7L427.2 642.3ZM429.0 638.5L430.6 641.9L434.3 642.3L431.5 644.8L432.3 648.4L429.0 646.6L425.8 648.4L426.6 644.8L423.8 642.3L427.5 641.9ZM429.4 636.1L430.9 639.5L434.6 639.9L431.9 642.4L432.6 646.0L429.4 644.2L426.2 646.0L426.9 642.4L424.2 639.9L427.9 639.5ZM429.7 633.8L431.3 637.2L435.0 637.6L432.2 640.1L433.0 643.8L429.7 641.9L426.5 643.8L427.3 640.1L424.5 637.6L428.2 637.2ZM430.1 633.8L431.6 637.2L435.3 637.6L432.6 640.1L433.3 643.8L430.1 641.9L426.9 643.8L427.6 640.1L424.9 637.6L428.6 637.2ZM430.4 633.8L432.0 637.2L435.7 637.6L432.9 640.1L433.7 643.8L430.4 641.9L427.2 643.8L428.0 640.1L425.2 637.6L428.9 637.2ZM430.8 633.2L432.3 636.6L436.0 637.0L433.3 639.5L434.0 643.2L430.8 641.3L427.6 643.2L428.3 639.5L425.6 637.0L429.3 636.6ZM431.1 630.8L432.7 634.2L436.4 634.6L433.6 637.1L434.4 640.7L431.1 638.9L427.9 640.7L428.7 637.1L425.9 634.6L429.6 634.2ZM431.5 629.1L433.0 632.5L436.7 632.9L434.0 635.4L434.7 639.1L431.5 637.2L428.3 639.1L429.0 635.4L426.3 632.9L430.0 632.5ZM431.8 628.7L433.4 632.1L437.1 632.5L434.3 635.0L435.1 638.6L431.8 636.8L428.6 638.6L429.4 635.0L426.6 632.5L430.3 632.1ZM432.2 628.4L433.7 631.8L437.4 632.2L434.7 634.7L435.4 638.3L432.2 636.5L429.0 638.3L429.7 634.7L427.0 632.2L430.7 631.8ZM432.5 629.8L434.1 633.2L437.8 633.6L435.0 636.2L435.8 639.8L432.5 637.9L429.3 639.8L430.1 636.2L427.3 633.6L431.0 633.2ZM432.9 631.4L434.4 634.8L438.1 635.2L435.4 637.7L436.1 641.4L432.9 639.5L429.7 641.4L430.4 637.7L427.7 635.2L431.4 634.8ZM433.2 630.7L434.8 634.1L438.5 634.5L435.7 637.0L436.5 640.7L433.2 638.8L430.0 640.7L430.8 637.0L428.0 634.5L431.7 634.1ZM433.6 630.0L435.1 633.4L438.8 633.8L436.1 636.3L436.8 639.9L433.6 638.1L430.4 639.9L431.1 636.3L428.4 633.8L432.1 633.4ZM433.9 629.8L435.5 633.2L439.2 633.6L436.4 636.1L437.2 639.8L433.9 637.9L430.7 639.8L431.5 636.1L428.7 633.6L432.4 633.2ZM434.3 629.7L435.8 633.1L439.5 633.5L436.8 636.0L437.5 639.6L434.3 637.8L431.1 639.6L431.8 636.0L429.1 633.5L432.8 633.1ZM434.6 630.0L436.2 633.4L439.9 633.8L437.1 636.3L437.9 639.9L434.6 638.1L431.4 639.9L432.2 636.3L429.4 633.8L433.1 633.4ZM435.0 631.5L436.5 634.9L440.2 635.3L437.5 637.8L438.2 641.4L435.0 639.6L431.8 641.4L432.5 637.8L429.8 635.3L433.5 634.9ZM435.3 633.0L436.9 636.4L440.6 636.8L437.8 639.3L438.6 642.9L435.3 641.1L432.1 642.9L432.9 639.3L430.1 636.8L433.8 636.4ZM435.7 631.5L437.2 634.9L440.9 635.3L438.2 637.8L438.9 641.5L435.7 639.6L432.5 641.5L433.2 637.8L430.5 635.3L434.2 634.9ZM436.0 630.8L437.6 634.1L441.3 634.6L438.5 637.1L439.3 640.7L436.0 638.9L432.8 640.7L433.6 637.1L430.8 634.6L434.5 634.1ZM436.4 630.6L437.9 634.0L441.6 634.4L438.9 636.9L439.6 640.6L436.4 638.7L433.2 640.6L433.9 636.9L431.2 634.4L434.9 634.0ZM436.7 630.5L438.3 633.9L442.0 634.3L439.2 636.8L440.0 640.5L436.7 638.6L433.5 640.5L434.3 636.8L431.5 634.3L435.2 633.9ZM437.1 630.4L438.6 633.8L442.3 634.2L439.6 636.7L440.3 640.4L437.1 638.5L433.9 640.4L434.6 636.7L431.9 634.2L435.6 633.8ZM437.4 630.3L439.0 633.7L442.7 634.1L439.9 636.6L440.7 640.3L437.4 638.4L434.2 640.3L435.0 636.6L432.2 634.1L435.9 633.7ZM437.8 631.1L439.3 634.5L443.0 634.9L440.3 637.4L441.0 641.1L437.8 639.2L434.6 641.1L435.3 637.4L432.6 634.9L436.3 634.5ZM438.1 631.6L439.7 635.0L443.4 635.4L440.6 637.9L441.4 641.5L438.1 639.7L434.9 641.5L435.7 637.9L432.9 635.4L436.6 635.0ZM438.5 630.8L440.0 634.2L443.7 634.6L441.0 637.1L441.7 640.7L438.5 638.9L435.3 640.7L436.0 637.1L433.3 634.6L437.0 634.2ZM438.8 630.1L440.4 633.5L444.1 633.9L441.3 636.4L442.1 640.1L438.8 638.2L435.6 640.1L436.4 636.4L433.6 633.9L437.3 633.5ZM439.2 630.5L440.7 633.9L444.4 634.3L441.7 636.8L442.4 640.5L439.2 638.6L436.0 640.5L436.7 636.8L434.0 634.3L437.7 633.9ZM439.5 631.0L441.1 634.4L444.8 634.8L442.0 637.3L442.8 640.9L439.5 639.1L436.3 640.9L437.1 637.3L434.3 634.8L438.0 634.4ZM439.9 631.4L441.4 634.8L445.1 635.2L442.4 637.7L443.1 641.3L439.9 639.5L436.7 641.3L437.4 637.7L434.7 635.2L438.4 634.8ZM440.3 631.8L441.8 635.2L445.5 635.6L442.7 638.1L443.5 641.8L440.3 639.9L437.0 641.8L437.8 638.1L435.0 635.6L438.7 635.2ZM440.6 631.0L442.1 634.4L445.8 634.8L443.1 637.3L443.8 641.0L440.6 639.1L437.4 641.0L438.1 637.3L435.4 634.8L439.1 634.4ZM441.0 654.9L442.5 658.3L446.2 658.7L443.4 661.2L444.2 664.8L441.0 663.0L437.7 664.8L438.5 661.2L435.7 658.7L439.4 658.3ZM441.3 687.4L442.8 690.8L446.5 691.2L443.8 693.7L444.5 697.3L441.3 695.5L438.1 697.3L438.8 693.7L436.1 691.2L439.8 690.8ZM441.7 722.0L443.2 725.4L446.9 725.8L444.1 728.3L444.9 731.9L441.7 730.1L438.4 731.9L439.2 728.3L436.4 725.8L440.1 725.4ZM442.0 743.6L443.5 747.0L447.2 747.4L444.5 749.9L445.2 753.6L442.0 751.7L438.8 753.6L439.5 749.9L436.8 747.4L440.5 747.0ZM442.4 758.3L443.9 761.7L447.6 762.1L444.8 764.6L445.6 768.3L442.4 766.4L439.1 768.3L439.9 764.6L437.1 762.1L440.8 761.7ZM442.7 771.9L444.2 775.3L447.9 775.7L445.2 778.2L445.9 781.8L442.7 780.0L439.5 781.8L440.2 778.2L437.5 775.7L441.2 775.3ZM443.1 780.0L444.6 783.4L448.3 783.8L445.5 786.3L446.3 790.0L443.1 788.1L439.8 790.0L440.6 786.3L437.8 783.8L441.5 783.4ZM443.4 788.1L444.9 791.5L448.6 791.9L445.9 794.4L446.6 798.1L443.4 796.2L440.2 798.1L440.9 794.4L438.2 791.9L441.9 791.5ZM443.8 793.0L445.3 796.4L449.0 796.8L446.2 799.3L447.0 803.0L443.8 801.1L440.5 803.0L441.3 799.3L438.5 796.8L442.2 796.4ZM444.1 796.3L445.6 799.7L449.3 800.1L446.6 802.6L447.3 806.2L444.1 804.4L440.9 806.2L441.6 802.6L438.9 800.1L442.6 799.7ZM444.5 799.1L446.0 802.5L449.7 802.9L446.9 805.4L447.7 809.1L444.5 807.2L441.2 809.1L442.0 805.4L439.2 802.9L442.9 802.5ZM444.8 801.3L446.3 804.7L450.0 805.1L447.3 807.6L448.0 811.3L444.8 809.4L441.6 811.3L442.3 807.6L439.6 805.1L443.3 804.7ZM445.2 803.5L446.7 806.9L450.4 807.3L447.6 809.8L448.4 813.4L445.2 811.6L441.9 813.4L442.7 809.8L439.9 807.3L443.6 806.9ZM445.5 806.2L447.0 809.6L450.7 810.0L448.0 812.5L448.7 816.1L445.5 814.3L442.3 816.1L443.0 812.5L440.3 810.0L444.0 809.6ZM445.9 808.9L447.4 812.3L451.1 812.7L448.3 815.2L449.1 818.8L445.9 817.0L442.6 818.8L443.4 815.2L440.6 812.7L444.3 812.3ZM446.2 810.4L447.7 813.8L451.4 814.2L448.7 816.7L449.4 820.4L446.2 818.5L443.0 820.4L443.7 816.7L441.0 814.2L444.7 813.8ZM446.6 811.5L448.1 814.9L451.8 815.3L449.0 817.8L449.8 821.4L446.6 819.6L443.3 821.4L444.1 817.8L441.3 815.3L445.0 814.9ZM446.9 812.5L448.4 815.9L452.1 816.3L449.4 818.8L450.1 822.4L446.9 820.6L443.7 822.4L444.4 818.8L441.7 816.3L445.4 815.9ZM447.3 813.5L448.8 816.9L452.5 817.3L449.7 819.8L450.5 823.4L447.3 821.6L444.0 823.4L444.8 819.8L442.0 817.3L445.7 816.9ZM447.6 814.1L449.1 817.5L452.8 817.9L450.1 820.4L450.8 824.1L447.6 822.2L444.4 824.1L445.1 820.4L442.4 817.9L446.1 817.5Z" fill="#00ff00"/>
<path d="M450.13 825.33 L450.48 741.66 L450.83 707.94 L451.18 668.78 L451.53 640.42 L451.88 618.77 L452.23 605.62 L452.58 594.79 L452.93 585.22 L453.28 575.91 L453.63 569.14 L453.98 563.73 L454.33 563.73 L454.68 559.92 L455.03 555.19 L455.38 552.36 L455.73 550.66 L456.08 549.79 L456.43 548.91 L456.78 547.96 L457.13 548.65 L457.48 551.36 L457.83 549.91 L458.18 548.35 L458.53 545.64 L458.88 543.68 L459.23 544.15 L459.58 544.62 L459.93 545.10 L460.28 544.95 L460.63 544.20 L460.98 543.11 L461.34 541.96 L461.69 540.81 L462.04 539.87 L462.39 540.29 L462.74 538.88 L463.09 537.48 L463.44 539.18 L463.79 541.43 L464.14 543.68 L464.49 543.24 L464.84 542.23 L465.19 541.22 L465.54 540.66 L465.89 541.02 L466.24 539.69 L466.59 538.25 L466.94 540.53 L467.29 543.50 L467.64 543.45 L467.99 543.33 L468.34 543.22 L468.69 543.10 L469.04 574.80 L469.39 620.37 L469.74 684.49 L470.09 720.39 L470.44 741.04 L470.79 757.55 L471.14 769.73 L471.49 779.58 L471.84 787.70 L472.19 794.49 L472.54 797.20 L472.89 799.90 L473.24 802.47 L473.60 804.88 L473.95 807.29 L474.30 809.69 L474.65 811.87 L475.00 813.42 L475.35 814.97 L475.70 816.51 L476.05 817.28 L476.40 818.06 L476.75 818.83 L477.10 819.39 L477.45 819.88 L477.80 820.36 L478.15 820.85 L478.50 821.34 L478.85 821.82 L479.20 822.31 L479.55 822.80 L479.90 823.28 L480.25 823.77 L480.46 801.67 L480.81 731.24 L481.16 697.98 L481.51 657.27 L481.86 634.30 L482.21 613.39 L482.56 602.56 L482.91 592.01 L483.26 582.54 L483.61 574.00 L483.96 567.23 L484.31 563.73 L484.66 563.32 L485.01 558.58 L485.36 554.30 L485.71 551.59 L486.06 550.41 L486.41 549.54 L486.76 548.64 L487.11 547.69 L487.46 549.69 L487.81 550.95 L488.16 549.50 L488.51 547.58 L488.86 544.88 L489.21 543.81 L489.56 544.28 L489.91 544.76 L490.26 545.23 L490.61 544.73 L490.97 543.94 L491.32 542.79 L491.67 541.64 L492.02 540.49 L492.37 540.10 L492.72 539.89 L493.07 538.49 L493.42 537.56 L493.77 539.81 L494.12 542.06 L494.47 543.96 L494.82 542.95 L495.17 541.94 L495.52 540.93 L495.87 540.76 L496.22 540.73 L496.57 539.29 L496.92 538.39 L497.27 541.37 L497.62 543.54 L497.97 543.42 L498.32 543.30 L498.67 543.18 L499.02 543.06 L499.37 587.69 L499.72 633.26 L500.07 702.72 L500.42 726.80 L500.77 746.65 L501.12 760.99 L501.47 773.17 L501.82 781.88 L502.17 790.00 L502.52 795.26 L502.87 797.96 L503.23 800.67 L503.58 803.15 L503.93 805.56 L504.28 807.97 L504.63 810.37 L504.98 812.31 L505.33 813.86 L505.68 815.40 L506.03 816.73 L506.38 817.50 L506.73 818.28 L507.08 819.04 L507.43 819.53 L507.78 820.01 L508.13 820.50 L508.48 820.99 L508.83 821.47 L509.18 821.96 L509.53 822.45 L509.88 822.93 L510.23 823.42 L510.58 823.79 L510.60 821.52 L510.96 738.95 L511.31 706.46 L511.66 666.93 L512.01 639.43 L512.36 617.78 L512.71 605.13 L513.06 594.30 L513.41 584.79 L513.76 575.60 L514.11 568.84 L514.46 563.73 L514.81 563.73 L515.16 559.71 L515.51 554.97 L515.86 552.24 L516.21 550.62 L516.56 549.75 L516.91 548.86 L517.26 547.91 L517.61 548.82 L517.96 551.29 L518.31 549.85 L518.66 548.22 L519.01 545.52 L519.36 543.70 L519.71 544.17 L520.06 544.65 L520.41 545.12 L520.76 544.91 L521.11 544.16 L521.46 543.06 L521.81 541.91 L522.16 540.76 L522.51 539.91 L522.86 540.23 L523.22 538.82 L523.57 537.41 L523.92 539.28 L524.27 541.53 L524.62 543.78 L524.97 543.19 L525.32 542.18 L525.67 541.17 L526.02 540.68 L526.37 541.04 L526.72 539.63 L527.07 538.18 L527.42 540.66 L527.77 543.56 L528.12 543.45 L528.47 543.33 L528.82 543.21 L529.17 543.09 L529.52 576.87 L529.87 622.45 L530.22 687.78 L530.57 721.51 L530.92 741.94 L531.27 758.10 L531.62 770.28 L531.97 779.95 L532.32 788.07 L532.67 794.61 L533.02 797.32 L533.37 800.03 L533.72 802.58 L534.07 804.99 L534.42 807.40 L534.77 809.80 L535.13 811.94 L535.48 813.49 L535.83 815.04 L536.18 816.55 L536.53 817.32 L536.88 818.09 L537.23 818.87 L537.58 819.41 L537.93 819.90 L538.28 820.39 L538.63 820.87 L538.98 821.36 L539.33 821.85 L539.68 822.33 L540.03 822.82 L540.38 823.31 L540.73 823.79 L540.84 820.38 L541.19 738.50 L541.54 706.02 L541.89 666.37 L542.24 639.14 L542.59 617.49 L542.94 604.98 L543.29 594.15 L543.64 584.66 L543.99 575.51 L544.34 568.74 L544.69 563.73 L545.04 563.73 L545.39 559.64 L545.75 554.91 L546.10 552.20 L546.45 550.60 L546.80 549.74 L547.15 548.85 L547.50 547.90 L547.85 548.87 L548.20 551.27 L548.55 549.83 L548.90 548.19 L549.25 545.48 L549.60 543.70 L549.95 544.18 L550.30 544.65 L550.65 545.13 L551.00 544.90 L551.35 544.15 L551.70 543.04 L552.05 541.89 L552.40 540.74 L552.75 539.92 L553.10 540.21 L553.45 538.80 L553.80 537.39 L554.15 539.31 L554.50 541.56 L554.85 543.81 L555.20 543.18 L555.55 542.17 L555.90 541.16 L556.25 540.68 L556.60 541.04 L556.95 539.61 L557.30 538.17 L557.66 540.70 L558.01 543.56 L558.36 543.44 L558.71 543.33 L559.06 543.21 L559.41 543.09 L559.76 577.49 L560.11 623.07 L560.46 688.76 L560.81 721.85 L561.16 742.22 L561.51 758.27 L561.86 770.45 L562.21 780.06 L562.56 788.18 L562.91 794.65 L563.26 797.36 L563.61 800.06 L563.96 802.62 L564.31 805.02 L564.66 807.43 L565.01 809.84 L565.36 811.96 L565.71 813.51 L566.06 815.06 L566.41 816.56 L566.76 817.33 L567.11 818.10 L567.46 818.88 L567.81 819.42 L568.16 819.91 L568.51 820.39 L568.86 820.88 L569.21 821.37 L569.56 821.85" fill="none" stroke="#a2a2ff" stroke-width="1.8" stroke-linejoin="round" stroke-linecap="round" />
<path d="M450.1 819.4L455.7 825.3L450.1 831.2L444.5 825.3ZM450.5 735.8L456.1 741.7L450.5 747.6L444.9 741.7ZM450.8 702.0L456.4 707.9L450.8 713.8L445.2 707.9ZM451.2 662.9L456.8 668.8L451.2 674.7L445.6 668.8ZM451.5 634.5L457.1 640.4L451.5 646.3L445.9 640.4ZM451.9 612.9L457.5 618.8L451.9 624.7L446.3 618.8ZM452.2 599.7L457.8 605.6L452.2 611.5L446.6 605.6ZM452.6 588.9L458.2 594.8L452.6 600.7L447.0 594.8ZM452.9 579.3L458.5 585.2L452.9 591.1L447.3 585.2ZM453.3 570.0L458.9 575.9L453.3 581.8L447.7 575.9ZM453.6 563.2L459.2 569.1L453.6 575.0L448.0 569.1ZM454.0 557.8L459.6 563.7L454.0 569.6L448.4 563.7ZM454.3 557.8L459.9 563.7L454.3 569.6L448.7 563.7ZM454.7 554.0L460.3 559.9L454.7 565.8L449.1 559.9ZM455.0 549.3L460.6 555.2L455.0 561.1L449.4 555.2ZM455.4 546.5L461.0 552.4L455.4 558.3L449.8 552.4ZM455.7 544.8L461.3 550.7L455.7 556.6L450.1 550.7ZM456.1 543.9L461.7 549.8L456.1 555.7L450.5 549.8ZM456.4 543.0L462.0 548.9L456.4 554.8L450.8 548.9ZM456.8 542.1L462.4 548.0L456.8 553.9L451.2 548.0ZM457.1 542.8L462.7 548.7L457.1 554.6L451.5 548.7ZM457.5 545.5L463.1 551.4L457.5 557.3L451.9 551.4ZM457.8 544.0L463.4 549.9L457.8 555.8L452.2 549.9ZM458.2 542.4L463.8 548.3L458.2 554.2L452.6 548.3ZM458.5 539.7L464.1 545.6L458.5 551.5L452.9 545.6ZM458.9 537.8L464.5 543.7L458.9 549.6L453.3 543.7ZM459.2 538.3L464.8 544.2L459.2 550.1L453.6 544.2ZM459.6 538.7L465.2 544.6L459.6 550.5L454.0 544.6ZM459.9 539.2L465.5 545.1L459.9 551.0L454.3 545.1ZM460.3 539.0L465.9 544.9L460.3 550.8L454.7 544.9ZM460.6 538.3L466.2 544.2L460.6 550.1L455.0 544.2ZM461.0 537.2L466.6 543.1L461.0 549.0L455.4 543.1ZM461.3 536.1L466.9 542.0L461.3 547.9L455.7 542.0ZM461.7 534.9L467.3 540.8L461.7 546.7L456.1 540.8ZM462.0 534.0L467.6 539.9L462.0 545.8L456.4 539.9ZM462.4 534.4L468.0 540.3L462.4 546.2L456.8 540.3ZM462.7 533.0L468.3 538.9L462.7 544.8L457.1 538.9ZM463.1 531.6L468.7 537.5L463.1 543.4L457.5 537.5ZM463.4 533.3L469.0 539.2L463.4 545.1L457.8 539.2ZM463.8 535.5L469.4 541.4L463.8 547.3L458.2 541.4ZM464.1 537.8L469.7 543.7L464.1 549.6L458.5 543.7ZM464.5 537.3L470.1 543.2L464.5 549.1L458.9 543.2ZM464.8 536.3L470.4 542.2L464.8 548.1L459.2 542.2ZM465.2 535.3L470.8 541.2L465.2 547.1L459.6 541.2ZM465.5 534.8L471.1 540.7L465.5 546.6L459.9 540.7ZM465.9 535.1L471.5 541.0L465.9 546.9L460.3 541.0ZM466.2 533.8L471.8 539.7L466.2 545.6L460.6 539.7ZM466.6 532.4L472.2 538.3L466.6 544.2L461.0 538.3ZM466.9 534.6L472.5 540.5L466.9 546.4L461.3 540.5ZM467.3 537.6L472.9 543.5L467.3 549.4L461.7 543.5ZM467.6 537.6L473.2 543.5L467.6 549.4L462.0 543.5ZM468.0 537.4L473.6 543.3L468.0 549.2L462.4 543.3ZM468.3 537.3L473.9 543.2L468.3 549.1L462.7 543.2ZM468.7 537.2L474.3 543.1L468.7 549.0L463.1 543.1ZM469.0 568.9L474.6 574.8L469.0 580.7L463.4 574.8ZM469.4 614.5L475.0 620.4L469.4 626.3L463.8 620.4ZM469.7 678.6L475.3 684.5L469.7 690.4L464.1 684.5ZM470.1 714.5L475.7 720.4L470.1 726.3L464.5 720.4ZM470.4 735.1L476.0 741.0L470.4 746.9L464.8 741.0ZM470.8 751.6L476.4 757.5L470.8 763.4L465.2 757.5ZM471.1 763.8L476.7 769.7L471.1 775.6L465.5 769.7ZM471.5 773.7L477.1 779.6L471.5 785.5L465.9 779.6ZM471.8 781.8L477.4 787.7L471.8 793.6L466.2 787.7ZM472.2 788.6L477.8 794.5L472.2 800.4L466.6 794.5ZM472.5 791.3L478.1 797.2L472.5 803.1L466.9 797.2ZM472.9 794.0L478.5 799.9L472.9 805.8L467.3 799.9ZM473.2 796.6L478.8 802.5L473.2 808.4L467.6 802.5ZM473.6 799.0L479.2 804.9L473.6 810.8L468.0 804.9ZM473.9 801.4L479.6 807.3L473.9 813.2L468.3 807.3ZM474.3 803.8L479.9 809.7L474.3 815.6L468.7 809.7ZM474.6 806.0L480.3 811.9L474.6 817.8L469.0 811.9ZM475.0 807.5L480.6 813.4L475.0 819.3L469.4 813.4ZM475.3 809.1L481.0 815.0L475.3 820.9L469.7 815.0ZM475.7 810.6L481.3 816.5L475.7 822.4L470.1 816.5ZM476.0 811.4L481.7 817.3L476.0 823.2L470.4 817.3ZM476.4 812.2L482.0 818.1L476.4 824.0L470.8 818.1ZM476.7 812.9L482.4 818.8L476.7 824.7L471.1 818.8ZM477.1 813.5L482.7 819.4L477.1 825.3L471.5 819.4ZM477.4 814.0L483.1 819.9L477.4 825.8L471.8 819.9ZM477.8 814.5L483.4 820.4L477.8 826.3L472.2 820.4ZM478.1 815.0L483.8 820.9L478.1 826.8L472.5 820.9ZM478.5 815.4L484.1 821.3L478.5 827.2L472.9 821.3ZM478.8 815.9L484.5 821.8L478.8 827.7L473.2 821.8ZM479.2 816.4L484.8 822.3L479.2 828.2L473.6 822.3ZM479.6 816.9L485.2 822.8L479.6 828.7L473.9 822.8ZM479.9 817.4L485.5 823.3L479.9 829.2L474.3 823.3ZM480.3 817.9L485.9 823.8L480.3 829.7L474.6 823.8ZM480.5 795.8L486.1 801.7L480.5 807.6L474.9 801.7ZM480.8 725.3L486.4 731.2L480.8 737.1L475.2 731.2ZM481.2 692.1L486.8 698.0L481.2 703.9L475.6 698.0ZM481.5 651.4L487.1 657.3L481.5 663.2L475.9 657.3ZM481.9 628.4L487.5 634.3L481.9 640.2L476.3 634.3ZM482.2 607.5L487.8 613.4L482.2 619.3L476.6 613.4ZM482.6 596.7L488.2 602.6L482.6 608.5L477.0 602.6ZM482.9 586.1L488.5 592.0L482.9 597.9L477.3 592.0ZM483.3 576.6L488.9 582.5L483.3 588.4L477.7 582.5ZM483.6 568.1L489.2 574.0L483.6 579.9L478.0 574.0ZM484.0 561.3L489.6 567.2L484.0 573.1L478.4 567.2ZM484.3 557.8L489.9 563.7L484.3 569.6L478.7 563.7ZM484.7 557.4L490.3 563.3L484.7 569.2L479.1 563.3ZM485.0 552.7L490.6 558.6L485.0 564.5L479.4 558.6ZM485.4 548.4L491.0 554.3L485.4 560.2L479.8 554.3ZM485.7 545.7L491.3 551.6L485.7 557.5L480.1 551.6ZM486.1 544.5L491.7 550.4L486.1 556.3L480.5 550.4ZM486.4 543.6L492.0 549.5L486.4 555.4L480.8 549.5ZM486.8 542.7L492.4 548.6L486.8 554.5L481.2 548.6ZM487.1 541.8L492.7 547.7L487.1 553.6L481.5 547.7ZM487.5 543.8L493.1 549.7L487.5 555.6L481.9 549.7ZM487.8 545.0L493.4 550.9L487.8 556.8L482.2 550.9ZM488.2 543.6L493.8 549.5L488.2 555.4L482.6 549.5ZM488.5 541.7L494.1 547.6L488.5 553.5L482.9 547.6ZM488.9 539.0L494.5 544.9L488.9 550.8L483.3 544.9ZM489.2 537.9L494.8 543.8L489.2 549.7L483.6 543.8ZM489.6 538.4L495.2 544.3L489.6 550.2L484.0 544.3ZM489.9 538.9L495.5 544.8L489.9 550.7L484.3 544.8ZM490.3 539.3L495.9 545.2L490.3 551.1L484.7 545.2ZM490.6 538.8L496.2 544.7L490.6 550.6L485.0 544.7ZM491.0 538.0L496.6 543.9L491.0 549.8L485.4 543.9ZM491.3 536.9L496.9 542.8L491.3 548.7L485.7 542.8ZM491.7 535.7L497.3 541.6L491.7 547.5L486.1 541.6ZM492.0 534.6L497.6 540.5L492.0 546.4L486.4 540.5ZM492.4 534.2L498.0 540.1L492.4 546.0L486.8 540.1ZM492.7 534.0L498.3 539.9L492.7 545.8L487.1 539.9ZM493.1 532.6L498.7 538.5L493.1 544.4L487.5 538.5ZM493.4 531.7L499.0 537.6L493.4 543.5L487.8 537.6ZM493.8 533.9L499.4 539.8L493.8 545.7L488.2 539.8ZM494.1 536.2L499.7 542.1L494.1 548.0L488.5 542.1ZM494.5 538.1L500.1 544.0L494.5 549.9L488.9 544.0ZM494.8 537.1L500.4 543.0L494.8 548.9L489.2 543.0ZM495.2 536.0L500.8 541.9L495.2 547.8L489.6 541.9ZM495.5 535.0L501.1 540.9L495.5 546.8L489.9 540.9ZM495.9 534.9L501.5 540.8L495.9 546.7L490.3 540.8ZM496.2 534.8L501.8 540.7L496.2 546.6L490.6 540.7ZM496.6 533.4L502.2 539.3L496.6 545.2L491.0 539.3ZM496.9 532.5L502.5 538.4L496.9 544.3L491.3 538.4ZM497.3 535.5L502.9 541.4L497.3 547.3L491.7 541.4ZM497.6 537.6L503.2 543.5L497.6 549.4L492.0 543.5ZM498.0 537.5L503.6 543.4L498.0 549.3L492.4 543.4ZM498.3 537.4L503.9 543.3L498.3 549.2L492.7 543.3ZM498.7 537.3L504.3 543.2L498.7 549.1L493.1 543.2ZM499.0 537.2L504.6 543.1L499.0 549.0L493.4 543.1ZM499.4 581.8L505.0 587.7L499.4 593.6L493.8 587.7ZM499.7 627.4L505.3 633.3L499.7 639.2L494.1 633.3ZM500.1 696.8L505.7 702.7L500.1 708.6L494.5 702.7ZM500.4 720.9L506.0 726.8L500.4 732.7L494.8 726.8ZM500.8 740.8L506.4 746.7L500.8 752.6L495.2 746.7ZM501.1 755.1L506.7 761.0L501.1 766.9L495.5 761.0ZM501.5 767.3L507.1 773.2L501.5 779.1L495.9 773.2ZM501.8 776.0L507.4 781.9L501.8 787.8L496.2 781.9ZM502.2 784.1L507.8 790.0L502.2 795.9L496.6 790.0ZM502.5 789.4L508.1 795.3L502.5 801.2L496.9 795.3ZM502.9 792.1L508.5 798.0L502.9 803.9L497.3 798.0ZM503.2 794.8L508.8 800.7L503.2 806.6L497.6 800.7ZM503.6 797.3L509.2 803.2L503.6 809.1L498.0 803.2ZM503.9 799.7L509.5 805.6L503.9 811.5L498.3 805.6ZM504.3 802.1L509.9 808.0L504.3 813.9L498.7 808.0ZM504.6 804.5L510.2 810.4L504.6 816.3L499.0 810.4ZM505.0 806.4L510.6 812.3L505.0 818.2L499.4 812.3ZM505.3 808.0L510.9 813.9L505.3 819.8L499.7 813.9ZM505.7 809.5L511.3 815.4L505.7 821.3L500.1 815.4ZM506.0 810.8L511.6 816.7L506.0 822.6L500.4 816.7ZM506.4 811.6L512.0 817.5L506.4 823.4L500.8 817.5ZM506.7 812.4L512.3 818.3L506.7 824.2L501.1 818.3ZM507.1 813.1L512.7 819.0L507.1 824.9L501.5 819.0ZM507.4 813.6L513.0 819.5L507.4 825.4L501.8 819.5ZM507.8 814.1L513.4 820.0L507.8 825.9L502.2 820.0ZM508.1 814.6L513.7 820.5L508.1 826.4L502.5 820.5ZM508.5 815.1L514.1 821.0L508.5 826.9L502.9 821.0ZM508.8 815.6L514.4 821.5L508.8 827.4L503.2 821.5ZM509.2 816.1L514.8 822.0L509.2 827.9L503.6 822.0ZM509.5 816.5L515.1 822.4L509.5 828.3L503.9 822.4ZM509.9 817.0L515.5 822.9L509.9 828.8L504.3 822.9ZM510.2 817.5L515.8 823.4L510.2 829.3L504.6 823.4ZM510.6 817.9L516.2 823.8L510.6 829.7L505.0 823.8ZM510.6 815.6L516.2 821.5L510.6 827.4L505.0 821.5ZM511.0 733.0L516.6 738.9L511.0 744.8L505.4 738.9ZM511.3 700.6L516.9 706.5L511.3 712.4L505.7 706.5ZM511.7 661.0L517.3 666.9L511.7 672.8L506.1 666.9ZM512.0 633.5L517.6 639.4L512.0 645.3L506.4 639.4ZM512.4 611.9L518.0 617.8L512.4 623.7L506.8 617.8ZM512.7 599.2L518.3 605.1L512.7 611.0L507.1 605.1ZM513.1 588.4L518.7 594.3L513.1 600.2L507.5 594.3ZM513.4 578.9L519.0 584.8L513.4 590.7L507.8 584.8ZM513.8 569.7L519.4 575.6L513.8 581.5L508.2 575.6ZM514.1 562.9L519.7 568.8L514.1 574.7L508.5 568.8ZM514.5 557.8L520.1 563.7L514.5 569.6L508.9 563.7ZM514.8 557.8L520.4 563.7L514.8 569.6L509.2 563.7ZM515.2 553.8L520.8 559.7L515.2 565.6L509.6 559.7ZM515.5 549.1L521.1 555.0L515.5 560.9L509.9 555.0ZM515.9 546.3L521.5 552.2L515.9 558.1L510.3 552.2ZM516.2 544.7L521.8 550.6L516.2 556.5L510.6 550.6ZM516.6 543.8L522.2 549.7L516.6 555.6L511.0 549.7ZM516.9 543.0L522.5 548.9L516.9 554.8L511.3 548.9ZM517.3 542.0L522.9 547.9L517.3 553.8L511.7 547.9ZM517.6 542.9L523.2 548.8L517.6 554.7L512.0 548.8ZM518.0 545.4L523.6 551.3L518.0 557.2L512.4 551.3ZM518.3 543.9L523.9 549.8L518.3 555.7L512.7 549.8ZM518.7 542.3L524.3 548.2L518.7 554.1L513.1 548.2ZM519.0 539.6L524.6 545.5L519.0 551.4L513.4 545.5ZM519.4 537.8L525.0 543.7L519.4 549.6L513.8 543.7ZM519.7 538.3L525.3 544.2L519.7 550.1L514.1 544.2ZM520.1 538.7L525.7 544.6L520.1 550.5L514.5 544.6ZM520.4 539.2L526.0 545.1L520.4 551.0L514.8 545.1ZM520.8 539.0L526.4 544.9L520.8 550.8L515.2 544.9ZM521.1 538.3L526.7 544.2L521.1 550.1L515.5 544.2ZM521.5 537.2L527.1 543.1L521.5 549.0L515.9 543.1ZM521.8 536.0L527.4 541.9L521.8 547.8L516.2 541.9ZM522.2 534.9L527.8 540.8L522.2 546.7L516.6 540.8ZM522.5 534.0L528.1 539.9L522.5 545.8L516.9 539.9ZM522.9 534.3L528.5 540.2L522.9 546.1L517.3 540.2ZM523.2 532.9L528.8 538.8L523.2 544.7L517.6 538.8ZM523.6 531.5L529.2 537.4L523.6 543.3L518.0 537.4ZM523.9 533.4L529.5 539.3L523.9 545.2L518.3 539.3ZM524.3 535.6L529.9 541.5L524.3 547.4L518.7 541.5ZM524.6 537.9L530.2 543.8L524.6 549.7L519.0 543.8ZM525.0 537.3L530.6 543.2L525.0 549.1L519.4 543.2ZM525.3 536.3L530.9 542.2L525.3 548.1L519.7 542.2ZM525.7 535.3L531.3 541.2L525.7 547.1L520.1 541.2ZM526.0 534.8L531.6 540.7L526.0 546.6L520.4 540.7ZM526.4 535.1L532.0 541.0L526.4 546.9L520.8 541.0ZM526.7 533.7L532.3 539.6L526.7 545.5L521.1 539.6ZM527.1 532.3L532.7 538.2L527.1 544.1L521.5 538.2ZM527.4 534.8L533.0 540.7L527.4 546.6L521.8 540.7ZM527.8 537.7L533.4 543.6L527.8 549.5L522.2 543.6ZM528.1 537.5L533.7 543.4L528.1 549.3L522.5 543.4ZM528.5 537.4L534.1 543.3L528.5 549.2L522.9 543.3ZM528.8 537.3L534.4 543.2L528.8 549.1L523.2 543.2ZM529.2 537.2L534.8 543.1L529.2 549.0L523.6 543.1ZM529.5 571.0L535.1 576.9L529.5 582.8L523.9 576.9ZM529.9 616.5L535.5 622.4L529.9 628.3L524.3 622.4ZM530.2 681.9L535.8 687.8L530.2 693.7L524.6 687.8ZM530.6 715.6L536.2 721.5L530.6 727.4L525.0 721.5ZM530.9 736.0L536.5 741.9L530.9 747.8L525.3 741.9ZM531.3 752.2L536.9 758.1L531.3 764.0L525.7 758.1ZM531.6 764.4L537.2 770.3L531.6 776.2L526.0 770.3ZM532.0 774.1L537.6 780.0L532.0 785.9L526.4 780.0ZM532.3 782.2L537.9 788.1L532.3 794.0L526.7 788.1ZM532.7 788.7L538.3 794.6L532.7 800.5L527.1 794.6ZM533.0 791.4L538.6 797.3L533.0 803.2L527.4 797.3ZM533.4 794.1L539.0 800.0L533.4 805.9L527.8 800.0ZM533.7 796.7L539.3 802.6L533.7 808.5L528.1 802.6ZM534.1 799.1L539.7 805.0L534.1 810.9L528.5 805.0ZM534.4 801.5L540.0 807.4L534.4 813.3L528.8 807.4ZM534.8 803.9L540.4 809.8L534.8 815.7L529.2 809.8ZM535.1 806.0L540.7 811.9L535.1 817.8L529.5 811.9ZM535.5 807.6L541.1 813.5L535.5 819.4L529.9 813.5ZM535.8 809.1L541.4 815.0L535.8 820.9L530.2 815.0ZM536.2 810.6L541.8 816.5L536.2 822.4L530.6 816.5ZM536.5 811.4L542.1 817.3L536.5 823.2L530.9 817.3ZM536.9 812.2L542.5 818.1L536.9 824.0L531.3 818.1ZM537.2 813.0L542.8 818.9L537.2 824.8L531.6 818.9ZM537.6 813.5L543.2 819.4L537.6 825.3L532.0 819.4ZM537.9 814.0L543.5 819.9L537.9 825.8L532.3 819.9ZM538.3 814.5L543.9 820.4L538.3 826.3L532.7 820.4ZM538.6 815.0L544.2 820.9L538.6 826.8L533.0 820.9ZM539.0 815.5L544.6 821.4L539.0 827.3L533.4 821.4ZM539.3 815.9L544.9 821.8L539.3 827.7L533.7 821.8ZM539.7 816.4L545.3 822.3L539.7 828.2L534.1 822.3ZM540.0 816.9L545.6 822.8L540.0 828.7L534.4 822.8ZM540.4 817.4L546.0 823.3L540.4 829.2L534.8 823.3ZM540.7 817.9L546.3 823.8L540.7 829.7L535.1 823.8ZM540.8 814.5L546.4 820.4L540.8 826.3L535.2 820.4ZM541.2 732.6L546.8 738.5L541.2 744.4L535.6 738.5ZM541.5 700.1L547.1 706.0L541.5 711.9L535.9 706.0ZM541.9 660.5L547.5 666.4L541.9 672.3L536.3 666.4ZM542.2 633.2L547.8 639.1L542.2 645.0L536.6 639.1ZM542.6 611.6L548.2 617.5L542.6 623.4L537.0 617.5ZM542.9 599.1L548.5 605.0L542.9 610.9L537.3 605.0ZM543.3 588.3L548.9 594.2L543.3 600.1L537.7 594.2ZM543.6 578.8L549.2 584.7L543.6 590.6L538.0 584.7ZM544.0 569.6L549.6 575.5L544.0 581.4L538.4 575.5ZM544.3 562.8L549.9 568.7L544.3 574.6L538.7 568.7ZM544.7 557.8L550.3 563.7L544.7 569.6L539.1 563.7ZM545.0 557.8L550.6 563.7L545.0 569.6L539.4 563.7ZM545.4 553.7L551.0 559.6L545.4 565.5L539.8 559.6ZM545.7 549.0L551.4 554.9L545.7 560.8L540.1 554.9ZM546.1 546.3L551.7 552.2L546.1 558.1L540.5 552.2ZM546.4 544.7L552.1 550.6L546.4 556.5L540.8 550.6ZM546.8 543.8L552.4 549.7L546.8 555.6L541.2 549.7ZM547.1 542.9L552.8 548.8L547.1 554.7L541.5 548.8ZM547.5 542.0L553.1 547.9L547.5 553.8L541.9 547.9ZM547.8 543.0L553.5 548.9L547.8 554.8L542.2 548.9ZM548.2 545.4L553.8 551.3L548.2 557.2L542.6 551.3ZM548.5 543.9L554.2 549.8L548.5 555.7L542.9 549.8ZM548.9 542.3L554.5 548.2L548.9 554.1L543.3 548.2ZM549.2 539.6L554.9 545.5L549.2 551.4L543.6 545.5ZM549.6 537.8L555.2 543.7L549.6 549.6L544.0 543.7ZM549.9 538.3L555.6 544.2L549.9 550.1L544.3 544.2ZM550.3 538.8L555.9 544.7L550.3 550.6L544.7 544.7ZM550.6 539.2L556.3 545.1L550.6 551.0L545.0 545.1ZM551.0 539.0L556.6 544.9L551.0 550.8L545.4 544.9ZM551.3 538.3L557.0 544.2L551.3 550.1L545.7 544.2ZM551.7 537.1L557.3 543.0L551.7 548.9L546.1 543.0ZM552.1 536.0L557.7 541.9L552.1 547.8L546.4 541.9ZM552.4 534.8L558.0 540.7L552.4 546.6L546.8 540.7ZM552.8 534.0L558.4 539.9L552.8 545.8L547.1 539.9ZM553.1 534.3L558.7 540.2L553.1 546.1L547.5 540.2ZM553.5 532.9L559.1 538.8L553.5 544.7L547.8 538.8ZM553.8 531.5L559.4 537.4L553.8 543.3L548.2 537.4ZM554.2 533.4L559.8 539.3L554.2 545.2L548.5 539.3ZM554.5 535.7L560.1 541.6L554.5 547.5L548.9 541.6ZM554.9 537.9L560.5 543.8L554.9 549.7L549.2 543.8ZM555.2 537.3L560.8 543.2L555.2 549.1L549.6 543.2ZM555.6 536.3L561.2 542.2L555.6 548.1L549.9 542.2ZM555.9 535.3L561.5 541.2L555.9 547.1L550.3 541.2ZM556.3 534.8L561.9 540.7L556.3 546.6L550.6 540.7ZM556.6 535.1L562.2 541.0L556.6 546.9L551.0 541.0ZM557.0 533.7L562.6 539.6L557.0 545.5L551.3 539.6ZM557.3 532.3L562.9 538.2L557.3 544.1L551.7 538.2ZM557.7 534.8L563.3 540.7L557.7 546.6L552.1 540.7ZM558.0 537.7L563.6 543.6L558.0 549.5L552.4 543.6ZM558.4 537.5L564.0 543.4L558.4 549.3L552.8 543.4ZM558.7 537.4L564.3 543.3L558.7 549.2L553.1 543.3ZM559.1 537.3L564.7 543.2L559.1 549.1L553.5 543.2ZM559.4 537.2L565.0 543.1L559.4 549.0L553.8 543.1ZM559.8 571.6L565.4 577.5L559.8 583.4L554.2 577.5ZM560.1 617.2L565.7 623.1L560.1 629.0L554.5 623.1ZM560.5 682.9L566.1 688.8L560.5 694.7L554.9 688.8ZM560.8 715.9L566.4 721.8L560.8 727.7L555.2 721.8ZM561.2 736.3L566.8 742.2L561.2 748.1L555.6 742.2ZM561.5 752.4L567.1 758.3L561.5 764.2L555.9 758.3ZM561.9 764.5L567.5 770.4L561.9 776.3L556.3 770.4ZM562.2 774.2L567.8 780.1L562.2 786.0L556.6 780.1ZM562.6 782.3L568.2 788.2L562.6 794.1L557.0 788.2ZM562.9 788.8L568.5 794.7L562.9 800.6L557.3 794.7ZM563.3 791.5L568.9 797.4L563.3 803.3L557.7 797.4ZM563.6 794.2L569.2 800.1L563.6 806.0L558.0 800.1ZM564.0 796.7L569.6 802.6L564.0 808.5L558.4 802.6ZM564.3 799.1L569.9 805.0L564.3 810.9L558.7 805.0ZM564.7 801.5L570.3 807.4L564.7 813.3L559.1 807.4ZM565.0 803.9L570.6 809.8L565.0 815.7L559.4 809.8ZM565.4 806.1L571.0 812.0L565.4 817.9L559.8 812.0ZM565.7 807.6L571.3 813.5L565.7 819.4L560.1 813.5ZM566.1 809.2L571.7 815.1L566.1 821.0L560.5 815.1ZM566.4 810.7L572.0 816.6L566.4 822.5L560.8 816.6ZM566.8 811.4L572.4 817.3L566.8 823.2L561.2 817.3ZM567.1 812.2L572.7 818.1L567.1 824.0L561.5 818.1ZM567.5 813.0L573.1 818.9L567.5 824.8L561.9 818.9ZM567.8 813.5L573.4 819.4L567.8 825.3L562.2 819.4ZM568.2 814.0L573.8 819.9L568.2 825.8L562.6 819.9ZM568.5 814.5L574.1 820.4L568.5 826.3L562.9 820.4ZM568.9 815.0L574.5 820.9L568.9 826.8L563.3 820.9ZM569.2 815.5L574.8 821.4L569.2 827.3L563.6 821.4ZM569.6 816.0L575.2 821.9L569.6 827.8L564.0 821.9Z" fill="#0000ff"/>
<path d="M209.5 503.30H252.5" stroke="#666" stroke-width="1.6"/>
<path d="M231.2 498.3L236.2 507.3H226.2Z" fill="#000"/>
<text x="257.5" y="509.7" font-size="18" text-anchor="start" fill="#000" textLength="22.5" lengthAdjust="spacingAndGlyphs" >3V</text>
<path d="M209.5 527.70H252.5" stroke="#ff9a9a" stroke-width="1.6"/>
<path d="M226.5 527.7a4.7 4.7 0 1 0 9.4 0a4.7 4.7 0 1 0 -9.4 0Z" fill="#f00"/>
<text x="257.5" y="534.1" font-size="18" text-anchor="start" fill="#000" textLength="22.5" lengthAdjust="spacingAndGlyphs" >4V</text>
<path d="M209.5 552.10H252.5" stroke="#98ff98" stroke-width="1.6"/>
<path d="M231.2 546.6L232.7 550.0L236.4 550.4L233.7 552.9L234.4 556.5L231.2 554.7L228.0 556.5L228.7 552.9L226.0 550.4L229.7 550.0Z" fill="#0f0"/>
<text x="257.5" y="558.5" font-size="18" text-anchor="start" fill="#000" textLength="22.5" lengthAdjust="spacingAndGlyphs" >5V</text>
<path d="M209.5 576.50H252.5" stroke="#a2a2ff" stroke-width="1.6"/>
<path d="M231.2 570.6L236.8 576.5L231.2 582.4L225.6 576.5Z" fill="#00f"/>
<text x="257.5" y="582.9" font-size="18" text-anchor="start" fill="#000" textLength="22.5" lengthAdjust="spacingAndGlyphs" >6V</text>
<path d="M749.80 828.80L753.79 772.49Q754.00 769.50 754.34 766.52L760.56 712.08Q760.90 709.10 761.63 706.19L769.47 674.81Q770.20 671.90 770.70 668.94L774.40 646.96Q774.90 644.00 775.65 642.00L775.65 642.00Q776.40 640.00 777.08 637.08L778.92 629.12Q779.60 626.20 780.93 623.51L784.57 616.19Q785.90 613.50 787.60 611.03L791.30 605.67Q793.00 603.20 795.56 601.64L796.84 600.86Q799.40 599.30 801.02 596.77L804.88 590.73Q806.50 588.20 808.30 585.80L809.50 584.20Q811.30 581.80 814.19 580.99L819.41 579.51Q822.30 578.70 824.54 576.71L828.38 573.30Q829.50 572.30 830.99 572.47L835.11 572.93Q836.60 573.10 837.54 571.93L841.03 567.55Q842.90 565.20 845.32 563.42L846.88 562.28Q849.30 560.50 852.21 559.76L852.69 559.64Q855.60 558.90 858.27 557.54L859.23 557.06Q861.90 555.70 864.74 554.74L868.56 553.46Q871.40 552.50 874.36 552.02L882.74 550.68Q885.70 550.20 888.23 548.59L889.47 547.81Q892.00 546.20 894.40 544.41L895.90 543.29Q898.30 541.50 901.29 541.29L902.51 541.21Q905.50 541.00 908.49 541.19L911.90 541.41Q913.40 541.50 914.01 540.13L915.38 537.04Q916.60 534.30 919.29 532.98L921.55 531.86Q922.90 531.20 924.10 532.10L928.00 535.00Q929.20 535.90 930.20 534.78L932.81 531.84Q934.80 529.60 936.92 527.48L940.04 524.36Q941.10 523.30 942.60 523.38L950.80 523.83Q953.80 524.00 956.74 524.60L958.76 525.00Q961.70 525.60 964.48 524.46L968.42 522.84Q971.20 521.70 973.98 520.57L977.71 519.06Q979.10 518.50 980.44 519.18L982.73 520.34Q985.40 521.70 988.33 521.07L993.57 519.93Q996.50 519.30 999.31 518.24L1006.39 515.56Q1009.20 514.50 1012.00 515.57L1012.70 515.83Q1015.50 516.90 1018.33 515.90L1020.57 515.10Q1023.40 514.10 1026.39 514.29L1026.81 514.31Q1029.80 514.50 1032.15 515.70L1032.15 515.70Q1034.50 516.90 1036.89 518.72L1039.61 520.79Q1040.80 521.70 1041.74 520.53L1046.26 514.97Q1047.20 513.80 1047.52 515.27L1048.96 521.87Q1049.60 524.80 1049.88 527.79L1054.82 580.41Q1055.10 583.40 1055.39 586.39L1059.41 627.01Q1059.70 630.00 1060.09 632.97L1063.31 657.23Q1063.70 660.20 1064.09 663.17L1067.91 692.03Q1068.30 695.00 1068.80 697.96L1072.50 719.94Q1073.00 722.90 1074.01 725.73L1077.79 736.37Q1078.80 739.20 1080.02 741.94L1086.88 757.26Q1088.10 760.00 1089.89 762.41L1096.71 771.59Q1098.50 774.00 1099.84 776.68L1102.96 782.92Q1104.30 785.60 1105.98 788.09L1109.62 793.51Q1111.30 796.00 1113.79 797.68L1119.21 801.32Q1121.70 803.00 1124.02 804.90L1129.88 809.70Q1132.20 811.60 1135.18 811.91L1140.82 812.49Q1143.80 812.80 1146.73 813.43L1154.77 815.17Q1157.70 815.80 1160.37 817.17L1163.23 818.63Q1165.90 820.00 1168.89 820.19L1172.10 820.40" fill="none" stroke="#0000ff" stroke-width="3.4" stroke-linejoin="round" stroke-linecap="round" />
<path d="M749.80 826.50L754.84 767.89Q755.10 764.90 755.53 761.93L761.67 718.97Q762.10 716.00 762.78 713.08L768.42 688.72Q769.10 685.80 769.78 682.88L776.52 653.82Q777.20 650.90 778.05 648.02L779.55 642.88Q780.40 640.00 781.51 637.21L784.79 628.99Q785.90 626.20 787.82 623.89L791.88 619.01Q793.80 616.70 795.15 614.02L798.05 608.28Q799.40 605.60 801.41 603.37L804.49 599.93Q806.50 597.70 807.93 595.06L810.67 590.04Q812.10 587.40 814.96 586.50L819.44 585.10Q822.30 584.20 825.08 583.06L829.02 581.44Q831.80 580.30 834.55 579.11L840.15 576.69Q842.90 575.50 845.25 573.63L848.45 571.07Q850.80 569.20 853.16 567.35L859.54 562.35Q861.90 560.50 864.66 559.34L868.64 557.66Q871.40 556.50 874.19 555.39L878.01 553.86Q879.40 553.30 880.77 553.92L885.13 555.88Q886.50 556.50 887.49 555.37L890.03 552.46Q892.00 550.20 894.91 549.46L895.39 549.34Q898.30 548.60 901.15 547.65L905.05 546.35Q907.90 545.40 910.86 545.90L915.92 546.75Q917.40 547.00 918.37 545.86L922.73 540.74Q923.70 539.60 925.20 539.48L927.01 539.34Q930.00 539.10 932.84 538.14L936.66 536.86Q939.50 535.90 942.00 534.24L946.50 531.26Q949.00 529.60 951.74 528.39L958.96 525.21Q961.70 524.00 964.69 523.78L968.21 523.52Q971.20 523.30 974.07 522.43L976.23 521.77Q979.10 520.90 981.97 521.78L988.93 523.92Q991.80 524.80 994.75 524.24L995.15 524.16Q998.10 523.60 1000.84 524.82L1003.03 525.79Q1004.40 526.40 1005.78 525.82L1008.04 524.87Q1010.80 523.70 1013.80 523.70L1014.10 523.70Q1017.10 523.70 1019.90 524.78L1026.80 527.46Q1028.20 528.00 1029.57 527.39L1033.36 525.72Q1036.10 524.50 1039.09 524.69L1045.70 525.11Q1047.20 525.20 1047.43 526.68L1049.84 542.43Q1050.30 545.40 1050.66 548.38L1054.74 582.02Q1055.10 585.00 1055.31 587.99L1058.09 627.01Q1058.30 630.00 1058.66 632.98L1062.14 661.82Q1062.50 664.80 1062.82 667.78L1066.88 706.02Q1067.20 709.00 1067.82 711.94L1069.98 722.26Q1070.60 725.20 1072.58 727.45L1076.82 732.25Q1078.80 734.50 1080.14 737.18L1086.76 750.42Q1088.10 753.10 1089.96 755.45L1095.44 762.35Q1097.30 764.70 1097.85 767.65L1100.25 780.35Q1100.80 783.30 1101.81 786.12L1105.59 796.68Q1106.60 799.50 1109.20 800.99L1112.20 802.71Q1114.80 804.20 1116.33 806.78L1120.17 813.22Q1121.70 815.80 1124.40 817.10L1124.80 817.30Q1127.50 818.60 1130.50 818.72L1172.10 820.40" fill="none" stroke="#ff0000" stroke-width="3.4" stroke-linejoin="round" stroke-linecap="round" />
<path d="M749.80 820.70L756.00 758.59Q756.30 755.60 756.91 752.66L761.49 730.64Q762.10 727.70 763.18 724.90L769.12 709.50Q770.20 706.70 770.70 703.74L777.90 660.86Q778.40 657.90 779.91 655.31L784.99 646.59Q786.50 644.00 787.80 642.00L787.80 642.00Q789.10 640.00 790.48 637.33L792.42 633.57Q793.80 630.90 795.69 628.57L798.31 625.33Q800.20 623.00 801.86 620.50L804.84 616.00Q806.50 613.50 808.45 611.22L814.05 604.68Q816.00 602.40 817.59 599.86L822.31 592.34Q823.90 589.80 826.64 588.59L833.86 585.41Q836.60 584.20 839.15 582.62L846.75 577.88Q849.30 576.30 851.42 574.18L855.08 570.52Q857.20 568.40 859.88 567.04L862.42 565.76Q865.10 564.40 867.50 562.60L872.20 559.10Q874.60 557.30 877.51 556.57L884.39 554.83Q887.30 554.10 890.24 553.49L895.36 552.41Q898.30 551.80 900.17 549.46L902.83 546.14Q904.70 543.80 907.68 543.42L908.02 543.38Q911.00 543.00 913.91 543.73L914.49 543.87Q917.40 544.60 920.09 543.28L922.35 542.16Q923.70 541.50 924.90 542.40L928.80 545.30Q930.00 546.20 931.39 545.64L935.12 544.13Q937.90 543.00 940.89 542.80L945.21 542.50Q948.20 542.30 950.56 544.15L952.62 545.77Q953.80 546.70 955.03 545.84L957.64 544.02Q960.10 542.30 963.10 542.30L963.40 542.30Q966.40 542.30 969.28 543.15L973.02 544.25Q975.90 545.10 978.90 545.10L982.40 545.10Q985.40 545.10 988.33 544.45L995.17 542.95Q998.10 542.30 1000.79 543.62L1001.71 544.08Q1004.40 545.40 1007.31 544.67L1012.59 543.33Q1015.50 542.60 1018.33 543.60L1020.57 544.40Q1023.40 545.40 1026.37 544.97L1031.53 544.23Q1034.50 543.80 1037.48 544.17L1045.71 545.21Q1047.20 545.40 1047.42 546.88L1049.15 558.33Q1049.60 561.30 1049.89 564.29L1053.21 597.81Q1053.50 600.80 1053.83 603.78L1056.37 627.02Q1056.70 630.00 1057.00 632.98L1061.10 673.42Q1061.40 676.40 1061.73 679.38L1065.67 715.22Q1066.00 718.20 1067.15 720.97L1070.65 729.43Q1071.80 732.20 1073.02 734.94L1079.88 750.36Q1081.10 753.10 1082.56 755.72L1091.24 771.38Q1092.70 774.00 1094.50 776.40L1097.90 780.90Q1099.70 783.30 1100.25 786.25L1102.65 798.95Q1103.20 801.90 1104.45 804.63L1107.75 811.87Q1109.00 814.60 1111.77 815.76L1120.13 819.24Q1122.90 820.40 1125.90 820.43L1172.10 820.90" fill="none" stroke="#00ff00" stroke-width="3.4" stroke-linejoin="round" stroke-linecap="round" />
<path d="M749.80 818.40L755.90 772.47Q756.30 769.50 756.76 766.54L761.64 735.26Q762.10 732.30 763.44 729.62L766.56 723.38Q767.90 720.70 768.53 717.77L774.27 691.03Q774.90 688.10 775.54 685.17L780.06 664.33Q780.70 661.40 782.82 659.28L786.68 655.42Q788.80 653.30 790.46 650.80L796.44 641.80Q798.10 639.30 800.22 637.18L804.38 633.02Q806.50 630.90 807.94 628.27L814.56 616.13Q816.00 613.50 817.67 611.01L823.83 601.79Q825.50 599.30 827.62 597.18L828.18 596.62Q830.30 594.50 832.97 593.14L833.93 592.66Q836.60 591.30 839.07 589.60L846.83 584.30Q849.30 582.60 851.53 580.59L854.97 577.51Q857.20 575.50 859.56 573.65L867.12 567.73Q868.30 566.80 869.67 567.40L872.43 568.60Q873.80 569.20 875.11 568.48L879.87 565.85Q882.50 564.40 885.10 562.90L889.40 560.40Q892.00 558.90 894.95 559.46L901.75 560.74Q904.70 561.30 907.62 560.60L909.68 560.10Q912.60 559.40 915.60 559.27L920.70 559.03Q923.70 558.90 926.68 559.28L927.02 559.32Q930.00 559.70 932.88 560.54L935.02 561.16Q937.90 562.00 940.87 561.57L950.83 560.13Q953.80 559.70 956.35 561.28L959.62 563.31Q960.90 564.10 962.13 563.24L965.97 560.56Q967.20 559.70 968.43 560.56L972.27 563.24Q973.50 564.10 974.91 563.58L982.59 560.74Q985.40 559.70 988.40 559.56L999.80 559.04Q1002.80 558.90 1005.60 559.98L1008.00 560.92Q1010.80 562.00 1013.55 560.85L1013.55 560.85Q1016.30 559.70 1019.15 560.62L1020.55 561.08Q1023.40 562.00 1026.34 561.39L1031.56 560.31Q1034.50 559.70 1037.32 560.73L1037.98 560.97Q1040.80 562.00 1043.66 561.09L1046.57 560.16Q1048.00 559.70 1048.14 561.19L1050.82 589.91Q1051.10 592.90 1051.37 595.89L1054.13 627.01Q1054.40 630.00 1054.67 632.99L1058.73 678.11Q1059.00 681.10 1059.39 684.07L1064.41 722.23Q1064.80 725.20 1065.90 727.99L1071.90 743.31Q1073.00 746.10 1074.61 748.63L1081.79 759.87Q1083.40 762.40 1084.75 765.08L1089.05 773.62Q1090.40 776.30 1092.51 778.44L1095.19 781.16Q1097.30 783.30 1097.90 786.24L1101.40 803.56Q1102.00 806.50 1104.22 808.51L1111.38 814.99Q1113.60 817.00 1116.56 817.49L1124.54 818.81Q1127.50 819.30 1130.50 819.35L1172.10 820.00" fill="none" stroke="#cc33ff" stroke-width="3.4" stroke-linejoin="round" stroke-linecap="round" />
<path d="M1069.3 505.40H1111.3" stroke="#0000ff" stroke-width="3.8"/>
<text x="1114.2" y="511.3" font-size="17.5" text-anchor="start" fill="#000" textLength="53.7" lengthAdjust="spacingAndGlyphs" >Cycle 1</text>
<path d="M1069.3 527.45H1111.3" stroke="#ff0000" stroke-width="3.8"/>
<text x="1114.2" y="533.3" font-size="17.5" text-anchor="start" fill="#000" textLength="54.7" lengthAdjust="spacingAndGlyphs" >Cycle 5</text>
<path d="M1069.3 549.50H1111.3" stroke="#00ff00" stroke-width="3.8"/>
<text x="1114.2" y="555.4" font-size="17.5" text-anchor="start" fill="#000" textLength="63.2" lengthAdjust="spacingAndGlyphs" >Cycle 10</text>
<path d="M1069.3 571.55H1111.3" stroke="#cc33ff" stroke-width="3.8"/>
<text x="1114.2" y="577.4" font-size="17.5" text-anchor="start" fill="#000" textLength="63.2" lengthAdjust="spacingAndGlyphs" >Cycle 20</text>
<rect x="825.1" y="614.8" width="219.0" height="228.3" fill="#fff" stroke="#4472c4" stroke-width="2.6" stroke-dasharray="11.3 9.1"/>
<defs>
<linearGradient id="ebg" x1="0" y1="0" x2="0" y2="1"><stop offset="0" stop-color="#7a0fa2"/><stop offset="0.3" stop-color="#8a12a6"/><stop offset="0.75" stop-color="#8611a6"/><stop offset="1" stop-color="#7a10a0"/></linearGradient>
<radialGradient id="ehot" cx="0.52" cy="0.46" r="0.62"><stop offset="0" stop-color="#eef08e"/><stop offset="0.27" stop-color="#f1e97a"/><stop offset="0.48" stop-color="#f8cf2c"/><stop offset="0.7" stop-color="#fbab14"/><stop offset="0.88" stop-color="#f5861c"/><stop offset="1" stop-color="#ee6c2a"/></radialGradient>
<filter id="b1" x="-20%" y="-20%" width="140%" height="140%"><feGaussianBlur stdDeviation="1.3"/></filter>
<filter id="b2" x="-30%" y="-30%" width="160%" height="160%"><feGaussianBlur stdDeviation="2.6"/></filter>
<filter id="b3" x="-40%" y="-40%" width="180%" height="180%"><feGaussianBlur stdDeviation="4"/></filter>
<clipPath id="ecl"><rect x="0" y="0" width="90.4" height="96.4"/></clipPath>
<g id="thE" clip-path="url(#ecl)">
<rect x="0" y="0" width="90.4" height="96.4" fill="url(#ebg)"/>
<path d="M70 -4h26v64h-14l-10 -30z" fill="#5a0c98" filter="url(#b3)"/>
<rect x="22" y="1" width="32" height="12" fill="#5e0e98" filter="url(#b2)"/>
<path d="M1 40h74v30h-74z" fill="#c83878" opacity="0.85" filter="url(#b3)"/>
<path d="M1 -2h22l-2 42h-18z" fill="#c43480" filter="url(#b2)"/>
<path d="M53 -2h22l-6 44h-18z" fill="#c43480" filter="url(#b2)"/>
<path d="M3 40h16v30h-16z" fill="#e0504a" filter="url(#b2)"/>
<path d="M54 42h14v26h-14z" fill="#d4487a" filter="url(#b2)"/>
<path d="M7 7h9.5l1 64h-10z" fill="#ea6232" filter="url(#b1)"/>
<path d="M8 7h7.5v16h-7.5z" fill="#f07a26" filter="url(#b1)"/>
<path d="M56.5 9.5h10l-7.5 62h-7z" fill="#ea6232" filter="url(#b1)"/>
<path d="M57.5 10h8l-1.5 14h-7z" fill="#f07a26" filter="url(#b1)"/>
<path d="M17.5 41l36 -1l-1 27l-35 2z" fill="url(#ehot)" filter="url(#b1)"/>
</g></defs>
<use href="#thE" transform="translate(839.4,629.2) scale(1,0.997)"/>
<use href="#thE" transform="translate(942.3,629.2) scale(1,0.997)"/>
<use href="#thE" transform="translate(839.4,735) scale(1,1.009)"/>
<use href="#thE" transform="translate(942.3,736.6) scale(1,0.993)"/>
<g fill="none" stroke="#2e75b6" stroke-width="4"><path d="M1332.75 487.75H1803" stroke-dasharray="35 13.1" stroke-dashoffset="-2.75"/><path d="M1332.75 487.75h4"/><path d="M1334.75 501.5V862" stroke-dasharray="34.8 13.3"/><path d="M1804.2 499.9V862" stroke-dasharray="34.3 13.76"/><path d="M1332.75 860.4H1806.2" stroke-dasharray="35 13.1" stroke-dashoffset="19.85" stroke-width="4.3"/></g>
<defs>
<filter id="f1" x="-30%" y="-30%" width="160%" height="160%"><feGaussianBlur stdDeviation="1.2"/></filter>
<filter id="f2" x="-40%" y="-40%" width="180%" height="180%"><feGaussianBlur stdDeviation="2.4"/></filter>
<filter id="f4" x="-50%" y="-50%" width="200%" height="200%"><feGaussianBlur stdDeviation="4.5"/></filter>
<linearGradient id="cbar" x1="0" y1="0" x2="0" y2="1">
<stop offset="0" stop-color="#eba392"/><stop offset="0.07" stop-color="#ea9d8f"/><stop offset="0.16" stop-color="#e98384"/><stop offset="0.25" stop-color="#e8616e"/><stop offset="0.33" stop-color="#e7355a"/><stop offset="0.40" stop-color="#e7234e"/><stop offset="0.47" stop-color="#ea3440"/><stop offset="0.53" stop-color="#ee5a30"/><stop offset="0.60" stop-color="#ee8426"/><stop offset="0.68" stop-color="#ea9c22"/><stop offset="0.76" stop-color="#e2b81c"/><stop offset="0.84" stop-color="#d3c815"/><stop offset="0.886" stop-color="#aac410"/><stop offset="0.916" stop-color="#62ac22"/><stop offset="0.94" stop-color="#1f9a78"/><stop offset="0.957" stop-color="#1277c6"/><stop offset="0.973" stop-color="#1050ae"/><stop offset="0.985" stop-color="#0f1c72"/><stop offset="1" stop-color="#0d1766"/></linearGradient>
<radialGradient id="h1" cx="0.47" cy="0.5" r="0.6"><stop offset="0" stop-color="#efb01a"/><stop offset="0.45" stop-color="#ebc21c"/><stop offset="0.8" stop-color="#d8cc1e"/><stop offset="1" stop-color="#a8c428"/></radialGradient>
<radialGradient id="h2" cx="0.5" cy="0.48" r="0.62"><stop offset="0" stop-color="#f08a22"/><stop offset="0.5" stop-color="#f0a420"/><stop offset="0.85" stop-color="#e4c61c"/><stop offset="1" stop-color="#b8c824"/></radialGradient>
<radialGradient id="h3" cx="0.5" cy="0.5" r="0.5"><stop offset="0" stop-color="#f3dccb"/><stop offset="0.45" stop-color="#f2d2c2"/><stop offset="0.62" stop-color="#f0708a"/><stop offset="0.8" stop-color="#ee2a58"/><stop offset="1" stop-color="#ee3a48"/></radialGradient>
<radialGradient id="h5" cx="0.5" cy="0.5" r="0.55"><stop offset="0" stop-color="#86bb16"/><stop offset="0.6" stop-color="#78b620"/><stop offset="0.85" stop-color="#4aa840"/><stop offset="1" stop-color="#2a98a0"/></radialGradient>
<radialGradient id="h6" cx="0.5" cy="0.5" r="0.55"><stop offset="0" stop-color="#9cc414"/><stop offset="0.6" stop-color="#88bc1c"/><stop offset="0.85" stop-color="#50aa40"/><stop offset="1" stop-color="#2898a8"/></radialGradient>
<linearGradient id="bg1" x1="0" y1="0" x2="1" y2="1"><stop offset="0" stop-color="#1766c6"/><stop offset="0.35" stop-color="#1254b2"/><stop offset="1" stop-color="#104aa6"/></linearGradient>
<linearGradient id="bg3" x1="1" y1="0" x2="0.2" y2="0.9"><stop offset="0" stop-color="#1152b4"/><stop offset="0.45" stop-color="#1266cc"/><stop offset="1" stop-color="#0d48aa"/></linearGradient>
</defs>
<clipPath id="c1"><rect x="0" y="0" width="109.6" height="114.2"/></clipPath>
<g transform="translate(1351.1,508.3)" clip-path="url(#c1)">
<rect width="110" height="115" fill="url(#bg1)"/>
<rect x="70" y="-4" width="44" height="12" fill="#0f4099" filter="url(#f4)"/>
<rect x="20" y="0" width="30" height="46" fill="#104aa8" filter="url(#f2)"/>
<path d="M2 46h66v30h-66z" fill="#1a8ede" filter="url(#f4)" opacity="0.9"/>
<ellipse cx="8" cy="6" rx="10" ry="14" fill="#1a7ad6" filter="url(#f2)"/>
<ellipse cx="63" cy="8" rx="10" ry="14" fill="#1a7ad6" filter="url(#f2)"/>
<path d="M7 12h7l1.2 66h-7.5z" fill="#2a9a78" filter="url(#f1)"/>
<path d="M8.5 11h4.5v16h-4.5z" fill="#86b62c" filter="url(#f1)"/>
<path d="M58.5 15h6l-7.5 63h-4.5z" fill="#2a9a78" filter="url(#f1)"/>
<path d="M59.5 15h4.5l-1 10h-4z" fill="#86b62c" filter="url(#f1)"/>
<path d="M14.5 46l39.5-1.5l-1 30l-38 2.5z" fill="#58b040" filter="url(#f1)"/>
<path d="M17.5 47.5l35-1l-1 27l-33.5 2z" fill="url(#h1)" filter="url(#f1)"/>
</g>
<text x="1373.5" y="609.9" font-size="23.6" text-anchor="start" fill="#fff" textLength="65.4" lengthAdjust="spacingAndGlyphs" >64.5°C</text>
<clipPath id="c2"><rect x="0" y="0" width="110.3" height="115.3"/></clipPath>
<g transform="translate(1476.7,508.3)" clip-path="url(#c2)">
<rect width="111" height="116" fill="#1272d4"/>
<rect x="-4" y="-4" width="14" height="124" fill="#1668c6" filter="url(#f2)"/>
<rect x="-2" y="107" width="116" height="14" fill="#1e9ea4" filter="url(#f2)" opacity="0.8"/><rect x="-4" y="104" width="60" height="8" fill="#126ed2" filter="url(#f2)"/>

<rect x="26" y="22" width="36" height="14" fill="#1f9aa8" filter="url(#f4)"/>
<path d="M4 38h78v30h-78z" fill="#3aa878" filter="url(#f2)"/>
<path d="M10 -2h15v70h-13z" fill="#6eb432" filter="url(#f1)"/>
<path d="M15 -2h5v16h-5z" fill="#c4c81c" filter="url(#f1)"/>
<path d="M62 -2h15l-2 70h-12z" fill="#6eb432" filter="url(#f1)"/>
<path d="M66 -2h5v14h-5z" fill="#b4c41c" filter="url(#f1)"/>
<path d="M6 40h74v26h-20l-36 2h-18z" fill="#86bc28" filter="url(#f1)"/>
<path d="M23 34.5l39-1.5l0 30l-39 3z" fill="#dcc81c" filter="url(#f1)"/>
<path d="M25.5 37l34-1l0 25l-34 2.5z" fill="url(#h2)" filter="url(#f1)"/>
<ellipse cx="43.4" cy="48.2" rx="11.4" ry="8.8" fill="#e8213f" filter="url(#f2)"/>
</g>
<text x="1496.2" y="609.9" font-size="23.6" text-anchor="start" fill="#fff" textLength="66.3" lengthAdjust="spacingAndGlyphs" >92.4°C</text>
<clipPath id="c3"><rect x="0" y="0" width="109.5" height="115.6"/></clipPath>
<g transform="translate(1596.1,508.0)" clip-path="url(#c3)">
<rect width="110" height="116" fill="url(#bg3)"/>
<ellipse cx="52" cy="44" rx="46" ry="34" fill="#1a88d8" filter="url(#f4)"/>
<ellipse cx="42" cy="48" rx="42" ry="28" fill="#2aa888" filter="url(#f4)"/>
<rect x="22" y="18" width="32" height="18" fill="#3aa860" filter="url(#f2)"/>
<path d="M1 -2h20l1 72h-16z" fill="#a4c420" filter="url(#f1)"/>
<path d="M4 -2h13l0 40h-10z" fill="#c6c81c" filter="url(#f1)"/>
<path d="M53 -2h18l-3 66h-15z" fill="#9cc220" filter="url(#f1)"/>
<path d="M57 -2h9l-1 30h-8z" fill="#bcc61c" filter="url(#f1)"/>
<path d="M3 40h22l0 -8l50 -3l2 31l-51 11h-18z" fill="#b8c820" filter="url(#f1)"/>
<path d="M8 42h66v18l-50 9h-14z" fill="#dcc41c" filter="url(#f1)"/>
<path d="M23 35l33-3l1 32l-33 5z" fill="#f09a20" filter="url(#f1)"/>
<ellipse cx="40.4" cy="48.2" rx="15.2" ry="13.2" fill="url(#h3)" filter="url(#f1)"/>
<rect x="-2" y="107" width="24" height="12" fill="#1f9e88" filter="url(#f1)"/>
<rect x="72" y="103" width="40" height="14" fill="#1c96a8" filter="url(#f2)"/>
<path d="M62 116l12-14h4l-10 14z" fill="#1a78d0" filter="url(#f1)"/>
<path d="M21 104h44l-3 13h-41z" fill="#101a6c" filter="url(#f1)"/>
</g>
<text x="1622.2" y="609.5" font-size="23.6" text-anchor="start" fill="#fff" textLength="76.6" lengthAdjust="spacingAndGlyphs" >123.2°C</text>
<clipPath id="c4"><rect x="0" y="0" width="111.4" height="114.1"/></clipPath>
<g transform="translate(1349.3,724.5)" clip-path="url(#c4)">
<rect width="112" height="115" fill="#0f4298"/>
<rect x="16.5" y="8" width="8.5" height="64" fill="#1454b6" filter="url(#f2)"/>
<path d="M73 9h8l-6 60h-7z" fill="#1352b2" filter="url(#f2)"/>
<ellipse cx="48" cy="53" rx="15" ry="11" fill="#155ac0" filter="url(#f4)"/>
<path d="M6 28l8 12l6 62M76 38l-8 66" stroke="#2a58a8" stroke-width="0.6" fill="none"/>
</g>
<text x="1383.0" y="824.9" font-size="23.6" text-anchor="start" fill="#fff" textLength="65.9" lengthAdjust="spacingAndGlyphs" >34.4°C</text>
<clipPath id="c5"><rect x="0" y="0" width="109.0" height="114.1"/></clipPath>
<g transform="translate(1473.1,724.5)" clip-path="url(#c5)">
<rect width="110" height="115" fill="#103c92"/>
<rect x="16" y="0" width="10" height="60" fill="#11469e" filter="url(#f2)"/>
<path d="M32 18l48-2l1 38l-48 3z" fill="#178ae0" filter="url(#f2)"/>
<path d="M37.5 22l38-1.5l1 30l-38 2.5z" fill="#2a9c98" filter="url(#f2)"/>
<path d="M40.5 24l32-1.5l1 25l-32 2.5z" fill="url(#h5)" filter="url(#f2)"/>
<path d="M3 26l7 14l7 66M92 10l-8 96" stroke="#2a54a4" stroke-width="0.6" fill="none"/>
</g>
<text x="1490.2" y="821.8" font-size="23.6" text-anchor="start" fill="#fff" textLength="65.9" lengthAdjust="spacingAndGlyphs" >39.3°C</text>
<clipPath id="c6"><rect x="0" y="0" width="111.2" height="115.6"/></clipPath>
<g transform="translate(1594.4,723.0)" clip-path="url(#c6)">
<rect width="112" height="116" fill="#0f4298"/>
<rect x="-2" y="104" width="116" height="14" fill="#1250ae" filter="url(#f2)"/>
<path d="M12 0h12l1 66h-10z" fill="#1568c8" filter="url(#f2)"/>
<path d="M60 0h12l-4 64h-9z" fill="#1568c8" filter="url(#f2)"/>
<path d="M14 -2h6v10h-6zM64 -2h5v8h-5z" fill="#2a9c80" filter="url(#f1)"/>
<path d="M22 31h38v30h-38z" fill="#1780d8" filter="url(#f2)"/>
<path d="M25 32.5l31.5-1l1 26.5l-31.5 2.5z" fill="#2a9c98" filter="url(#f2)"/>
<path d="M26.5 33.5l29-1l1 24.5l-29.5 2.5z" fill="url(#h6)" filter="url(#f2)"/>
</g>
<text x="1621.5" y="826.2" font-size="23.6" text-anchor="start" fill="#fff" textLength="65.3" lengthAdjust="spacingAndGlyphs" >50.7°C</text>
<path d="M1710.2 508.2H1731.7V837.5a2.6 2.6 0 0 1 -2.6 2.6H1712.8a2.6 2.6 0 0 1 -2.6 -2.6Z" fill="url(#cbar)"/>
<text x="1733.2" y="535.0" font-size="26" text-anchor="start" fill="#000" textLength="68.3" lengthAdjust="spacingAndGlyphs" >130°C</text>
<text x="1740.4" y="828.7" font-size="27" text-anchor="start" fill="#000" textLength="55.6" lengthAdjust="spacingAndGlyphs" >30°C</text>
</svg>
</body></html>
